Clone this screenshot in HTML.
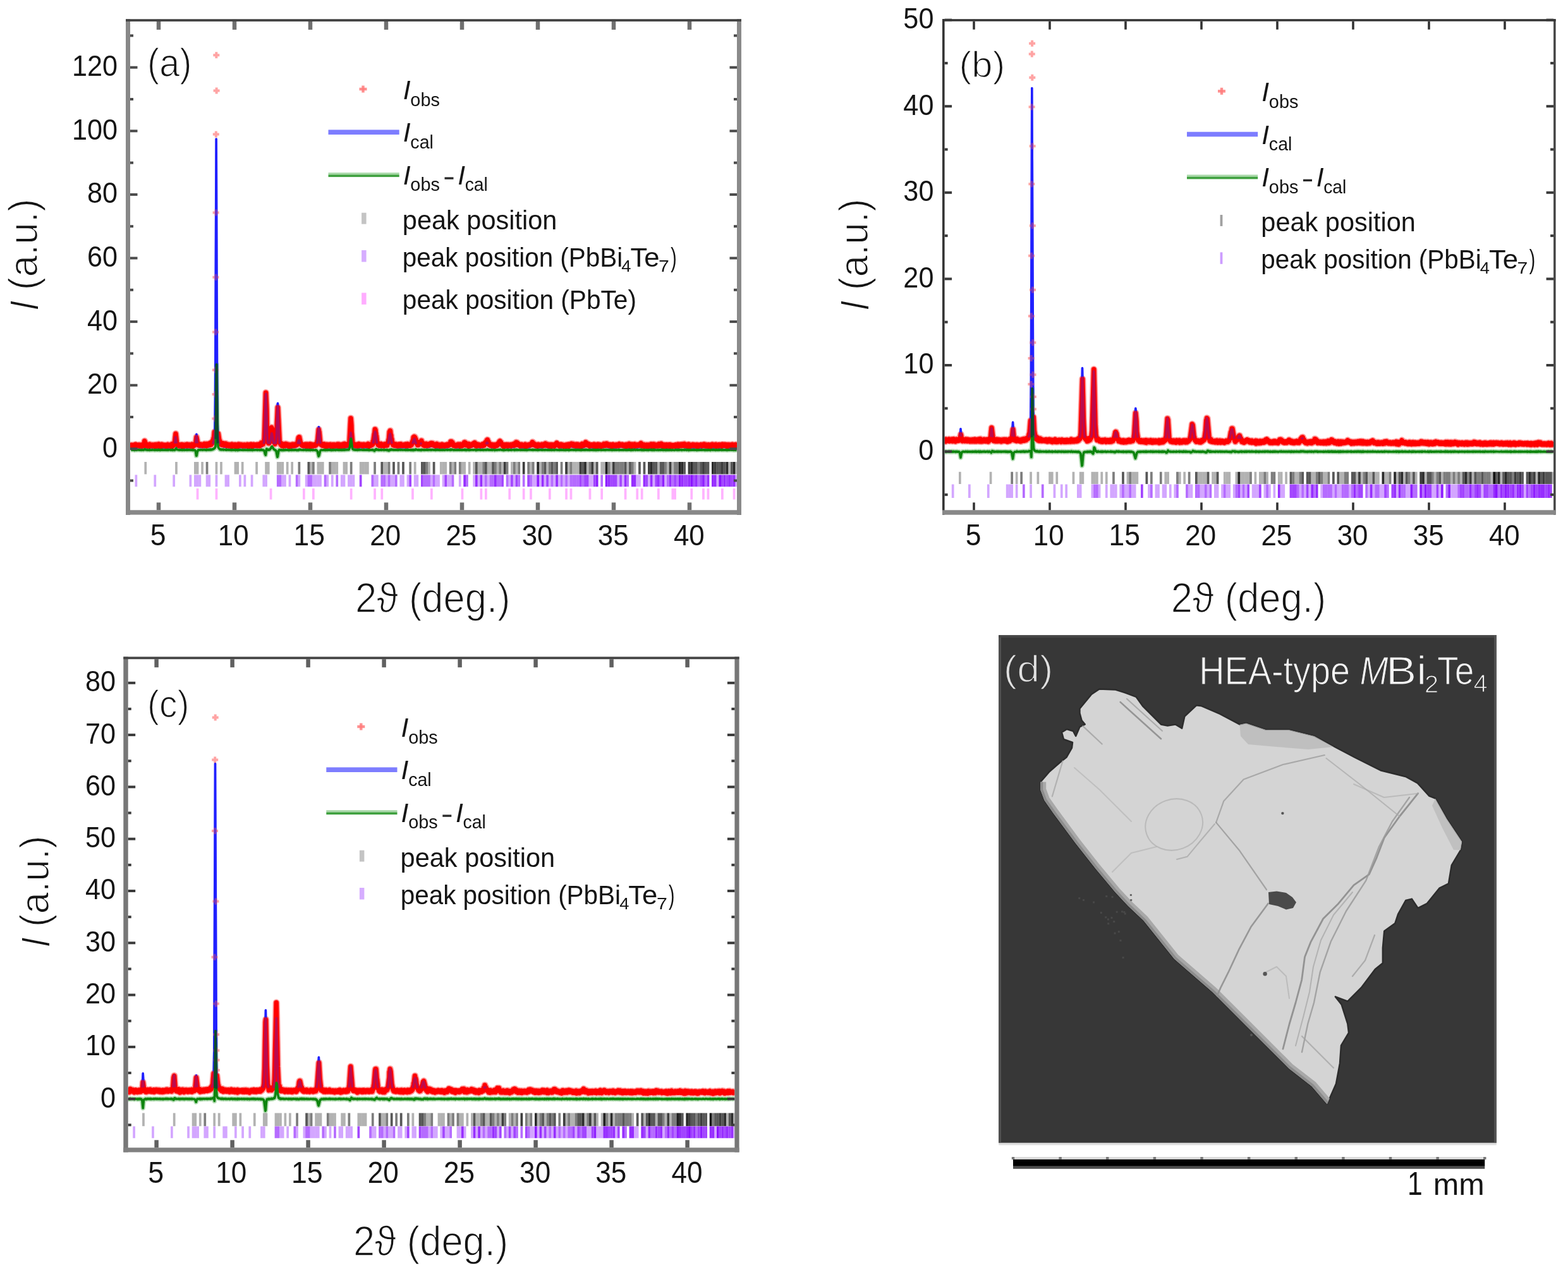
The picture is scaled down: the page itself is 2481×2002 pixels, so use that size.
<!DOCTYPE html><html><head><meta charset="utf-8"><title>Figure</title>
<style>html,body{margin:0;padding:0;background:#fff;overflow:hidden}svg{display:block}</style>
</head><body>
<svg width="2481" height="2002" viewBox="0 0 2481 2002" font-family="'Liberation Sans', Arial, sans-serif">
<rect width="2481" height="2002" fill="#fff"/>
<clipPath id="clipa"><rect x="206.0" y="34.0" width="960.0" height="773.3"/></clipPath>
<g clip-path="url(#clipa)">
<defs><path id="diffa" d="M207.2,711.9 211.5,712.1 212.5,711.8 213.0,712.5 214.4,711.6 214.6,712.2 215.1,711.6 216.1,712.3 219.0,711.8 220.4,712.2 220.6,711.8 221.1,712.2 223.3,711.9 223.5,712.3 224.0,711.8 225.7,712.2 226.4,711.8 226.9,712.3 227.4,711.8 227.8,712.0 229.3,710.6 230.7,712.0 232.2,711.7 232.9,712.2 233.1,711.7 233.6,712.1 235.5,712.2 236.0,711.7 236.5,712.4 237.0,711.5 237.4,712.2 237.7,711.9 240.8,712.2 241.0,711.7 243.7,712.2 244.4,711.7 245.1,712.4 245.6,711.8 246.1,712.1 247.0,711.6 247.5,712.1 249.0,712.3 249.2,711.8 249.7,712.2 250.2,711.8 250.9,712.2 251.1,711.5 251.6,712.2 253.3,711.8 253.5,712.5 253.8,712.0 255.0,712.2 255.4,711.6 255.7,712.2 256.6,712.2 256.9,711.7 257.1,712.2 262.6,711.9 263.1,712.3 264.1,711.9 265.5,712.3 265.8,711.7 266.2,712.3 266.5,711.9 269.8,711.9 270.1,712.3 271.5,711.8 272.5,712.4 272.7,711.4 273.0,712.1 273.4,711.8 273.9,712.3 274.4,711.8 276.3,712.4 276.8,712.3 278.7,709.3 279.9,711.5 283.5,712.3 283.8,711.7 285.2,712.2 286.4,711.8 287.1,712.2 288.1,711.7 288.3,712.4 289.0,711.9 289.3,712.2 291.0,711.8 291.4,712.3 291.7,711.8 292.9,712.2 294.8,711.8 295.3,712.2 296.0,711.6 296.2,712.3 296.7,711.8 297.0,712.2 298.6,711.7 299.4,712.2 300.1,711.8 302.0,712.3 303.0,711.9 303.7,712.1 303.9,711.7 304.2,712.3 305.1,711.9 305.6,712.5 305.8,712.0 306.1,712.4 307.5,712.1 308.7,712.7 309.4,714.1 310.6,721.3 311.1,721.2 312.1,715.4 313.5,712.2 314.2,712.4 315.0,711.8 316.2,712.2 317.6,711.7 320.7,712.2 321.2,711.8 323.1,711.9 323.4,711.5 323.6,711.9 324.1,711.7 324.8,712.1 325.3,711.7 326.2,711.8 326.5,712.3 326.7,711.8 327.2,712.1 327.4,711.5 327.7,712.1 328.4,711.6 329.6,712.0 330.1,711.5 330.3,712.0 331.0,711.6 331.8,711.9 332.0,711.5 332.5,712.0 333.0,711.2 333.2,711.8 333.7,711.3 334.2,711.9 335.1,711.3 335.6,711.6 336.1,710.8 337.0,710.7 337.3,711.1 338.0,710.1 338.5,710.4 339.0,709.3 339.2,709.8 339.9,709.1 340.9,706.8 341.4,694.7 342.6,576.9 344.2,696.4 345.2,707.6 346.6,709.9 347.4,710.6 347.6,710.3 348.1,711.4 348.6,710.9 348.8,711.7 349.0,711.2 349.8,711.6 350.5,711.1 351.0,711.8 351.7,711.2 353.1,711.9 353.6,711.3 353.8,712.0 356.0,711.5 357.0,712.0 357.7,711.3 358.2,711.9 358.6,711.5 358.9,712.2 359.4,711.7 359.6,712.0 361.5,711.7 362.2,712.2 363.0,711.7 364.6,712.2 365.1,711.7 365.4,712.3 366.1,711.9 366.6,712.3 367.0,711.6 368.0,712.3 368.2,711.9 370.9,712.2 371.6,711.7 371.8,712.1 372.3,711.8 372.6,712.5 373.5,711.8 375.4,712.1 375.7,712.6 376.4,711.9 377.1,712.4 377.4,711.6 377.6,712.2 377.8,711.7 379.0,712.2 380.2,711.7 381.2,712.1 384.3,711.9 384.6,712.3 386.2,711.8 386.7,712.2 387.7,711.8 388.9,712.2 390.6,712.1 391.3,711.7 391.8,712.3 392.2,711.8 393.7,712.4 394.6,711.7 395.8,712.3 396.1,711.8 396.6,711.7 396.8,712.2 397.8,711.7 398.5,712.3 398.7,711.8 399.4,712.0 399.7,712.5 400.2,711.8 400.9,712.2 401.4,711.7 401.6,712.2 405.0,711.8 406.6,712.2 407.1,711.8 407.6,712.3 410.0,711.8 411.0,712.4 411.9,711.8 412.2,712.1 413.1,711.8 413.4,712.2 413.6,711.4 413.8,712.1 416.0,712.0 416.2,712.6 417.0,712.4 418.2,713.4 419.4,718.2 420.3,720.2 421.8,710.4 422.5,711.8 422.7,710.8 423.0,711.6 423.4,711.4 423.7,711.9 424.2,711.6 424.4,712.3 425.4,711.6 425.6,712.1 425.8,711.3 426.3,711.9 426.8,711.2 427.0,711.6 428.5,709.2 428.7,709.6 429.7,706.7 430.6,706.4 433.3,711.2 434.7,711.7 435.2,712.6 436.2,712.6 436.9,713.5 438.8,723.2 439.3,722.8 441.0,713.0 441.9,711.8 442.2,712.6 443.4,712.0 444.3,712.4 444.6,711.7 446.2,712.6 446.5,712.1 447.9,711.9 448.2,712.5 448.6,711.7 448.9,712.3 449.8,711.9 450.3,712.4 451.8,712.2 452.0,711.6 452.2,712.0 453.2,712.1 455.8,711.8 456.1,712.3 456.8,712.1 457.0,712.4 457.3,712.0 457.5,712.5 458.0,711.9 459.2,712.2 460.2,711.9 460.4,712.4 460.9,711.8 461.6,712.3 461.8,711.8 462.1,712.3 462.8,711.7 464.7,712.3 465.9,711.7 466.6,712.2 467.4,711.8 467.6,712.1 467.8,711.7 468.1,712.2 469.5,712.0 469.8,712.5 470.7,712.1 471.9,712.4 472.2,711.9 472.4,712.5 473.6,711.2 474.1,711.8 474.3,711.3 474.8,711.8 475.5,711.5 475.8,711.9 478.4,712.2 479.8,711.8 480.3,712.3 480.6,711.9 481.0,712.2 482.7,711.7 483.9,712.3 484.2,711.6 484.4,712.3 484.6,711.9 485.4,712.4 485.8,711.9 486.1,712.3 486.8,711.7 488.0,712.3 488.2,711.8 488.5,712.3 489.2,711.8 489.9,712.1 490.4,711.6 491.1,712.6 491.8,711.7 492.3,712.2 493.8,711.8 494.5,712.4 495.0,711.9 495.9,712.4 496.4,712.0 498.6,712.5 499.3,712.0 499.5,712.6 500.7,712.4 502.2,714.1 504.1,722.1 504.8,721.0 506.5,714.1 507.2,712.9 508.6,712.0 510.3,712.4 511.8,711.9 512.7,712.1 513.0,711.7 513.2,712.4 514.4,711.8 514.6,712.3 515.1,712.0 515.6,712.5 515.8,711.9 517.0,712.2 517.3,711.7 518.0,712.4 518.5,711.8 520.4,712.1 520.6,711.7 520.9,712.2 521.8,711.8 522.6,712.3 522.8,711.6 524.7,712.5 525.2,711.9 526.4,712.1 526.6,711.7 526.9,712.3 527.6,712.4 528.1,711.8 528.8,711.7 530.2,712.3 531.0,711.8 531.2,712.3 533.8,711.6 534.3,712.1 535.5,712.1 536.0,711.6 536.2,712.4 536.5,711.8 538.2,712.3 538.4,711.7 539.4,712.2 539.8,711.7 540.3,712.2 540.6,711.7 541.0,712.3 542.2,712.2 542.7,711.6 543.0,712.1 543.4,711.9 543.7,711.4 543.9,712.3 544.2,711.7 544.4,712.1 544.9,711.9 545.1,711.3 545.6,712.2 545.8,711.6 546.1,712.0 547.8,711.6 548.5,712.0 549.7,711.3 550.4,711.8 551.4,711.2 552.1,711.5 553.3,708.5 555.2,694.0 555.7,695.1 557.4,708.6 557.8,710.3 559.0,711.6 559.3,711.2 560.2,711.2 560.5,711.8 562.4,712.1 562.6,711.6 565.0,712.1 565.3,711.6 565.8,712.3 567.9,711.4 568.4,712.1 569.1,711.6 569.8,712.0 571.8,711.7 573.9,712.2 575.1,711.7 575.6,712.1 576.3,711.7 576.6,712.1 577.0,711.7 577.3,712.1 577.5,711.7 577.8,712.1 579.2,712.2 580.2,711.7 580.4,712.2 580.6,711.8 581.1,712.1 581.6,711.7 582.1,712.2 582.6,711.5 583.0,712.2 584.0,712.0 584.2,712.5 584.7,711.7 586.2,712.3 588.3,711.8 588.6,712.3 589.8,712.5 590.0,711.7 590.5,712.6 592.4,713.0 592.6,713.6 593.4,712.0 593.6,712.3 594.1,711.4 594.6,712.0 594.8,711.0 595.0,711.5 595.5,710.6 595.8,711.5 596.5,711.4 596.7,711.9 597.0,711.4 598.4,712.2 598.6,711.5 598.9,712.0 599.8,711.7 600.3,712.3 601.8,711.7 602.5,712.1 603.0,711.5 603.9,712.3 605.1,711.8 607.0,711.9 607.5,712.4 608.2,711.7 608.5,712.1 609.0,711.7 609.9,712.2 611.4,711.6 611.6,712.2 612.3,711.8 612.6,712.6 613.5,712.0 614.2,712.8 615.0,712.4 615.4,713.2 616.4,711.7 616.6,712.6 617.1,711.6 618.3,712.0 618.8,711.1 619.0,711.9 619.8,711.2 620.5,711.8 621.7,711.6 622.2,712.2 623.4,711.7 623.6,712.1 625.5,712.1 625.8,711.6 626.0,712.1 628.2,711.9 629.6,712.3 630.3,711.7 631.0,712.2 632.2,711.6 634.2,712.2 634.6,711.5 634.9,712.0 636.1,711.8 637.3,712.2 639.7,711.8 639.9,712.1 641.4,711.8 641.6,712.1 642.1,711.6 642.6,712.3 642.8,711.8 644.0,712.2 644.7,711.5 645.2,712.3 646.2,711.7 646.6,712.2 648.3,711.9 649.5,712.4 649.8,712.0 650.5,712.3 650.7,711.9 651.2,712.4 651.9,711.8 652.4,712.4 653.1,712.0 653.8,712.6 654.3,711.7 655.3,712.4 656.7,711.5 657.0,712.1 657.2,711.6 657.4,712.0 657.9,711.1 660.8,712.2 661.8,712.2 662.2,711.6 662.5,712.3 664.2,711.8 664.4,712.4 666.3,711.9 666.6,712.6 666.8,711.5 667.3,712.2 667.5,711.7 667.8,712.2 669.0,711.6 669.9,712.2 671.1,711.7 671.4,712.2 671.8,711.7 672.6,712.2 674.0,712.1 674.5,711.4 674.7,712.0 675.7,712.1 676.6,711.6 677.4,712.2 677.8,711.7 679.3,712.0 679.5,711.6 679.8,712.1 681.0,711.7 681.7,712.2 681.9,711.6 683.1,712.1 683.4,711.7 684.1,712.0 684.8,711.6 685.5,712.1 688.2,711.8 689.1,712.3 689.4,711.7 689.6,712.3 690.1,711.7 690.8,712.1 691.3,711.4 691.5,712.0 692.7,711.7 693.2,712.2 693.9,711.7 694.4,712.1 695.6,711.9 696.1,712.3 696.3,711.8 696.6,712.2 697.8,712.2 699.4,711.7 699.9,712.3 701.6,711.8 701.8,712.2 702.8,711.9 703.8,712.3 705.9,711.8 707.8,712.2 708.1,711.6 708.3,712.1 711.2,711.7 712.4,712.3 713.1,711.3 713.8,711.9 714.1,711.3 714.3,712.2 715.8,711.4 717.2,712.2 717.9,711.8 718.2,712.3 719.1,711.9 721.5,712.3 722.2,711.8 723.0,712.2 724.2,711.8 724.4,712.2 725.1,711.6 725.6,712.1 727.0,711.9 727.5,712.3 728.5,711.6 729.2,712.2 730.9,711.8 731.1,712.3 731.8,711.8 734.0,712.1 734.7,711.5 735.2,712.1 735.7,711.5 736.2,712.2 736.4,711.7 736.9,711.8 737.1,712.4 737.4,711.8 737.6,712.4 738.1,711.7 738.6,712.3 739.0,711.6 740.7,712.1 741.4,711.5 741.9,712.4 742.4,711.9 742.9,712.3 744.3,711.7 744.8,712.2 747.0,711.8 748.9,712.1 751.3,711.5 752.0,712.0 752.7,711.7 753.0,712.5 753.2,711.9 753.4,712.3 753.9,711.7 754.4,712.4 754.9,711.7 755.6,712.1 756.1,711.7 757.3,712.1 757.5,711.7 759.2,711.8 759.9,712.3 760.4,711.9 763.0,712.1 763.8,711.6 764.5,712.2 764.7,711.7 765.0,712.0 765.7,711.8 765.9,712.2 766.2,711.8 767.8,711.6 768.1,712.2 769.3,711.7 770.0,712.1 770.5,711.5 771.2,711.8 771.4,711.2 772.6,712.0 772.9,711.5 773.1,712.2 773.4,711.8 774.3,712.2 774.6,711.7 776.7,712.2 777.0,711.7 777.7,712.2 778.6,712.2 778.9,711.8 779.1,712.3 779.4,711.9 782.2,711.9 782.7,712.5 783.4,711.8 784.2,712.2 785.4,711.8 786.6,712.3 788.2,711.6 789.7,712.1 791.1,711.4 791.4,711.8 792.6,711.5 793.3,712.1 795.0,711.8 795.2,712.2 795.4,711.8 795.7,712.4 795.9,711.9 797.1,711.8 797.4,712.6 798.3,711.8 800.2,712.2 801.9,711.7 803.8,712.3 804.1,711.7 804.6,712.3 804.8,711.8 805.8,712.1 807.9,711.8 809.1,712.3 809.4,711.8 813.0,712.0 813.2,711.6 813.7,712.2 814.2,711.5 814.9,712.3 815.4,711.6 815.6,711.9 816.6,711.4 817.8,712.2 818.0,711.5 820.6,712.1 822.6,711.7 823.5,712.3 825.4,711.7 825.7,712.2 829.3,711.9 830.5,712.3 831.2,711.6 832.6,712.4 832.9,711.8 833.4,712.3 833.8,711.8 834.6,712.3 836.5,711.7 836.7,712.0 838.2,711.7 841.3,712.1 841.8,711.6 842.2,711.9 842.5,711.4 843.2,712.3 843.4,711.8 844.4,712.2 844.6,711.6 845.6,712.1 847.0,711.7 848.2,712.2 849.7,711.9 850.6,712.3 850.9,711.8 851.4,712.3 851.6,711.7 851.8,712.1 852.8,711.9 853.0,712.2 854.7,711.8 856.4,712.1 856.9,711.7 857.1,712.2 857.6,712.1 857.8,711.6 858.1,712.2 858.6,711.8 859.5,712.2 861.0,711.7 861.9,712.3 862.4,711.8 862.9,712.1 863.1,711.6 865.5,712.2 865.8,711.9 867.0,711.8 867.2,712.2 867.4,711.7 867.7,712.1 868.9,711.8 869.6,712.3 870.3,711.7 872.0,712.3 872.2,711.7 873.0,712.3 874.2,711.8 874.9,712.2 876.6,711.8 877.3,712.4 877.5,712.0 879.7,711.7 880.9,712.1 881.1,711.6 882.6,712.2 885.0,711.8 885.2,712.4 885.4,711.9 886.2,712.1 886.9,711.7 887.4,712.2 888.3,711.7 888.8,712.2 891.7,711.8 892.2,712.4 892.6,711.9 893.8,712.3 894.1,711.9 895.0,711.8 895.3,712.4 896.2,711.7 896.7,712.1 897.0,711.8 898.9,712.1 899.4,711.7 900.1,712.5 900.8,711.7 902.0,712.1 902.2,711.8 903.9,712.1 904.2,711.6 906.8,712.1 907.0,711.6 907.8,712.1 908.2,711.8 910.2,712.1 910.4,711.6 910.6,712.3 910.9,711.9 911.8,712.3 912.3,711.6 913.5,712.2 914.2,711.6 915.2,712.2 915.7,711.7 917.1,712.2 917.6,711.8 917.8,712.3 919.3,711.9 919.5,712.5 919.8,711.7 920.7,712.1 921.2,711.4 921.7,712.0 922.2,711.8 923.1,712.2 923.8,711.6 924.1,712.1 924.8,711.7 925.5,712.2 925.8,711.8 926.5,712.0 926.7,711.3 927.0,712.0 927.7,711.6 928.4,712.1 928.6,711.7 929.4,712.1 930.1,711.8 930.3,712.2 930.8,711.6 931.8,712.2 932.7,711.6 933.2,712.3 933.9,711.7 934.6,712.2 935.4,711.8 938.0,712.1 938.2,711.7 938.7,712.3 939.0,711.9 939.7,712.1 939.9,711.6 940.2,712.1 941.1,711.9 941.4,712.3 941.8,711.7 942.1,712.3 942.6,711.9 943.3,712.4 943.5,711.8 944.2,711.8 944.5,712.4 945.7,711.6 946.6,712.3 947.1,711.6 947.8,712.2 949.5,711.8 951.0,712.4 951.2,711.9 954.8,712.1 955.5,711.5 956.0,712.1 957.0,711.7 957.7,712.3 957.9,711.7 958.6,712.0 958.9,711.6 959.1,712.0 959.4,711.7 959.6,712.0 960.3,711.6 962.7,712.2 963.0,711.8 964.6,711.9 964.9,712.2 965.8,711.7 966.8,712.1 967.5,711.7 968.2,712.4 968.5,712.0 969.2,712.3 970.2,711.6 970.4,712.2 971.8,712.2 972.1,711.8 972.3,712.2 973.0,711.8 974.2,712.2 975.4,711.7 976.2,712.2 978.6,711.7 979.0,712.2 979.8,711.5 980.2,712.2 980.7,711.7 981.0,712.2 984.8,711.8 985.0,712.2 985.5,711.8 986.7,712.3 987.9,711.8 989.4,712.3 990.6,711.8 991.0,712.1 991.3,711.7 992.0,712.4 993.4,711.8 993.7,712.2 995.1,712.0 995.4,711.3 995.8,712.1 998.0,711.8 998.2,712.5 999.2,711.7 999.7,712.2 999.9,711.6 1000.2,712.1 1001.6,711.8 1001.8,712.3 1002.6,711.8 1004.0,712.0 1004.2,711.5 1005.4,712.3 1006.9,711.8 1008.3,712.1 1008.6,711.7 1009.8,712.2 1012.2,711.7 1012.4,712.1 1012.6,711.6 1013.4,712.0 1014.3,711.3 1015.3,712.4 1016.0,711.8 1016.5,712.3 1017.2,711.7 1017.4,712.2 1018.4,712.3 1018.9,711.7 1019.4,712.3 1020.1,711.9 1022.2,712.1 1023.0,711.8 1023.2,712.3 1024.4,711.9 1025.4,712.5 1026.1,711.8 1027.0,712.2 1028.0,711.8 1029.0,712.1 1029.9,711.5 1030.2,712.2 1030.9,711.9 1031.4,712.3 1031.6,711.6 1032.3,712.4 1032.6,711.8 1034.0,712.4 1034.2,711.5 1035.0,712.2 1035.4,711.6 1035.9,712.2 1036.2,711.8 1038.6,712.3 1040.5,711.8 1041.4,712.4 1042.4,711.7 1043.1,712.1 1043.8,711.8 1044.3,712.3 1044.6,711.9 1046.0,712.1 1046.2,711.4 1046.5,712.1 1047.0,711.8 1048.2,712.1 1048.4,711.7 1048.6,712.2 1048.9,711.9 1049.4,712.4 1049.6,711.7 1050.6,712.2 1051.8,711.8 1052.2,712.3 1053.0,711.9 1053.4,712.4 1054.2,711.7 1054.4,712.2 1054.9,711.8 1055.1,712.3 1055.6,711.7 1056.8,712.3 1057.8,711.8 1058.5,712.3 1059.2,711.7 1059.4,712.3 1060.4,711.7 1060.9,712.2 1061.6,711.9 1061.8,712.3 1063.0,712.3 1063.5,711.9 1067.6,712.3 1069.0,711.7 1070.7,712.2 1071.7,711.8 1071.9,712.3 1072.6,711.6 1074.1,712.3 1074.3,711.6 1075.0,712.2 1077.0,711.7 1077.9,711.8 1078.2,712.3 1078.4,711.7 1079.4,712.3 1080.1,711.7 1082.2,712.2 1083.0,711.4 1083.4,712.1 1084.4,711.7 1085.8,712.2 1086.6,712.3 1086.8,711.7 1087.0,712.1 1087.8,711.7 1089.0,712.1 1089.2,711.6 1089.7,712.6 1090.4,711.6 1090.6,712.4 1091.1,711.8 1092.8,712.3 1093.0,711.8 1095.7,712.1 1096.4,711.7 1097.8,712.1 1098.3,711.7 1098.6,712.2 1099.5,711.8 1101.0,712.2 1102.6,711.7 1102.9,712.5 1104.1,711.8 1105.5,712.3 1105.8,711.8 1108.9,712.1 1109.4,711.7 1109.6,712.1 1110.3,712.2 1110.6,711.8 1111.3,712.2 1113.2,711.7 1113.9,712.2 1114.6,711.7 1114.9,712.3 1115.6,711.8 1116.3,712.4 1117.0,711.8 1118.2,712.3 1119.2,712.0 1119.4,712.3 1120.9,711.7 1121.6,712.3 1123.5,711.9 1124.2,712.5 1125.2,711.7 1126.6,712.0 1127.1,711.6 1127.4,712.1 1127.8,711.8 1128.3,712.1 1128.6,711.7 1129.8,712.1 1130.0,711.7 1130.2,712.1 1131.9,711.9 1132.2,712.3 1132.6,711.6 1132.9,712.3 1134.3,711.7 1134.6,712.2 1135.8,712.3 1137.2,711.7 1137.7,712.2 1138.2,711.7 1139.1,712.1 1140.8,711.7 1141.8,712.3 1143.0,711.6 1143.9,712.2 1144.2,711.7 1146.3,712.2 1146.8,711.8 1147.5,712.2 1148.0,711.8 1149.2,712.3 1149.7,711.9 1149.9,712.3 1150.2,711.8 1151.1,712.4 1152.3,711.7 1152.8,712.2 1154.2,711.8 1154.7,712.2 1156.2,711.8 1156.6,712.1 1157.1,711.8 1158.6,712.2 1158.8,711.6 1160.5,712.4 1160.7,711.8 1161.2,712.3 1161.4,711.8 1162.9,711.9 1163.1,712.3 1163.8,711.7 1164.1,712.4 1164.8,711.7"/></defs>
<use href="#diffa" fill="none" stroke="#b5dcb5" stroke-width="7.5" stroke-linejoin="round"/>
<defs><path id="obsa" d="M207.2,704.7 207.7,704.8 207.9,705.9 208.2,704.4 208.6,705.4 208.9,704.6 209.6,705.0 209.8,704.6 210.1,705.5 210.8,704.6 211.5,705.5 212.2,705.2 212.5,704.1 213.0,706.9 214.4,703.5 214.6,705.8 215.1,703.5 216.1,706.1 216.3,704.9 216.8,705.8 217.3,705.0 217.5,705.6 218.0,704.9 218.5,705.3 219.0,704.3 219.4,705.5 219.7,704.4 219.9,705.3 220.2,704.3 220.4,705.7 220.6,704.3 221.1,705.8 221.8,704.8 222.3,705.7 223.3,704.4 223.5,706.1 224.0,704.0 224.5,705.5 224.7,704.3 225.0,704.7 225.2,704.2 225.7,705.9 226.4,704.2 226.9,705.7 227.4,703.5 227.8,703.6 228.8,698.0 229.8,700.4 230.0,704.2 230.2,703.3 230.7,705.3 231.0,704.2 231.2,705.0 231.4,704.0 231.7,704.8 232.2,703.9 232.9,705.9 233.1,703.6 233.6,705.4 234.3,704.3 235.0,705.4 235.3,704.6 235.5,705.7 236.0,703.9 236.5,706.7 237.0,703.2 237.4,705.8 237.7,704.5 237.9,705.5 238.6,704.6 238.9,705.2 239.1,704.8 240.1,705.6 240.3,705.0 240.8,705.7 241.0,703.9 241.3,705.0 241.8,704.6 242.0,705.3 242.7,704.8 243.0,705.8 243.2,704.4 243.7,705.7 244.4,703.8 245.1,706.5 245.6,704.3 246.1,705.4 247.0,703.6 247.5,705.4 248.7,704.8 249.0,706.1 249.2,704.4 249.7,705.8 250.2,704.0 250.9,705.6 251.1,702.9 251.6,705.8 252.1,704.9 252.3,706.1 252.6,704.8 252.8,705.3 253.3,704.3 253.5,706.9 253.8,704.9 254.0,706.1 254.2,704.2 255.0,705.7 255.4,703.5 255.7,705.7 255.9,704.7 256.6,705.8 256.9,703.6 257.1,705.6 257.6,704.6 257.8,705.4 258.6,705.0 258.8,705.8 259.3,705.1 260.0,705.1 260.2,704.4 261.4,705.8 261.7,704.6 261.9,705.7 262.6,704.6 263.1,706.3 263.4,704.6 263.8,705.9 264.1,704.4 264.6,705.7 265.3,704.8 265.5,706.0 265.8,703.6 266.2,706.0 266.5,704.5 266.7,705.1 267.7,704.7 267.9,705.4 268.2,704.4 268.6,705.5 269.1,704.5 269.6,705.4 269.8,704.4 270.1,706.1 270.6,704.8 270.8,705.7 271.5,704.1 271.8,705.4 272.2,704.4 272.5,706.4 272.7,702.4 273.0,705.1 273.4,703.9 273.9,705.7 274.2,703.9 274.6,704.5 275.1,703.5 275.4,704.3 276.3,701.8 278.0,686.5 279.9,702.6 280.4,703.5 280.6,702.5 280.9,703.9 281.4,703.5 281.6,704.5 281.8,703.3 282.1,704.9 282.8,704.6 283.0,705.6 283.3,704.6 283.5,705.8 283.8,703.7 284.2,705.2 285.0,704.9 285.2,705.5 286.4,704.0 287.1,705.8 287.4,704.4 287.6,704.8 288.1,703.7 288.3,706.5 288.6,704.7 288.8,705.6 289.0,704.4 289.3,705.8 290.0,704.4 290.7,705.2 291.0,704.2 291.4,706.1 291.7,704.3 292.2,704.2 292.4,705.1 292.6,704.3 292.9,705.6 293.1,704.5 293.4,705.2 293.8,704.1 294.1,705.4 294.8,704.0 295.3,705.7 296.0,703.4 296.2,706.0 296.7,703.9 297.0,705.8 297.7,704.1 297.9,705.3 298.6,703.8 299.4,705.5 300.1,704.0 300.6,705.4 301.0,704.3 302.0,706.0 302.2,704.7 302.7,705.4 303.0,704.3 303.2,705.8 303.7,705.1 303.9,703.3 304.2,705.9 304.4,704.3 304.9,704.5 305.1,703.9 305.6,706.3 305.8,704.1 306.1,705.5 306.3,704.9 306.6,705.5 306.8,703.8 307.3,705.0 307.5,703.8 308.0,704.5 308.5,704.3 308.7,703.5 309.2,703.6 309.4,701.9 309.7,702.3 310.9,691.9 313.0,703.9 313.5,703.0 314.2,704.6 315.0,702.9 315.4,704.7 316.2,705.1 316.9,703.2 317.1,704.5 317.6,703.3 317.8,704.5 318.1,703.4 318.6,704.9 318.8,704.4 319.5,704.7 320.0,704.2 320.7,705.6 321.2,704.1 321.9,704.1 322.2,705.0 322.9,703.7 323.1,704.1 323.4,702.5 323.6,704.5 324.1,703.4 324.8,705.2 325.3,703.5 326.0,704.5 326.2,703.8 326.5,705.8 326.7,704.0 327.2,705.1 327.4,702.5 327.7,705.1 328.2,704.9 328.4,703.1 328.6,704.6 329.1,703.4 329.6,704.8 330.1,702.4 330.3,704.6 331.0,702.8 331.3,703.2 331.5,702.7 331.8,704.1 332.0,702.4 332.5,704.2 333.0,700.9 333.2,703.3 333.7,701.2 334.2,703.7 335.1,700.7 335.6,701.8 336.1,698.3 336.8,698.7 337.0,697.1 337.3,698.4 338.0,693.6 338.2,693.1 338.5,693.5 339.4,683.8M345.2,686.4 346.6,695.4 347.4,698.3 347.6,697.4 348.1,701.9 348.6,700.0 348.8,703.2 349.0,701.1 349.8,702.8 350.5,701.0 351.0,703.7 351.7,701.3 352.2,702.7 352.4,701.6 353.1,704.4 353.6,701.8 353.8,704.6 354.1,703.6 354.3,704.7 354.8,703.1 355.0,704.0 356.0,702.6 357.0,704.7 357.2,703.7 357.4,704.4 357.7,702.1 358.2,704.4 358.6,703.0 358.9,705.7 359.4,703.6 359.6,705.0 360.3,703.9 361.3,704.4 361.5,703.6 362.2,705.8 363.0,703.8 363.7,705.3 364.2,704.8 364.6,705.6 365.1,703.9 365.4,706.2 365.6,704.8 365.8,706.1 366.1,704.5 366.6,706.1 367.0,703.3 368.0,706.2 368.2,704.3 368.7,705.7 369.0,704.1 369.4,705.1 369.7,704.1 369.9,705.3 370.2,704.2 370.4,705.4 370.6,704.3 370.9,705.5 371.1,703.7 371.4,704.5 371.6,703.7 371.8,705.3 372.3,704.1 372.6,706.7 373.0,704.0 373.3,704.4 373.5,704.0 374.7,706.0 375.0,705.2 375.4,705.2 375.7,707.3 376.4,704.6 377.1,706.4 377.4,703.3 377.6,705.6 377.8,703.6 379.0,705.6 380.2,703.6 380.5,705.1 380.7,704.1 381.2,705.4 381.7,705.5 381.9,704.1 382.4,703.9 383.4,705.6 383.6,704.5 384.1,705.6 384.3,704.4 384.6,706.0 384.8,704.9 385.5,705.6 385.8,704.1 386.2,704.0 386.7,705.7 387.0,705.1 387.2,705.7 387.7,704.0 388.2,705.2 388.6,704.7 388.9,705.8 389.1,704.7 389.6,705.2 390.1,704.7 390.6,705.4 391.3,703.6 391.8,706.1 392.2,704.1 392.7,705.9 393.0,704.8 393.2,706.1 393.4,705.1 393.7,706.4 393.9,705.0 394.2,706.3 394.6,703.7 394.9,705.0 395.1,704.3 395.8,705.9 396.1,704.1 396.3,704.8 396.6,703.6 396.8,705.6 397.8,703.5 398.5,706.0 398.7,703.8 399.2,705.2 399.4,704.8 399.7,706.6 400.2,704.1 400.9,705.5 401.4,703.5 401.6,705.6 402.3,704.5 403.0,705.3 404.2,704.2 404.5,705.1 405.0,703.9 405.2,704.8 405.7,704.0 406.4,704.4 406.6,705.5 407.1,703.6 407.6,705.6 407.8,704.3 408.1,705.1 408.6,704.3 408.8,705.3 409.0,703.4 409.3,704.4 410.0,703.3 410.5,705.3 410.7,704.2 411.0,705.8 411.9,703.0 412.2,704.3 413.1,702.5 413.4,703.9 413.6,700.7 413.8,703.5 414.6,702.6 415.0,703.4 415.3,701.6 415.5,702.5 416.0,701.0 416.2,703.0 417.7,699.0 418.4,693.2 420.6,621.4 421.8,647.3 422.5,680.4 423.2,693.0 424.4,700.8 424.6,699.7 424.9,701.3 425.4,699.3 425.6,701.4 425.8,698.4 426.3,700.6 426.8,697.5 427.0,698.9 427.5,696.7 429.7,676.4 430.2,678.5 430.4,678.2 430.6,678.7 433.3,699.4 433.8,698.7 434.7,699.9 435.2,702.6 435.7,700.1 435.9,700.5 436.9,694.2 437.1,695.1 437.6,687.9 439.5,644.8 442.2,698.5 442.6,700.8 442.9,699.9 444.3,703.6 444.6,701.2 445.3,703.6 446.0,703.9 446.2,705.5 446.5,703.8 446.7,704.1 447.4,703.4 447.7,704.1 447.9,703.5 448.2,706.0 448.6,702.9 448.9,705.1 449.4,703.8 449.6,705.0 449.8,703.8 450.3,705.8 451.5,704.2 451.8,705.2 452.0,702.6 452.2,704.6 452.7,704.2 453.2,705.0 453.7,703.9 454.2,703.9 454.6,705.2 454.9,703.2 455.1,704.8 455.8,703.6 456.1,705.6 456.8,704.9 457.0,706.4 457.3,704.7 457.5,706.7 457.8,704.4 458.2,704.2 458.5,705.5 458.7,704.0 459.2,705.6 460.2,704.1 460.4,706.2 460.9,704.0 461.6,705.7 461.8,704.0 462.1,705.8 462.8,703.3 463.5,705.1 464.0,703.8 464.7,705.6 465.2,704.1 465.7,704.9 465.9,703.3 466.6,705.3 467.4,703.3 467.6,704.7 467.8,702.9 468.1,704.8 468.6,703.3 469.0,704.3 469.5,702.8 469.8,704.2 471.9,696.6 472.2,693.8 472.4,695.7 472.6,692.6 472.9,694.7 473.6,691.9 474.1,696.1 474.3,695.2 474.8,699.2 475.0,698.9 475.5,700.0 475.8,702.0 476.2,702.0 477.0,704.0 477.2,703.0 478.4,705.0 478.9,703.8 479.6,704.2 479.8,703.5 480.3,705.7 480.6,704.3 481.0,705.3 481.3,704.2 482.0,704.9 482.7,703.4 483.0,705.2 483.4,704.5 483.7,706.0 484.2,703.2 484.4,706.0 484.6,704.3 485.4,706.2 485.8,704.2 486.1,705.8 486.8,703.3 487.0,705.1 487.3,703.9 488.0,706.0 488.2,703.7 488.5,705.8 489.2,704.0 489.4,705.4 489.9,705.0 490.4,703.0 491.1,706.8 491.8,703.3 492.3,705.3 493.3,704.8 493.8,703.6 494.5,705.9 495.0,703.9 495.9,705.7 496.4,704.2 496.6,704.8 497.1,704.3 497.6,705.0 498.1,704.0 498.6,705.2 499.3,702.8 499.5,705.0 500.7,702.4 501.2,703.4 501.4,703.0 502.2,698.1 502.4,697.4 502.6,698.6 504.3,680.1 504.6,683.5 504.8,684.4 505.0,683.3 506.7,701.1 507.0,701.7 507.2,700.9 507.4,702.7 507.9,702.1 508.2,703.7 508.6,702.2 508.9,703.4 509.1,702.6 510.3,705.2 510.6,704.0 511.0,704.6 511.3,703.9 511.5,705.0 511.8,703.7 512.0,704.5 512.7,704.7 513.0,702.9 513.2,705.8 513.7,703.8 514.2,704.9 514.4,703.5 514.6,705.5 515.1,704.3 515.6,706.5 515.8,704.1 516.6,705.1 516.8,704.7 517.0,705.5 517.3,703.6 518.0,706.2 518.5,703.8 519.4,705.1 519.7,704.4 520.4,705.1 520.6,703.7 520.9,705.7 521.8,703.9 522.6,705.9 522.8,703.4 523.3,705.0 524.2,704.7 524.7,706.7 525.2,704.5 525.7,705.0 526.2,704.2 526.4,705.2 526.6,703.8 526.9,706.3 527.4,705.5 527.6,706.6 528.1,704.0 528.6,704.8 528.8,703.7 529.3,705.2 530.0,704.4 530.2,706.0 530.5,704.2 530.7,705.2 531.0,704.3 531.2,706.0 531.9,704.2 532.2,705.7 532.4,703.7 532.9,705.3 533.1,704.0 533.4,704.8 533.8,703.2 534.3,705.2 534.8,704.5 535.5,705.3 536.0,703.2 536.2,706.7 536.5,704.4 536.7,705.0 537.2,704.2 538.2,706.2 538.4,704.0 539.4,705.8 539.8,703.9 540.3,705.9 540.6,703.8 541.0,706.2 541.8,704.8 542.2,705.9 542.7,703.4 543.0,705.3 543.7,702.8 543.9,706.1 544.2,703.9 544.4,705.6 544.9,704.8 545.1,702.4 545.6,706.0 545.8,703.7 546.1,705.2 547.8,703.8 548.5,705.1 548.7,703.9 549.0,704.3 549.7,702.8 550.4,704.7 550.9,703.8 551.1,704.4 551.4,702.7 551.6,704.1 551.8,702.6 552.1,704.3 553.0,699.7 555.0,661.9 555.9,672.8 556.2,683.6 557.8,701.9 558.1,702.5 558.3,702.0 558.6,703.3 558.8,702.8 559.0,704.8 559.3,702.9 560.0,703.7 560.2,702.7 560.5,704.8 561.2,704.5 561.4,705.0 561.7,704.3 562.4,705.6 562.6,703.6 562.9,704.5 563.6,704.6 563.8,704.0 565.0,705.5 565.3,703.6 565.8,706.1 566.5,704.5 566.7,705.3 567.9,702.7 568.4,705.6 569.1,703.3 569.8,704.9 570.3,704.3 570.6,705.1 571.0,704.0 571.3,704.9 571.8,703.6 572.0,704.7 572.7,705.2 573.0,704.7 573.9,705.9 574.4,704.5 574.6,705.6 574.9,705.2 575.1,703.6 575.6,705.3 575.8,704.3 576.1,705.2 576.3,703.6 576.6,705.2 577.0,703.8 577.3,705.3 577.5,703.8 577.8,705.3 578.0,704.6 578.2,704.9 578.7,704.6 579.2,705.4 579.4,704.1 580.2,703.7 580.4,705.6 580.6,703.7 581.1,705.0 581.6,703.6 582.1,705.6 582.6,702.6 583.0,705.4 584.0,704.4 584.2,706.3 584.7,703.4 585.2,704.6 585.4,703.5 585.7,705.2 586.2,705.2 587.4,703.3 587.8,704.4 588.3,702.5 588.6,704.2 589.3,702.8 589.8,702.9 590.0,698.9 590.5,700.2 592.4,686.8 592.6,687.7 593.4,679.5 593.6,681.5 593.8,679.9 594.1,681.0 594.6,687.7 594.8,685.9 595.0,689.9 595.3,689.4 595.5,690.1 596.7,700.8 597.0,699.4 598.4,704.1 598.6,701.7 598.9,703.7 599.1,703.3 599.4,704.1 599.8,703.0 600.3,705.2 600.6,704.4 600.8,705.1 601.5,704.2 601.8,703.3 602.0,705.0 602.2,704.0 602.5,704.7 603.0,702.5 603.9,705.5 604.4,705.5 605.1,703.6 606.1,704.9 607.0,704.1 607.5,705.8 608.2,703.1 608.5,704.6 609.0,703.2 609.9,704.9 610.4,703.2 611.1,703.3 611.4,702.3 611.6,704.2 612.3,702.3 612.6,705.0 613.5,701.0 614.2,701.1 615.0,695.7 615.2,696.1 615.4,695.7 616.4,683.4 616.6,686.1 617.4,681.7 618.3,689.6 618.6,688.3 618.8,689.3 619.0,694.2 619.3,693.6 619.8,695.2 620.5,700.4 620.7,700.9 621.0,700.2 621.2,702.3 621.7,701.4 622.2,704.3 622.6,703.1 622.9,703.8 623.4,702.9 623.6,704.5 624.1,704.2 624.3,705.0 625.0,703.7 625.5,705.0 625.8,703.0 626.0,705.0 626.7,704.7 627.0,705.2 627.2,704.5 627.4,705.0 628.2,704.1 628.6,705.1 628.9,704.3 629.4,704.7 629.6,705.9 630.3,703.4 631.0,705.7 631.3,703.9 631.5,705.3 632.2,703.2 632.5,704.7 632.7,703.6 633.4,705.0 633.7,703.7 634.2,705.4 634.6,702.9 634.9,704.8 635.1,703.7 635.4,704.8 635.6,703.8 635.8,704.9 636.1,703.8 637.3,705.5 637.8,704.8 638.0,705.5 638.2,704.4 639.0,705.1 639.4,704.7 639.7,703.7 639.9,705.3 640.6,704.8 641.1,705.1 641.4,703.9 641.6,705.1 642.1,703.2 642.6,705.9 642.8,704.1 643.3,704.2 643.5,705.8 643.8,704.1 644.0,705.4 644.7,702.7 645.2,705.6 645.4,703.8 645.9,704.8 646.2,703.5 646.6,705.4 647.6,704.2 647.8,704.8 648.3,703.8 648.8,704.4 649.3,704.1 649.5,705.4 649.8,703.8 650.0,704.6 650.2,703.6 650.5,704.7 650.7,702.6 651.2,704.0 651.9,700.3 652.4,701.6 653.1,697.7 653.6,696.7 653.8,697.5 654.3,692.2 654.8,693.0 655.0,692.1 655.3,693.0 655.5,691.3 655.8,692.7 656.0,691.5 656.5,693.4 656.7,692.4 657.4,697.0 657.7,694.5 659.4,702.0 659.6,701.6 660.1,702.7 660.3,702.0 660.8,704.2 661.0,703.2 661.8,704.0 662.2,701.5 662.5,703.8 662.7,702.2 663.2,703.2 664.2,699.7 664.4,701.8 664.9,699.8 666.1,699.4 666.3,698.4 666.6,701.5 666.8,697.5 667.3,700.9 667.5,699.4 667.8,701.6 668.0,700.4 668.2,701.4 669.0,701.1 669.2,702.9 669.7,703.1 669.9,704.4 670.2,703.0 670.6,704.8 671.1,703.0 671.4,705.1 671.8,703.3 672.6,705.4 672.8,704.5 673.0,704.8 673.8,704.1 674.0,704.9 674.5,702.4 674.7,704.7 675.0,704.0 675.7,705.2 676.6,703.1 677.4,705.3 677.8,703.4 678.3,704.9 678.6,704.2 679.3,704.5 679.5,702.6 679.8,704.6 680.5,702.6 680.7,703.6 681.0,702.2 681.7,703.9 681.9,701.6 683.1,703.3 683.4,701.5 684.1,703.1 684.3,702.7 684.6,703.0 684.8,701.8 685.5,704.5 685.8,704.0 686.0,704.6 686.7,703.8 687.2,704.6 687.4,704.0 687.7,705.2 688.2,704.0 689.1,705.9 689.4,703.4 689.6,705.8 690.1,703.4 690.8,705.1 691.3,702.6 691.5,704.8 691.8,704.5 692.0,705.0 692.7,703.8 693.2,705.8 693.9,703.8 694.4,705.3 694.9,704.0 695.4,705.1 695.6,704.4 696.1,706.2 696.3,703.9 696.6,705.8 696.8,705.1 697.5,705.0 697.8,705.9 698.0,704.5 698.5,704.8 699.4,703.5 699.9,705.9 700.2,704.7 701.1,705.5 701.6,704.2 701.8,705.6 702.1,704.5 702.6,705.1 702.8,704.3 703.3,705.2 703.5,704.8 703.8,706.2 704.0,705.2 704.5,705.8 704.7,704.7 705.2,705.2 705.9,704.0 706.2,705.3 706.6,704.0 707.1,705.3 707.6,704.9 707.8,705.4 708.1,703.2 708.3,705.0 709.0,704.0 709.5,705.3 709.8,703.1 710.0,704.2 710.7,702.8 711.9,702.5 712.4,703.8 713.1,699.1 713.8,701.3 714.1,698.9 714.3,702.2 715.5,701.4 715.8,700.2 717.2,704.6 717.9,703.4 718.2,705.3 718.6,704.1 718.9,705.1 719.1,704.2 719.8,705.5 720.1,704.7 720.8,705.1 721.3,704.6 721.5,705.9 722.2,704.0 723.0,705.6 723.4,704.1 723.7,705.3 724.2,703.9 724.4,705.5 725.1,703.3 725.6,705.2 725.8,704.5 726.1,705.4 727.0,704.6 727.5,706.1 727.8,705.0 728.2,705.2 728.5,703.2 729.2,705.7 729.9,703.9 730.2,704.8 730.9,703.7 731.1,705.8 731.8,703.4 732.3,704.7 732.6,704.2 732.8,704.7 733.5,702.5 734.0,703.4 734.7,700.3 735.2,702.7 735.7,700.1 736.2,703.0 736.4,700.8 736.9,701.5 737.1,704.2 737.4,701.8 737.6,704.7 738.1,702.2 738.6,704.8 739.0,702.5 739.5,704.5 739.8,703.4 740.7,705.0 741.4,702.6 741.9,706.4 742.4,704.4 742.9,706.0 743.1,704.7 743.8,704.7 744.3,703.5 744.8,705.4 745.5,704.5 746.2,704.9 746.5,703.4 747.0,703.1 747.2,703.8 747.4,703.2 747.9,704.0 748.4,702.3 748.9,703.3 749.4,701.7 749.8,702.3 750.1,701.7 750.8,701.9 751.3,700.7 752.0,703.1 752.5,703.4 752.7,702.5 753.0,705.7 753.2,703.5 753.4,705.4 753.9,703.1 754.4,706.0 754.9,703.3 755.6,705.2 756.1,703.4 756.6,704.5 757.0,703.9 757.3,705.2 757.5,703.7 758.0,704.6 758.2,703.8 758.7,704.2 759.0,705.1 759.2,704.1 759.4,705.5 759.7,704.8 760.2,705.9 760.4,704.4 760.6,704.7 761.4,704.4 761.6,705.3 761.8,704.6 763.0,705.0 763.8,703.0 764.5,705.5 764.7,703.2 765.0,704.5 765.7,703.3 765.9,705.0 766.2,703.3 766.4,703.7 767.1,702.2 767.6,702.2 767.8,700.6 768.1,702.6 769.3,698.8 769.8,698.2 770.0,699.1 770.5,696.7 771.2,698.1 771.4,696.1 772.6,701.0 772.9,699.3 773.1,702.7 773.4,701.4 774.1,704.0 774.6,702.5 774.8,704.1 775.0,703.0 775.8,703.5 776.0,705.1 776.5,703.8 776.7,705.3 777.0,703.2 777.7,705.3 777.9,704.3 778.6,705.4 778.9,703.7 779.1,705.8 779.4,704.3 779.8,704.3 780.1,705.4 780.3,703.9 781.3,704.8 781.5,704.2 781.8,705.3 782.2,704.4 782.7,706.5 783.4,703.8 784.2,705.6 784.4,704.6 784.9,705.3 785.4,703.7 785.8,705.1 786.1,704.0 786.6,705.3 787.3,702.8 787.8,703.9 788.2,701.7 788.7,703.0 789.7,701.9 790.2,699.1 790.4,700.2 791.1,698.1 791.6,700.2 791.8,699.8 792.3,700.5 792.6,699.9 793.3,702.9 793.5,702.6 794.5,703.8 795.0,703.2 795.2,705.1 795.4,703.4 795.7,705.9 795.9,704.1 796.2,703.9 796.9,705.1 797.1,703.9 797.4,706.9 798.3,703.8 799.3,705.3 799.5,703.9 800.2,705.7 800.7,704.0 801.2,703.7 801.4,705.4 801.9,703.8 802.6,705.8 803.1,704.8 803.8,706.0 804.1,703.7 804.6,705.9 804.8,704.1 805.8,705.4 806.5,704.3 807.2,704.0 807.4,704.6 807.9,704.0 809.1,705.9 809.4,703.8 809.8,705.1 810.1,703.6 811.0,704.8 811.5,703.3 812.0,704.8 812.5,703.6 813.0,704.6 813.2,702.9 813.7,705.0 814.2,702.0 814.9,704.8 815.4,701.7 815.6,702.7 816.6,700.0 816.8,701.8 817.5,701.0 817.8,702.7 818.0,700.3 819.0,702.5 819.2,701.4 819.9,703.8 820.4,703.2 820.6,704.4 821.4,703.3 822.1,704.1 822.6,703.4 822.8,704.4 823.3,704.2 823.5,706.1 824.0,704.4 824.5,704.9 824.7,704.0 825.0,705.2 825.4,703.5 825.7,705.7 825.9,704.8 826.6,705.1 826.9,704.3 827.4,705.7 827.6,704.4 827.8,705.6 828.1,704.5 828.6,705.3 829.3,704.5 830.0,705.8 830.2,705.0 830.5,706.2 831.2,703.3 832.6,706.5 832.9,704.0 833.4,706.2 833.8,704.2 834.1,705.3 834.3,704.2 834.6,706.0 835.3,704.2 836.0,704.4 836.2,705.2 836.5,703.7 836.7,704.9 837.0,704.1 837.4,704.8 838.2,703.5 838.6,704.7 838.9,703.8 839.6,704.6 839.8,703.4 840.3,704.3 840.8,702.7 841.3,703.4 841.8,700.9 842.0,702.6 842.2,702.1 842.5,699.8 843.2,703.6 843.4,701.8 843.7,703.4 843.9,702.5 844.4,704.2 844.6,701.8 845.6,704.4 845.8,703.9 846.1,704.4 846.3,703.5 846.8,704.7 847.0,703.3 847.8,705.2 848.0,704.4 848.2,705.7 848.5,704.4 848.7,705.4 849.0,704.6 849.2,705.0 849.7,704.5 850.6,706.2 850.9,703.9 851.4,705.9 851.6,703.5 851.8,705.4 852.1,704.5 852.8,704.4 853.0,705.8 853.3,704.9 854.5,705.4 854.7,704.2 855.0,705.5 855.2,704.6 855.7,704.9 856.2,704.5 856.4,705.2 856.9,703.5 857.1,705.6 857.4,705.0 857.6,705.3 857.8,703.4 858.1,705.8 858.6,704.0 858.8,705.3 859.0,704.7 859.5,705.5 860.0,704.0 860.2,704.6 861.0,703.1 861.2,704.8 861.4,703.3 861.9,705.0 862.4,702.9 862.9,704.2 863.1,702.1 863.8,703.9 864.1,703.3 864.3,704.0 864.6,702.9 865.0,703.5 865.5,705.3 865.8,703.9 866.0,705.1 866.5,704.5 866.7,705.1 867.0,704.0 867.2,705.7 867.4,703.6 867.7,705.1 868.2,703.9 868.6,705.3 868.9,704.2 869.6,706.1 870.3,703.8 870.6,705.4 871.5,704.5 872.0,706.2 872.2,703.8 872.5,705.2 872.7,704.0 873.0,706.2 873.2,704.6 873.7,705.6 874.2,703.9 874.9,705.5 875.8,704.2 876.1,705.5 876.6,703.9 877.3,706.1 877.5,704.3 877.8,704.7 878.0,703.9 878.2,704.7 879.7,702.1 879.9,703.3 880.2,702.0 880.9,703.1 881.1,701.1 882.6,704.1 882.8,703.1 883.3,703.8 883.5,703.0 883.8,704.9 884.5,703.6 885.0,703.9 885.2,706.1 885.4,704.2 885.9,704.2 886.2,705.2 886.9,703.6 887.4,705.7 888.3,703.5 888.8,705.6 889.3,704.4 889.5,705.4 890.0,705.5 890.2,704.0 890.7,705.1 891.2,704.4 891.4,705.6 891.7,704.3 892.2,706.3 892.6,704.7 893.4,705.6 893.6,704.7 893.8,706.2 894.1,704.5 894.8,705.3 895.0,704.3 895.3,706.5 896.2,703.9 896.7,705.4 897.0,704.1 897.7,705.3 898.2,704.3 898.9,705.4 899.4,703.4 900.1,706.6 900.8,703.2 901.0,704.2 901.8,703.2 902.0,704.7 902.2,703.3 902.5,704.0 903.0,703.5 903.9,704.1 904.2,702.2 904.6,703.8 904.9,702.4 905.1,702.7 905.6,704.3 906.3,703.2 906.8,704.8 907.0,702.8 907.8,705.3 908.2,703.9 909.0,704.7 909.2,704.0 909.4,705.2 910.2,705.3 910.4,703.5 910.6,706.0 910.9,704.7 911.4,705.7 911.6,704.8 911.8,706.0 912.3,703.3 912.6,705.0 912.8,704.6 913.0,705.5 913.3,704.5 913.5,705.9 914.2,703.4 914.5,704.9 915.2,705.7 915.7,703.9 915.9,705.2 916.2,704.4 916.4,705.1 916.9,704.6 917.1,705.9 917.6,704.2 917.8,706.2 918.1,704.9 918.6,705.5 919.3,704.5 919.5,706.7 919.8,703.7 920.0,705.2 920.2,704.1 920.7,705.2 921.2,702.5 921.7,705.0 922.2,703.9 923.1,705.3 923.8,702.7 924.1,704.6 924.8,702.9 925.5,704.6 925.8,702.5 926.2,701.8 926.5,702.9 926.7,700.1 927.0,702.7 927.7,700.9 928.4,702.8 928.6,701.4 929.4,703.3 930.1,702.8 930.3,704.6 930.8,702.5 931.8,705.4 932.2,704.2 932.5,705.1 932.7,703.2 933.2,706.1 933.9,703.8 934.6,705.8 935.4,704.0 935.6,704.7 936.3,704.2 936.6,705.2 936.8,704.5 937.0,705.3 937.3,704.4 938.0,705.4 938.2,703.9 938.7,706.0 939.0,704.5 939.2,705.6 939.7,705.3 939.9,703.3 940.2,705.4 941.1,704.6 941.4,706.0 941.8,703.6 942.1,706.2 942.6,704.4 943.3,706.6 943.5,704.1 943.8,705.2 944.2,704.1 944.5,706.6 944.7,705.0 945.7,703.5 946.6,706.0 947.1,703.5 947.8,705.9 948.1,705.2 948.3,705.9 948.8,704.5 949.3,705.4 949.5,704.0 949.8,704.6 950.2,704.2 951.0,706.4 951.2,704.4 951.9,705.7 952.4,704.5 952.9,706.0 954.1,704.1 954.3,705.3 954.6,704.9 954.8,705.2 955.5,702.6 956.0,705.1 957.0,703.1 957.2,704.2 957.4,703.3 957.7,705.3 957.9,702.8 958.6,703.8 958.9,702.3 959.1,703.8 959.4,702.4 959.6,703.9 960.3,702.2 960.6,703.6 961.5,704.7 961.8,703.0 962.7,705.5 963.0,704.0 963.7,705.3 963.9,704.2 964.4,705.0 964.6,704.3 964.9,705.8 965.8,703.7 966.1,704.9 966.3,704.1 966.8,705.2 967.5,703.9 968.2,706.7 968.5,704.8 969.2,706.0 970.2,703.5 970.4,705.8 970.6,704.9 970.9,705.8 971.6,704.6 971.8,705.8 972.1,704.1 972.3,705.6 972.6,704.3 972.8,705.0 973.0,704.3 973.5,705.1 973.8,704.6 974.2,705.9 974.7,704.0 975.2,705.3 975.4,703.7 976.2,705.7 976.6,704.5 976.9,704.9 977.6,704.1 978.1,704.9 978.6,703.5 979.0,705.6 979.8,702.7 980.2,705.2 980.7,703.2 981.0,705.1 981.4,704.0 981.9,704.3 982.2,703.7 982.4,704.8 982.6,704.1 983.6,703.7 984.1,704.2 984.6,703.4 985.0,705.1 985.5,703.8 985.8,704.7 986.5,704.4 986.7,705.8 987.0,704.4 987.4,705.3 987.9,704.2 988.4,704.7 988.6,704.3 989.4,706.2 989.6,705.0 990.3,704.9 990.6,704.1 991.0,705.5 991.3,703.6 992.0,706.4 993.4,704.2 993.7,705.8 994.4,704.4 995.1,704.9 995.4,702.4 995.8,705.5 996.8,704.3 997.5,705.5 998.0,704.2 998.2,707.1 998.5,704.9 998.7,705.6 999.0,705.3 999.2,703.8 999.7,705.7 999.9,703.3 1000.2,705.3 1000.6,704.2 1000.9,705.3 1001.6,704.0 1001.8,706.1 1002.6,704.3 1002.8,705.4 1003.0,704.6 1003.5,705.2 1003.8,704.1 1004.0,705.1 1004.2,702.9 1005.2,706.1 1005.7,704.6 1005.9,705.7 1006.4,705.2 1006.6,705.6 1006.9,704.1 1007.4,704.8 1007.6,704.5 1007.8,705.6 1008.1,704.3 1008.3,705.5 1008.6,703.8 1008.8,705.4 1009.3,704.0 1009.8,705.5 1010.0,704.4 1010.5,704.7 1011.2,703.9 1011.9,704.5 1012.2,703.3 1012.4,704.9 1012.9,702.5 1013.4,704.1 1013.6,702.4 1014.1,703.1 1014.3,701.5 1015.3,705.7 1015.5,703.9 1016.0,703.8 1016.5,705.9 1017.2,703.5 1017.4,705.3 1018.2,705.2 1018.4,706.0 1018.9,703.7 1019.4,706.2 1020.1,704.4 1020.3,705.4 1020.6,705.1 1021.0,705.6 1021.3,704.7 1021.8,705.0 1022.0,704.6 1022.2,705.5 1023.0,704.1 1023.2,706.3 1023.7,704.7 1023.9,705.4 1024.4,704.5 1025.4,707.0 1025.6,704.5 1025.8,704.8 1026.1,704.0 1026.6,705.8 1026.8,704.2 1027.0,705.9 1028.0,704.3 1028.2,705.3 1029.0,705.4 1029.9,703.1 1030.2,705.6 1030.9,704.7 1031.4,706.2 1031.6,703.2 1032.3,706.7 1032.6,704.0 1033.3,705.7 1033.8,705.2 1034.0,706.7 1034.2,703.1 1035.0,705.6 1035.4,703.2 1035.9,705.9 1036.2,704.3 1036.9,705.0 1037.4,704.8 1037.8,705.9 1038.3,704.9 1038.6,706.0 1039.3,704.2 1040.0,704.8 1040.5,703.8 1040.7,705.2 1041.0,705.5 1041.2,704.9 1041.4,706.0 1042.4,702.8 1043.1,704.4 1043.8,703.4 1044.3,705.7 1044.6,703.9 1045.0,704.8 1045.5,703.9 1046.0,705.2 1046.2,702.2 1046.5,705.2 1047.0,703.9 1047.2,705.4 1047.4,704.5 1047.7,705.5 1047.9,705.1 1048.2,705.4 1048.4,703.7 1048.6,705.9 1048.9,704.6 1049.4,706.4 1049.6,703.7 1049.8,705.4 1050.3,704.8 1050.6,705.6 1051.0,705.0 1051.3,705.6 1051.8,704.1 1052.2,706.1 1053.0,704.5 1053.4,706.7 1053.7,704.4 1054.2,703.9 1054.4,705.7 1054.9,704.3 1055.1,706.3 1055.6,704.0 1055.8,704.6 1056.3,704.5 1056.8,706.0 1057.3,705.1 1057.5,705.6 1057.8,704.3 1058.5,706.3 1059.2,703.9 1059.4,706.2 1060.4,703.8 1060.9,705.6 1061.1,704.0 1061.4,705.5 1061.6,704.4 1061.8,706.2 1062.3,705.2 1063.0,706.3 1063.5,704.6 1064.2,706.1 1064.5,705.2 1065.0,705.5 1065.7,704.7 1066.2,705.6 1066.6,705.2 1066.9,706.2 1067.1,705.2 1067.6,706.4 1069.0,704.0 1069.8,705.5 1070.0,704.4 1070.7,705.8 1071.7,704.2 1071.9,706.0 1072.6,703.3 1072.9,705.1 1073.4,704.4 1073.6,705.7 1073.8,704.5 1074.1,706.1 1074.3,703.4 1075.0,705.7 1075.5,704.7 1075.8,705.2 1076.0,703.8 1076.2,704.8 1077.0,703.4 1077.2,704.6 1077.9,703.7 1078.2,705.4 1078.4,703.2 1079.4,705.4 1080.1,703.1 1080.3,704.2 1080.6,704.0 1080.8,704.5 1081.0,703.8 1081.3,704.7 1081.5,704.2 1082.2,705.4 1083.0,702.5 1083.4,705.4 1083.7,704.5 1084.2,705.3 1084.4,703.6 1085.1,704.9 1085.6,704.3 1085.8,705.9 1086.3,704.9 1086.6,706.0 1086.8,703.8 1087.0,705.4 1087.8,703.9 1088.2,705.5 1088.7,704.8 1089.0,705.4 1089.2,703.3 1089.7,707.2 1090.4,703.4 1090.6,706.4 1091.1,704.1 1091.4,705.5 1092.1,704.5 1092.8,706.0 1093.0,704.3 1093.5,705.0 1094.2,705.2 1094.7,704.7 1095.7,705.3 1096.4,703.6 1096.6,705.1 1097.1,705.4 1097.4,704.9 1097.8,705.6 1098.3,703.9 1098.6,705.6 1099.5,704.1 1099.8,705.4 1100.0,705.1 1101.0,705.8 1101.4,704.3 1101.9,705.5 1102.2,704.1 1102.4,705.2 1102.6,704.0 1102.9,707.0 1103.1,705.1 1103.4,705.7 1104.1,704.2 1104.3,705.1 1104.6,704.3 1104.8,705.8 1105.0,704.8 1105.3,705.1 1105.5,706.2 1105.8,704.4 1106.0,705.5 1106.2,704.7 1106.5,705.5 1107.0,704.6 1107.4,705.3 1107.7,704.6 1108.2,705.3 1108.9,705.2 1109.4,703.7 1109.6,705.3 1109.8,705.0 1110.3,705.8 1110.6,704.1 1111.3,705.8 1111.8,704.4 1112.7,704.4 1113.2,703.3 1113.9,705.1 1114.6,703.2 1114.9,705.4 1115.6,703.6 1116.3,705.9 1116.6,704.2 1116.8,705.7 1117.0,703.8 1117.5,705.5 1118.0,704.7 1118.2,705.8 1119.2,704.7 1119.4,706.2 1119.7,704.8 1120.4,705.3 1120.9,703.9 1121.6,706.1 1122.1,704.5 1122.8,705.1 1123.5,704.5 1124.2,707.0 1124.5,705.0 1125.0,705.4 1125.2,703.9 1125.4,704.7 1126.2,703.8 1126.6,705.2 1127.1,703.3 1127.4,705.3 1127.8,704.0 1128.3,705.3 1128.6,703.8 1128.8,704.7 1129.0,704.0 1129.5,704.4 1129.8,705.5 1130.0,704.0 1130.2,705.5 1130.7,704.2 1131.0,705.2 1131.9,704.6 1132.2,706.0 1132.6,703.5 1132.9,706.4 1133.4,704.4 1133.6,706.3 1134.1,705.6 1134.3,703.9 1134.6,705.6 1134.8,704.5 1135.8,706.0 1136.0,705.3 1136.2,705.9 1137.2,703.9 1137.7,705.8 1138.2,703.8 1138.4,705.0 1138.9,704.2 1139.1,705.4 1139.4,704.3 1139.6,705.2 1139.8,704.0 1140.1,705.1 1140.8,703.8 1141.0,705.5 1141.3,705.2 1141.8,706.1 1142.5,703.9 1142.7,705.1 1143.0,703.4 1143.9,705.5 1144.2,703.4 1144.4,704.7 1144.6,703.6 1144.9,704.6 1145.1,703.9 1145.6,704.5 1146.1,703.7 1146.3,705.1 1146.8,703.5 1147.5,705.4 1148.0,703.7 1148.2,704.5 1149.0,704.6 1149.2,706.0 1149.7,704.5 1149.9,706.1 1150.2,703.9 1151.1,706.6 1151.8,704.0 1152.1,704.6 1152.3,703.9 1152.8,705.6 1153.0,705.1 1153.3,705.6 1154.0,705.2 1154.2,704.0 1154.7,705.8 1155.9,705.3 1156.2,704.2 1156.6,705.5 1157.1,704.0 1157.6,705.6 1157.8,704.7 1158.3,704.8 1158.6,705.7 1158.8,703.5 1159.0,705.1 1159.3,704.6 1159.5,705.4 1159.8,704.9 1160.0,706.6 1160.2,705.9 1160.5,706.7 1160.7,704.3 1161.2,706.1 1161.4,704.2 1161.7,705.3 1162.2,704.2 1162.9,704.5 1163.1,706.4 1163.4,704.1 1163.8,703.7 1164.1,706.5 1164.8,703.8"/></defs>
<use href="#obsa" fill="none" stroke="#ff9a9a" stroke-width="11" stroke-linejoin="round" stroke-linecap="round"/>
<defs><path id="calca" d="M207.2,708.0 226.4,707.7 227.6,706.8 228.8,702.8 230.5,707.2 231.9,707.8 264.8,707.9 273.9,707.4 275.4,706.6 276.1,704.7 277.8,691.8 279.7,704.7 280.2,706.2 281.1,707.2 288.6,707.9 306.6,707.4 308.5,706.6 309.2,704.8 310.9,687.2 312.6,703.4 313.3,706.2 314.2,707.0 316.9,707.5 322.6,707.5 332.0,706.5 335.6,704.4 337.8,700.3 339.2,691.7 339.9,679.6 340.6,632.8 342.1,220.1 343.5,594.3 344.2,671.0 345.0,688.9 345.9,697.1 347.6,702.7 350.2,705.6 354.1,706.9 360.8,707.5 396.3,707.8 410.7,707.1 414.1,706.3 416.0,704.9 417.4,701.5 418.4,692.1 420.3,627.7 420.8,623.2 422.7,687.0 423.4,697.7 424.2,701.6 425.4,703.3 426.1,703.1 426.8,701.9 429.9,685.8 430.6,687.3 433.3,702.1 434.0,703.4 434.7,703.8 435.4,703.4 436.2,701.8 437.4,690.6 439.0,641.8 439.5,638.2 441.2,686.0 442.2,699.9 442.9,703.4 444.1,705.3 446.2,706.6 449.6,707.3 461.8,707.6 468.3,707.0 470.2,704.7 472.9,696.6 473.6,697.4 476.0,705.2 477.9,707.1 482.2,707.7 491.8,707.7 496.9,707.4 499.8,706.7 501.2,705.0 502.2,700.6 504.3,675.7 504.8,677.1 506.5,698.6 507.4,704.3 508.2,705.9 509.4,706.8 515.1,707.7 543.9,707.8 549.0,707.6 551.4,706.9 552.3,705.9 553.0,703.5 555.0,684.7 555.4,686.2 557.1,703.5 557.8,705.9 558.6,706.8 561.7,707.6 569.1,707.8 581.8,707.6 587.4,706.9 589.0,705.8 590.2,703.1 592.9,684.9 593.6,683.1 596.0,699.6 597.2,704.5 597.9,705.8 599.1,706.7 603.7,707.4 610.4,707.0 612.1,706.4 613.0,705.4 614.5,701.2 617.1,686.6 617.8,688.0 620.0,701.2 621.4,705.4 623.6,707.0 629.4,707.6 644.2,707.6 650.0,706.8 652.2,704.2 654.8,695.8 655.8,694.5 658.9,703.5 660.6,705.9 661.5,706.2 662.7,705.7 665.4,702.4 666.3,701.9 670.4,706.8 675.0,707.6 679.0,707.3 682.9,705.4 686.5,707.2 688.6,707.7 707.8,707.7 710.5,707.0 713.4,704.3 714.3,703.9 717.9,707.0 720.8,707.7 730.9,707.5 735.9,704.4 739.3,706.9 741.4,707.6 746.0,707.3 750.1,704.9 754.9,707.5 763.0,707.6 765.2,707.2 766.6,706.4 769.8,701.1 770.7,700.4 774.8,706.6 776.7,707.4 780.3,707.7 786.6,707.1 790.9,702.9 791.8,703.4 794.0,706.1 795.4,707.2 802.2,707.8 812.5,707.5 814.2,706.8 817.3,704.4 821.8,707.4 827.8,707.9 837.7,707.6 842.5,705.0 846.6,707.3 849.7,707.8 858.3,707.7 862.9,706.4 867.7,707.7 875.1,707.8 877.5,707.3 880.9,705.5 884.7,707.4 887.1,707.8 898.6,707.8 903.9,706.5 908.7,707.8 920.0,707.9 923.8,707.4 927.7,705.0 932.2,707.5 938.0,707.9 953.6,707.8 959.1,706.5 963.2,707.7 968.2,707.9 978.1,707.8 982.9,706.7 987.2,707.8 992.2,708.0 1008.8,707.9 1014.1,707.0 1021.0,707.9 1037.6,707.9 1043.1,707.0 1048.6,707.9 1071.4,708.0 1079.1,707.0 1086.3,708.0 1109.1,707.9 1115.1,707.2 1120.6,707.9 1139.4,708.0 1146.3,707.3 1151.4,707.9 1164.8,708.0"/></defs>
<use href="#calca" fill="none" stroke="#2020ff" stroke-width="3.6" stroke-linejoin="round"/>
<use href="#obsa" fill="none" stroke="#ff0000" stroke-width="7.5" stroke-linejoin="round" stroke-linecap="round"/>
<path d="M337.3,85.3h10v4h-10zM337.6,141.5h10v4h-10zM336.8,210.6h10v4h-10zM336.6,334.4h10v4h-10zM336.4,436.8h10v4h-10zM336.1,523.6h10v4h-10zM335.9,583.6h10v4h-10zM335.6,621.9h10v4h-10zM335.2,660.5h10v4h-10zM340.3,82.3h4v10h-4zM340.6,138.5h4v10h-4zM339.8,207.6h4v10h-4zM339.6,331.4h4v10h-4zM339.4,433.8h4v10h-4zM339.1,520.6h4v10h-4zM338.9,580.6h4v10h-4zM338.6,618.9h4v10h-4zM338.2,657.5h4v10h-4z" fill="#ff5a5a" opacity="0.55"/>
<path d="M228.8,702.8 229.0,702.8M276.6,701.8 277.8,691.8 279.2,701.8M309.7,701.5 310.9,687.2 312.3,701.5M336.8,702.7 338.5,697.1 339.4,688.9 340.4,656.7 342.3,220.1 344.0,656.7 345.0,688.9 345.9,697.1 347.6,702.7M417.2,702.5 417.9,698.3 418.6,687.4 420.3,627.7 420.8,623.2 422.7,687.0 423.4,697.7 424.6,702.7M426.3,702.8 427.5,699.3 429.9,685.8 430.6,687.3 432.3,698.2 433.5,702.7M435.7,703.0 436.6,699.3 437.4,690.6 439.3,638.2 439.8,641.9 441.4,691.0 442.6,702.6M471.0,702.6 472.4,697.4 473.1,696.6 475.0,702.6M501.9,702.2 504.1,677.1 504.6,675.7 507.0,702.2M553.3,702.0 555.0,684.7 555.4,686.2 556.9,702.0M590.5,702.1 593.4,683.1 594.1,684.9 596.5,702.1M614.2,702.2 616.6,688.0 617.4,686.6 620.2,702.2M652.9,702.3 654.8,695.8 655.8,694.5 658.6,702.9M664.9,703.0 666.1,701.9 667.3,702.8M768.8,702.9 770.5,700.4 771.2,700.8 772.4,702.9M790.6,703.0 791.4,703.0" fill="none" stroke="#2020ff" stroke-width="3.6" stroke-linejoin="round" opacity="0.35"/>
<use href="#diffa" fill="none" stroke="#0e840e" stroke-width="3.7" stroke-linejoin="round"/>
<path d="M341.4,694.7 342.6,576.9 343.8,679.4 344.5,701.4" fill="none" stroke="#0d4a2a" stroke-width="3.7" stroke-linejoin="round"/>
<path d="M228.4,731.0h3.74v19.5h-3.74zM277.1,731.0h3.74v19.5h-3.74zM307.0,731.0h3.74v19.5h-3.74zM310.7,731.0h3.74v19.5h-3.74zM318.2,731.0h3.74v19.5h-3.74zM340.6,731.0h3.74v19.5h-3.74zM348.1,731.0h3.74v19.5h-3.74zM370.6,731.0h3.74v19.5h-3.74zM374.3,731.0h3.74v19.5h-3.74zM381.8,731.0h3.74v19.5h-3.74zM404.2,731.0h3.74v19.5h-3.74zM419.2,731.0h3.74v19.5h-3.74zM422.9,731.0h3.74v19.5h-3.74zM437.9,731.0h3.74v19.5h-3.74zM441.6,731.0h3.74v19.5h-3.74zM445.4,731.0h3.74v19.5h-3.74zM452.8,731.0h3.74v19.5h-3.74zM460.3,731.0h3.74v19.5h-3.74zM490.2,731.0h3.74v19.5h-3.74zM501.5,731.0h3.74v19.5h-3.74zM505.2,731.0h3.74v19.5h-3.74zM508.9,731.0h3.74v19.5h-3.74zM523.9,731.0h3.74v19.5h-3.74zM527.6,731.0h3.74v19.5h-3.74zM531.4,731.0h3.74v19.5h-3.74zM542.6,731.0h3.74v19.5h-3.74zM546.3,731.0h3.74v19.5h-3.74zM568.8,731.0h3.74v19.5h-3.74zM572.5,731.0h3.74v19.5h-3.74zM576.3,731.0h3.74v19.5h-3.74zM580.0,731.0h3.74v19.5h-3.74zM606.2,731.0h3.74v19.5h-3.74zM609.9,731.0h3.74v19.5h-3.74zM654.8,731.0h3.74v19.5h-3.74zM677.2,731.0h3.74v19.5h-3.74zM695.9,731.0h3.74v19.5h-3.74zM699.7,731.0h3.74v19.5h-3.74zM703.4,731.0h3.74v19.5h-3.74zM714.6,731.0h3.74v19.5h-3.74zM729.6,731.0h3.74v19.5h-3.74zM733.3,731.0h3.74v19.5h-3.74zM740.8,731.0h3.74v19.5h-3.74zM748.3,731.0h3.74v19.5h-3.74zM755.8,731.0h3.74v19.5h-3.74zM759.5,731.0h3.74v19.5h-3.74zM770.7,731.0h3.74v19.5h-3.74zM774.5,731.0h3.74v19.5h-3.74zM785.7,731.0h3.74v19.5h-3.74zM793.2,731.0h3.74v19.5h-3.74zM808.1,731.0h3.74v19.5h-3.74zM815.6,731.0h3.74v19.5h-3.74zM838.1,731.0h3.74v19.5h-3.74zM853.0,731.0h3.74v19.5h-3.74zM864.2,731.0h3.74v19.5h-3.74zM897.9,731.0h3.74v19.5h-3.74zM905.4,731.0h3.74v19.5h-3.74zM909.1,731.0h3.74v19.5h-3.74zM912.9,731.0h3.74v19.5h-3.74zM927.8,731.0h3.74v19.5h-3.74zM939.0,731.0h3.74v19.5h-3.74zM950.3,731.0h3.74v19.5h-3.74zM954.0,731.0h3.74v19.5h-3.74zM965.2,731.0h3.74v19.5h-3.74zM991.4,731.0h3.74v19.5h-3.74zM1002.6,731.0h3.74v19.5h-3.74zM1040.0,731.0h3.74v19.5h-3.74zM1055.0,731.0h3.74v19.5h-3.74zM1062.5,731.0h3.74v19.5h-3.74zM1152.2,731.0h3.74v19.5h-3.74zM1163.4,731.0h3.74v19.5h-3.74z" fill="#000" fill-opacity="0.3"/>
<path d="M325.7,731.0h3.74v19.5h-3.74zM471.5,731.0h3.74v19.5h-3.74zM494.0,731.0h3.74v19.5h-3.74zM520.2,731.0h3.74v19.5h-3.74zM553.8,731.0h3.74v19.5h-3.74zM591.2,731.0h3.74v19.5h-3.74zM613.7,731.0h3.74v19.5h-3.74zM628.6,731.0h3.74v19.5h-3.74zM647.3,731.0h3.74v19.5h-3.74zM673.5,731.0h3.74v19.5h-3.74zM710.9,731.0h3.74v19.5h-3.74zM718.4,731.0h3.74v19.5h-3.74zM725.9,731.0h3.74v19.5h-3.74zM763.3,731.0h3.74v19.5h-3.74zM782.0,731.0h3.74v19.5h-3.74zM789.4,731.0h3.74v19.5h-3.74zM800.7,731.0h3.74v19.5h-3.74zM811.9,731.0h3.74v19.5h-3.74zM819.4,731.0h3.74v19.5h-3.74zM834.3,731.0h3.74v19.5h-3.74zM841.8,731.0h3.74v19.5h-3.74zM856.8,731.0h3.74v19.5h-3.74zM868.0,731.0h3.74v19.5h-3.74zM875.5,731.0h3.74v19.5h-3.74zM886.7,731.0h3.74v19.5h-3.74zM901.6,731.0h3.74v19.5h-3.74zM931.6,731.0h3.74v19.5h-3.74zM961.5,731.0h3.74v19.5h-3.74zM972.7,731.0h3.74v19.5h-3.74zM976.4,731.0h3.74v19.5h-3.74zM980.2,731.0h3.74v19.5h-3.74zM983.9,731.0h3.74v19.5h-3.74zM998.9,731.0h3.74v19.5h-3.74zM1051.2,731.0h3.74v19.5h-3.74zM1066.2,731.0h3.74v19.5h-3.74zM1069.9,731.0h3.74v19.5h-3.74zM1103.6,731.0h3.74v19.5h-3.74z" fill="#000" fill-opacity="0.51"/>
<path d="M486.5,731.0h3.74v19.5h-3.74zM602.4,731.0h3.74v19.5h-3.74zM621.1,731.0h3.74v19.5h-3.74zM636.1,731.0h3.74v19.5h-3.74zM666.0,731.0h3.74v19.5h-3.74zM669.8,731.0h3.74v19.5h-3.74zM684.7,731.0h3.74v19.5h-3.74zM752.0,731.0h3.74v19.5h-3.74zM767.0,731.0h3.74v19.5h-3.74zM778.2,731.0h3.74v19.5h-3.74zM860.5,731.0h3.74v19.5h-3.74zM871.7,731.0h3.74v19.5h-3.74zM879.2,731.0h3.74v19.5h-3.74zM920.3,731.0h3.74v19.5h-3.74zM942.8,731.0h3.74v19.5h-3.74zM987.7,731.0h3.74v19.5h-3.74zM995.1,731.0h3.74v19.5h-3.74zM1010.1,731.0h3.74v19.5h-3.74zM1017.6,731.0h3.74v19.5h-3.74zM1032.5,731.0h3.74v19.5h-3.74zM1036.3,731.0h3.74v19.5h-3.74zM1043.8,731.0h3.74v19.5h-3.74zM1047.5,731.0h3.74v19.5h-3.74zM1081.2,731.0h3.74v19.5h-3.74zM1096.1,731.0h3.74v19.5h-3.74zM1099.9,731.0h3.74v19.5h-3.74zM1107.3,731.0h3.74v19.5h-3.74zM1114.8,731.0h3.74v19.5h-3.74zM1118.6,731.0h3.74v19.5h-3.74zM1133.5,731.0h3.74v19.5h-3.74zM1137.3,731.0h3.74v19.5h-3.74zM1144.7,731.0h3.74v19.5h-3.74zM1156.0,731.0h3.74v19.5h-3.74z" fill="#000" fill-opacity="0.66"/>
<path d="M796.9,731.0h3.74v19.5h-3.74zM826.8,731.0h3.74v19.5h-3.74zM894.2,731.0h3.74v19.5h-3.74zM916.6,731.0h3.74v19.5h-3.74zM935.3,731.0h3.74v19.5h-3.74zM969.0,731.0h3.74v19.5h-3.74zM1025.1,731.0h3.74v19.5h-3.74zM1058.7,731.0h3.74v19.5h-3.74zM1088.6,731.0h3.74v19.5h-3.74zM1111.1,731.0h3.74v19.5h-3.74zM1129.8,731.0h3.74v19.5h-3.74zM1141.0,731.0h3.74v19.5h-3.74z" fill="#000" fill-opacity="0.76"/>
<path d="M849.3,731.0h3.74v19.5h-3.74zM924.1,731.0h3.74v19.5h-3.74zM1028.8,731.0h3.74v19.5h-3.74zM1077.4,731.0h3.74v19.5h-3.74zM1092.4,731.0h3.74v19.5h-3.74zM1126.0,731.0h3.74v19.5h-3.74zM1148.5,731.0h3.74v19.5h-3.74zM1159.7,731.0h3.74v19.5h-3.74z" fill="#000" fill-opacity="0.83"/>
<path d="M957.7,731.0h3.74v19.5h-3.74zM1073.7,731.0h3.74v19.5h-3.74z" fill="#000" fill-opacity="0.88"/>
<path d="M213.5,751.5h3.74v18.7h-3.74zM243.4,751.5h3.74v18.7h-3.74zM273.3,751.5h3.74v18.7h-3.74zM299.5,751.5h3.74v18.7h-3.74zM307.0,751.5h3.74v18.7h-3.74zM310.7,751.5h3.74v18.7h-3.74zM314.5,751.5h3.74v18.7h-3.74zM325.7,751.5h3.74v18.7h-3.74zM329.4,751.5h3.74v18.7h-3.74zM340.6,751.5h3.74v18.7h-3.74zM355.6,751.5h3.74v18.7h-3.74zM359.3,751.5h3.74v18.7h-3.74zM378.0,751.5h3.74v18.7h-3.74zM385.5,751.5h3.74v18.7h-3.74zM396.7,751.5h3.74v18.7h-3.74zM415.4,751.5h3.74v18.7h-3.74zM419.2,751.5h3.74v18.7h-3.74zM445.4,751.5h3.74v18.7h-3.74zM449.1,751.5h3.74v18.7h-3.74zM456.6,751.5h3.74v18.7h-3.74zM471.5,751.5h3.74v18.7h-3.74zM482.8,751.5h3.74v18.7h-3.74zM494.0,751.5h3.74v18.7h-3.74zM497.7,751.5h3.74v18.7h-3.74zM501.5,751.5h3.74v18.7h-3.74zM505.2,751.5h3.74v18.7h-3.74zM516.4,751.5h3.74v18.7h-3.74zM523.9,751.5h3.74v18.7h-3.74zM538.9,751.5h3.74v18.7h-3.74zM542.6,751.5h3.74v18.7h-3.74zM550.1,751.5h3.74v18.7h-3.74zM553.8,751.5h3.74v18.7h-3.74zM557.6,751.5h3.74v18.7h-3.74zM591.2,751.5h3.74v18.7h-3.74zM595.0,751.5h3.74v18.7h-3.74zM609.9,751.5h3.74v18.7h-3.74zM617.4,751.5h3.74v18.7h-3.74zM621.1,751.5h3.74v18.7h-3.74zM632.4,751.5h3.74v18.7h-3.74zM636.1,751.5h3.74v18.7h-3.74zM643.6,751.5h3.74v18.7h-3.74zM654.8,751.5h3.74v18.7h-3.74zM658.5,751.5h3.74v18.7h-3.74zM681.0,751.5h3.74v18.7h-3.74zM688.5,751.5h3.74v18.7h-3.74zM692.2,751.5h3.74v18.7h-3.74zM699.7,751.5h3.74v18.7h-3.74zM707.2,751.5h3.74v18.7h-3.74zM710.9,751.5h3.74v18.7h-3.74zM725.9,751.5h3.74v18.7h-3.74zM748.3,751.5h3.74v18.7h-3.74zM755.8,751.5h3.74v18.7h-3.74zM763.3,751.5h3.74v18.7h-3.74zM770.7,751.5h3.74v18.7h-3.74zM804.4,751.5h3.74v18.7h-3.74zM811.9,751.5h3.74v18.7h-3.74zM841.8,751.5h3.74v18.7h-3.74zM845.5,751.5h3.74v18.7h-3.74zM853.0,751.5h3.74v18.7h-3.74zM860.5,751.5h3.74v18.7h-3.74zM868.0,751.5h3.74v18.7h-3.74zM875.5,751.5h3.74v18.7h-3.74zM882.9,751.5h3.74v18.7h-3.74zM890.4,751.5h3.74v18.7h-3.74zM897.9,751.5h3.74v18.7h-3.74zM931.6,751.5h3.74v18.7h-3.74zM935.3,751.5h3.74v18.7h-3.74zM976.4,751.5h3.74v18.7h-3.74zM983.9,751.5h3.74v18.7h-3.74zM1006.4,751.5h3.74v18.7h-3.74zM1010.1,751.5h3.74v18.7h-3.74zM1025.1,751.5h3.74v18.7h-3.74zM1032.5,751.5h3.74v18.7h-3.74zM1051.2,751.5h3.74v18.7h-3.74zM1133.5,751.5h3.74v18.7h-3.74zM1163.4,751.5h3.74v18.7h-3.74z" fill="#8000ff" fill-opacity="0.35"/>
<path d="M437.9,751.5h3.74v18.7h-3.74zM441.6,751.5h3.74v18.7h-3.74zM467.8,751.5h3.74v18.7h-3.74zM486.5,751.5h3.74v18.7h-3.74zM490.2,751.5h3.74v18.7h-3.74zM512.7,751.5h3.74v18.7h-3.74zM531.4,751.5h3.74v18.7h-3.74zM587.5,751.5h3.74v18.7h-3.74zM602.4,751.5h3.74v18.7h-3.74zM606.2,751.5h3.74v18.7h-3.74zM613.7,751.5h3.74v18.7h-3.74zM624.9,751.5h3.74v18.7h-3.74zM669.8,751.5h3.74v18.7h-3.74zM673.5,751.5h3.74v18.7h-3.74zM677.2,751.5h3.74v18.7h-3.74zM684.7,751.5h3.74v18.7h-3.74zM714.6,751.5h3.74v18.7h-3.74zM737.1,751.5h3.74v18.7h-3.74zM767.0,751.5h3.74v18.7h-3.74zM774.5,751.5h3.74v18.7h-3.74zM778.2,751.5h3.74v18.7h-3.74zM785.7,751.5h3.74v18.7h-3.74zM789.4,751.5h3.74v18.7h-3.74zM800.7,751.5h3.74v18.7h-3.74zM819.4,751.5h3.74v18.7h-3.74zM826.8,751.5h3.74v18.7h-3.74zM838.1,751.5h3.74v18.7h-3.74zM871.7,751.5h3.74v18.7h-3.74zM886.7,751.5h3.74v18.7h-3.74zM894.2,751.5h3.74v18.7h-3.74zM901.6,751.5h3.74v18.7h-3.74zM905.4,751.5h3.74v18.7h-3.74zM909.1,751.5h3.74v18.7h-3.74zM912.9,751.5h3.74v18.7h-3.74zM920.3,751.5h3.74v18.7h-3.74zM950.3,751.5h3.74v18.7h-3.74zM991.4,751.5h3.74v18.7h-3.74zM1043.8,751.5h3.74v18.7h-3.74zM1055.0,751.5h3.74v18.7h-3.74zM1062.5,751.5h3.74v18.7h-3.74zM1069.9,751.5h3.74v18.7h-3.74zM1103.6,751.5h3.74v18.7h-3.74zM1114.8,751.5h3.74v18.7h-3.74z" fill="#8000ff" fill-opacity="0.58"/>
<path d="M568.8,751.5h3.74v18.7h-3.74zM647.3,751.5h3.74v18.7h-3.74zM666.0,751.5h3.74v18.7h-3.74zM703.4,751.5h3.74v18.7h-3.74zM793.2,751.5h3.74v18.7h-3.74zM808.1,751.5h3.74v18.7h-3.74zM815.6,751.5h3.74v18.7h-3.74zM834.3,751.5h3.74v18.7h-3.74zM864.2,751.5h3.74v18.7h-3.74zM916.6,751.5h3.74v18.7h-3.74zM924.1,751.5h3.74v18.7h-3.74zM927.8,751.5h3.74v18.7h-3.74zM939.0,751.5h3.74v18.7h-3.74zM965.2,751.5h3.74v18.7h-3.74zM969.0,751.5h3.74v18.7h-3.74zM972.7,751.5h3.74v18.7h-3.74zM980.2,751.5h3.74v18.7h-3.74zM1021.3,751.5h3.74v18.7h-3.74zM1036.3,751.5h3.74v18.7h-3.74zM1066.2,751.5h3.74v18.7h-3.74zM1081.2,751.5h3.74v18.7h-3.74zM1084.9,751.5h3.74v18.7h-3.74zM1096.1,751.5h3.74v18.7h-3.74zM1107.3,751.5h3.74v18.7h-3.74zM1141.0,751.5h3.74v18.7h-3.74zM1148.5,751.5h3.74v18.7h-3.74zM1156.0,751.5h3.74v18.7h-3.74z" fill="#8000ff" fill-opacity="0.73"/>
<path d="M733.3,751.5h3.74v18.7h-3.74zM752.0,751.5h3.74v18.7h-3.74zM759.5,751.5h3.74v18.7h-3.74zM782.0,751.5h3.74v18.7h-3.74zM856.8,751.5h3.74v18.7h-3.74zM879.2,751.5h3.74v18.7h-3.74zM961.5,751.5h3.74v18.7h-3.74zM987.7,751.5h3.74v18.7h-3.74zM998.9,751.5h3.74v18.7h-3.74zM1002.6,751.5h3.74v18.7h-3.74zM1017.6,751.5h3.74v18.7h-3.74zM1028.8,751.5h3.74v18.7h-3.74zM1040.0,751.5h3.74v18.7h-3.74zM1058.7,751.5h3.74v18.7h-3.74zM1077.4,751.5h3.74v18.7h-3.74zM1088.6,751.5h3.74v18.7h-3.74zM1099.9,751.5h3.74v18.7h-3.74zM1118.6,751.5h3.74v18.7h-3.74zM1126.0,751.5h3.74v18.7h-3.74zM1129.8,751.5h3.74v18.7h-3.74zM1144.7,751.5h3.74v18.7h-3.74zM1152.2,751.5h3.74v18.7h-3.74zM1159.7,751.5h3.74v18.7h-3.74z" fill="#8000ff" fill-opacity="0.82"/>
<path d="M849.3,751.5h3.74v18.7h-3.74zM942.8,751.5h3.74v18.7h-3.74zM957.7,751.5h3.74v18.7h-3.74zM1047.5,751.5h3.74v18.7h-3.74zM1073.7,751.5h3.74v18.7h-3.74zM1111.1,751.5h3.74v18.7h-3.74z" fill="#8000ff" fill-opacity="0.88"/>
<path d="M1092.4,751.5h3.74v18.7h-3.74zM1137.3,751.5h3.74v18.7h-3.74z" fill="#8000ff" fill-opacity="0.92"/>
<path d="M310.7,773.0h3.74v17.5h-3.74zM340.6,773.0h3.74v17.5h-3.74zM426.7,773.0h3.74v17.5h-3.74zM479.0,773.0h3.74v17.5h-3.74zM494.0,773.0h3.74v17.5h-3.74zM553.8,773.0h3.74v17.5h-3.74zM591.2,773.0h3.74v17.5h-3.74zM602.4,773.0h3.74v17.5h-3.74zM651.1,773.0h3.74v17.5h-3.74zM681.0,773.0h3.74v17.5h-3.74zM729.6,773.0h3.74v17.5h-3.74zM759.5,773.0h3.74v17.5h-3.74zM767.0,773.0h3.74v17.5h-3.74zM804.4,773.0h3.74v17.5h-3.74zM826.8,773.0h3.74v17.5h-3.74zM838.1,773.0h3.74v17.5h-3.74zM868.0,773.0h3.74v17.5h-3.74zM894.2,773.0h3.74v17.5h-3.74zM901.6,773.0h3.74v17.5h-3.74zM931.6,773.0h3.74v17.5h-3.74zM950.3,773.0h3.74v17.5h-3.74zM987.7,773.0h3.74v17.5h-3.74zM1006.4,773.0h3.74v17.5h-3.74zM1013.8,773.0h3.74v17.5h-3.74zM1040.0,773.0h3.74v17.5h-3.74zM1062.5,773.0h3.74v17.5h-3.74zM1066.2,773.0h3.74v17.5h-3.74zM1092.4,773.0h3.74v17.5h-3.74zM1111.1,773.0h3.74v17.5h-3.74zM1118.6,773.0h3.74v17.5h-3.74zM1141.0,773.0h3.74v17.5h-3.74zM1159.7,773.0h3.74v17.5h-3.74z" fill="#ff40ff" fill-opacity="0.4"/>
</g>
<clipPath id="clipb"><rect x="1494.6" y="33.7" width="963.5" height="773.5999999999999"/></clipPath>
<g clip-path="url(#clipb)">
<defs><path id="diffb" d="M1495.8,714.8 1496.5,715.3 1496.8,714.5 1497.2,714.9 1500.4,715.0 1500.6,714.6 1501.6,715.0 1502.0,714.4 1502.5,715.1 1503.5,714.6 1504.7,714.6 1504.9,715.0 1505.6,714.5 1506.1,715.0 1507.1,714.6 1507.3,715.2 1507.6,714.6 1508.0,715.1 1509.2,714.4 1510.0,715.0 1511.2,714.7 1511.9,715.3 1512.1,714.6 1512.6,714.6 1513.8,715.1 1514.3,714.5 1515.2,715.1 1516.9,714.9 1517.2,715.3 1517.4,714.9 1518.6,716.5 1520.0,724.2 1521.7,715.5 1522.0,715.8 1522.7,715.1 1522.9,715.5 1523.9,714.7 1526.5,715.1 1527.5,714.6 1528.2,714.9 1528.4,714.4 1528.7,714.8 1530.1,714.8 1530.4,715.1 1531.1,714.5 1531.8,715.1 1533.5,714.7 1534.9,715.2 1535.2,714.7 1536.6,715.0 1537.6,714.6 1538.0,715.2 1538.8,714.6 1539.2,715.0 1540.2,714.5 1541.2,715.2 1542.6,714.4 1543.1,715.0 1543.3,714.5 1543.6,715.2 1543.8,714.7 1544.5,715.0 1544.8,714.5 1545.5,715.2 1546.0,714.6 1547.6,715.0 1548.1,714.5 1548.4,715.1 1548.6,714.4 1549.3,715.2 1549.6,714.7 1550.3,715.2 1550.5,714.6 1551.0,714.9 1551.2,714.3 1552.4,715.2 1552.7,714.8 1553.4,715.1 1554.4,714.6 1555.1,715.1 1555.6,714.7 1557.0,715.0 1557.2,714.4 1558.4,715.1 1558.7,714.7 1560.1,715.1 1561.3,714.5 1562.3,714.9 1562.5,714.5 1563.0,715.1 1563.5,714.7 1563.7,715.3 1565.6,714.3 1567.1,715.6 1567.8,715.5 1568.5,716.5 1570.0,713.7 1571.9,715.1 1572.4,714.3 1572.6,715.1 1573.1,714.7 1573.8,715.0 1574.0,714.6 1575.2,715.1 1575.7,714.7 1576.4,715.0 1577.4,714.4 1578.1,715.1 1578.4,714.6 1579.3,714.5 1579.8,714.9 1580.3,714.6 1580.5,715.0 1580.8,714.5 1582.0,715.0 1583.4,714.6 1583.6,715.1 1583.9,714.6 1584.4,715.2 1586.0,714.6 1588.0,715.0 1588.4,714.5 1589.2,714.9 1589.9,714.5 1591.1,715.1 1591.3,714.6 1591.8,715.1 1592.0,714.5 1593.5,715.2 1594.0,714.8 1594.2,715.4 1594.4,714.7 1595.6,715.0 1596.1,714.6 1596.4,715.2 1596.6,714.9 1598.5,715.2 1598.8,714.5 1599.0,715.2 1600.0,715.1 1600.7,716.0 1602.6,726.1 1604.0,716.7 1605.7,715.0 1608.4,715.1 1609.1,714.3 1609.3,715.0 1615.1,714.7 1615.3,715.2 1616.8,714.5 1617.0,714.8 1618.7,714.9 1618.9,714.5 1619.6,714.9 1619.9,714.3 1620.8,715.0 1621.1,714.6 1621.6,715.0 1621.8,714.4 1623.5,714.9 1623.7,714.3 1626.8,714.8 1628.3,713.7 1628.8,714.4 1629.5,713.8 1630.4,713.9 1630.9,715.1 1631.9,723.5 1632.4,712.3 1633.3,615.0 1634.8,698.9 1635.5,709.4 1636.7,713.0 1636.9,712.6 1638.1,714.1 1638.6,713.6 1639.1,714.3 1639.3,713.8 1639.6,714.6 1640.8,713.8 1641.0,714.6 1642.0,714.8 1642.2,714.2 1642.7,714.9 1643.2,714.5 1643.6,714.9 1644.6,714.5 1644.8,715.0 1645.1,714.3 1645.3,714.6 1645.8,714.1 1646.3,714.9 1646.5,714.5 1647.2,714.9 1647.5,714.4 1648.0,715.0 1650.1,714.5 1650.6,714.9 1651.1,714.6 1654.4,714.9 1654.7,714.4 1655.2,715.0 1655.6,714.4 1656.6,715.1 1657.1,714.6 1657.3,715.1 1658.8,714.5 1659.2,715.0 1660.0,714.5 1660.4,714.9 1660.7,714.3 1660.9,714.9 1662.1,714.7 1662.6,715.1 1664.3,714.5 1664.5,715.2 1664.8,714.8 1665.2,715.3 1665.5,714.7 1668.4,714.9 1669.6,714.3 1669.8,715.2 1670.0,714.8 1671.0,714.8 1672.2,715.2 1672.4,714.6 1673.6,715.2 1673.9,714.6 1674.1,715.1 1674.8,714.5 1675.6,714.9 1676.3,714.5 1676.8,714.9 1678.7,714.6 1679.2,715.2 1680.1,714.4 1680.4,714.8 1681.1,714.6 1681.8,715.0 1682.3,714.6 1682.5,715.1 1682.8,714.6 1683.5,714.6 1684.0,715.2 1684.7,714.6 1684.9,715.0 1685.6,714.6 1685.9,715.1 1686.4,714.7 1686.6,715.2 1686.8,714.8 1687.3,715.1 1688.5,714.5 1689.2,714.9 1689.7,714.6 1690.0,715.2 1690.2,714.7 1691.2,714.7 1692.8,714.7 1694.0,715.2 1695.0,714.3 1695.2,714.9 1695.5,714.6 1696.2,715.0 1696.7,714.6 1697.2,715.2 1697.9,714.6 1699.6,715.2 1699.8,714.8 1700.5,715.1 1701.5,714.7 1701.7,715.1 1703.2,714.8 1703.6,715.4 1703.9,714.8 1705.6,715.5 1706.3,714.7 1706.5,715.5 1706.8,714.8 1708.4,715.8 1709.9,717.8 1712.0,737.2 1712.5,735.8 1713.7,721.7 1714.7,716.1 1715.2,716.5 1715.4,715.6 1715.6,716.0 1716.4,715.7 1716.6,715.2 1719.2,715.3 1720.0,714.6 1720.4,715.6 1721.4,714.7 1721.9,715.4 1722.8,714.7 1723.6,715.3 1724.3,714.5 1724.8,715.3 1725.5,714.6 1726.0,715.2 1726.2,714.7 1726.7,714.9 1726.9,715.5 1727.2,714.9 1728.1,716.8 1729.6,718.0 1729.8,716.4 1730.0,717.4 1731.2,708.1 1731.5,708.9 1732.0,708.9 1733.4,713.2 1734.6,714.6 1735.1,714.3 1735.3,714.9 1735.8,714.7 1736.0,715.2 1736.5,714.5 1737.0,714.9 1737.7,714.3 1738.0,714.9 1740.1,715.0 1741.1,714.6 1741.3,715.0 1741.8,714.6 1742.5,715.2 1742.8,714.6 1743.5,715.0 1743.7,714.5 1744.7,715.2 1744.9,714.7 1745.2,715.1 1746.1,714.5 1747.3,714.9 1748.5,714.8 1748.8,714.4 1750.0,715.2 1750.2,714.8 1751.6,715.1 1753.1,714.6 1753.3,715.0 1757.2,714.9 1757.4,714.4 1757.6,715.2 1758.6,714.6 1759.1,715.1 1760.0,714.6 1761.5,715.3 1762.4,714.8 1763.4,715.1 1763.6,715.9 1764.1,715.1 1764.4,715.5 1764.8,714.9 1765.1,715.5 1765.6,714.7 1766.0,714.9 1766.8,714.2 1768.2,714.9 1768.7,714.4 1769.9,714.6 1770.1,715.1 1770.4,714.4 1770.6,714.8 1770.8,714.4 1771.3,714.9 1772.3,714.7 1773.2,715.1 1774.7,714.7 1774.9,715.2 1776.6,714.7 1777.3,715.3 1777.6,714.5 1778.5,715.3 1780.4,714.7 1781.4,715.3 1782.1,714.7 1782.4,715.2 1783.3,714.7 1783.6,715.2 1784.0,714.7 1784.3,715.1 1786.2,714.5 1786.4,715.0 1786.7,714.7 1787.6,715.1 1788.6,714.7 1788.8,715.3 1789.8,714.8 1790.0,715.3 1790.3,714.9 1791.5,715.1 1792.4,715.8 1792.9,715.6 1793.9,716.6 1796.5,725.5 1798.9,716.5 1800.4,715.0 1800.8,715.5 1802.3,714.9 1802.8,715.2 1803.0,714.8 1803.2,715.4 1804.0,714.8 1805.2,714.7 1805.6,715.3 1806.1,714.8 1807.6,715.0 1807.8,714.7 1809.0,715.2 1809.2,714.6 1809.5,715.1 1810.9,714.6 1811.6,715.2 1812.1,714.7 1812.8,715.0 1813.1,714.4 1814.0,715.3 1814.5,714.5 1815.5,715.1 1817.2,714.5 1817.9,715.0 1819.1,714.7 1820.3,715.1 1820.5,714.5 1821.0,714.9 1821.2,714.5 1821.5,714.9 1822.9,714.6 1823.4,715.2 1823.6,714.6 1824.4,714.9 1824.8,714.5 1825.1,715.0 1825.3,714.7 1825.8,715.1 1826.3,714.7 1826.5,715.1 1827.0,714.6 1827.7,715.0 1828.9,714.5 1829.4,715.1 1830.1,714.6 1830.4,715.0 1831.8,714.6 1832.8,715.1 1833.0,714.6 1833.7,715.1 1834.0,714.5 1834.2,715.4 1834.9,714.7 1835.2,715.1 1836.4,714.6 1837.1,715.3 1837.3,714.6 1837.8,715.2 1838.3,714.6 1838.8,715.1 1839.0,714.4 1840.0,715.3 1840.7,714.4 1841.4,715.1 1842.6,714.5 1844.0,715.4 1844.8,715.2 1845.2,716.4 1845.7,716.0 1846.0,716.4 1846.9,715.7 1848.1,712.9 1849.8,714.5 1851.5,714.9 1852.2,714.5 1852.4,715.1 1852.9,714.7 1854.8,715.1 1855.8,714.6 1856.8,715.1 1857.2,714.5 1860.8,715.2 1861.3,714.4 1862.5,715.0 1865.2,714.5 1865.6,714.9 1865.9,714.4 1866.1,715.0 1866.6,714.7 1866.8,715.2 1867.1,714.6 1869.7,714.6 1870.2,715.2 1871.9,714.5 1872.1,715.0 1872.6,714.4 1873.1,715.0 1873.8,714.4 1875.7,715.2 1876.0,714.5 1876.7,715.1 1877.2,714.5 1878.4,715.2 1879.3,714.8 1882.4,715.0 1882.7,715.4 1882.9,714.9 1883.2,715.6 1883.4,715.2 1883.6,715.5 1884.1,715.3 1884.4,716.0 1884.6,715.5 1886.0,715.5 1887.5,713.5 1888.0,714.1 1888.7,713.8 1889.2,714.7 1889.4,714.2 1890.4,714.8 1891.3,714.5 1891.8,714.9 1892.0,714.5 1892.8,715.1 1895.6,714.6 1897.3,715.2 1897.6,714.7 1899.0,715.2 1899.2,714.7 1900.0,715.2 1900.2,714.6 1901.4,715.1 1902.6,714.5 1902.8,715.0 1904.0,714.7 1905.7,715.5 1906.7,715.1 1907.6,716.1 1908.6,715.9 1908.8,715.3 1909.3,715.9 1910.3,713.7 1910.5,714.1 1911.0,713.5 1911.2,713.9 1912.2,713.6 1913.2,714.9 1913.6,714.2 1914.1,715.0 1914.6,714.6 1914.8,715.1 1915.1,714.6 1915.8,714.7 1916.0,714.2 1916.3,715.0 1916.5,714.7 1916.8,715.0 1917.0,714.6 1918.0,715.0 1919.2,714.6 1922.3,715.1 1923.0,714.5 1923.5,715.1 1925.6,714.4 1927.1,715.1 1927.6,714.6 1928.8,715.0 1930.0,714.4 1931.4,715.1 1931.6,714.6 1932.8,714.9 1933.6,714.6 1934.0,715.0 1934.3,714.6 1934.5,715.0 1936.7,714.7 1937.4,715.2 1938.1,714.7 1940.3,715.0 1940.5,714.5 1941.5,714.9 1942.2,714.6 1942.7,715.1 1945.6,714.9 1945.8,715.3 1946.0,715.0 1947.0,715.5 1947.7,715.0 1948.2,715.6 1949.2,714.6 1949.6,714.8 1949.9,714.1 1950.1,714.4 1951.6,714.0 1952.8,714.8 1953.2,714.3 1953.7,715.0 1954.2,714.3 1954.7,715.2 1955.6,714.6 1958.0,714.8 1959.0,715.4 1959.5,714.9 1960.0,715.3 1960.9,714.8 1961.2,715.1 1961.4,714.6 1963.6,714.8 1963.8,714.3 1965.0,715.2 1965.2,714.6 1966.9,714.6 1968.6,715.2 1968.8,714.6 1969.1,714.9 1969.6,714.5 1969.8,715.0 1971.2,714.5 1971.5,715.1 1972.0,714.6 1972.2,715.0 1972.4,714.5 1973.2,714.9 1973.6,714.4 1974.6,714.8 1976.0,714.4 1976.8,714.9 1977.5,714.4 1977.7,715.0 1978.2,714.6 1979.6,714.9 1980.6,714.3 1980.8,715.0 1982.8,714.6 1986.6,714.9 1987.1,714.3 1987.3,715.4 1987.6,714.6 1988.5,714.9 1988.8,714.4 1989.0,714.9 1990.4,715.0 1990.7,714.6 1991.2,715.2 1991.4,714.6 1992.4,714.6 1992.8,715.2 1993.8,714.4 1995.5,715.1 1996.9,714.5 1997.6,715.0 1998.4,714.4 1998.6,715.0 2000.5,715.0 2000.8,714.4 2001.2,715.1 2001.7,714.5 2002.4,714.9 2002.9,714.4 2003.4,714.7 2004.6,714.4 2005.1,714.8 2005.3,714.5 2005.6,714.9 2006.3,714.5 2006.5,714.9 2006.8,714.5 2008.2,715.0 2008.9,714.6 2009.4,715.1 2010.1,714.6 2010.4,715.1 2010.6,714.6 2013.0,715.1 2013.7,714.6 2014.0,715.1 2014.2,714.5 2014.7,715.0 2015.9,714.4 2016.4,715.0 2017.6,714.4 2017.8,714.9 2018.8,714.7 2019.0,715.0 2019.7,714.6 2020.2,715.0 2021.2,714.7 2022.1,715.3 2024.8,714.4 2026.0,714.9 2026.9,714.3 2027.2,714.7 2028.1,714.8 2028.4,714.4 2028.6,714.8 2030.3,714.9 2030.8,714.5 2031.0,714.9 2033.2,714.6 2033.9,715.0 2034.4,714.6 2035.6,714.6 2036.3,715.1 2037.0,714.6 2039.4,714.8 2039.6,714.4 2039.9,714.9 2041.8,714.6 2042.3,715.2 2042.5,714.7 2042.8,715.0 2043.7,714.4 2044.0,715.1 2044.7,714.6 2046.1,715.1 2046.4,714.7 2047.3,714.6 2047.6,715.0 2048.0,714.5 2049.0,715.0 2050.9,714.4 2051.4,714.9 2052.1,714.4 2053.1,715.0 2054.8,714.5 2055.5,715.1 2055.7,714.7 2057.4,714.4 2057.6,714.9 2057.9,714.1 2058.4,714.8 2059.1,714.2 2059.3,714.6 2060.0,714.2 2060.3,714.6 2061.2,714.1 2062.9,714.8 2063.2,714.3 2063.4,715.0 2065.3,714.6 2066.0,715.1 2066.8,714.7 2067.7,715.0 2068.2,714.6 2068.7,715.2 2068.9,714.7 2070.8,714.9 2071.3,714.5 2071.6,714.9 2072.8,714.5 2073.7,715.0 2074.4,714.4 2074.9,714.9 2075.4,714.6 2075.6,715.1 2076.8,714.5 2077.8,714.9 2078.5,714.7 2078.8,715.2 2079.0,714.6 2080.4,714.3 2081.6,714.8 2082.1,714.4 2082.6,714.7 2083.6,714.4 2083.8,714.8 2085.0,714.7 2085.2,715.2 2085.7,714.6 2086.4,715.0 2087.4,714.6 2089.6,715.0 2089.8,714.6 2093.9,715.1 2094.1,714.5 2094.6,715.1 2094.8,714.7 2095.6,715.1 2096.8,714.5 2097.0,714.9 2098.0,714.5 2098.7,715.1 2100.1,714.5 2101.3,715.0 2101.6,714.2 2101.8,714.8 2102.0,714.5 2102.8,715.1 2103.7,715.0 2104.0,714.3 2104.4,715.1 2104.9,714.5 2106.1,714.9 2106.8,714.3 2107.3,715.1 2107.8,714.4 2108.5,714.8 2108.8,714.5 2109.0,715.0 2109.2,714.6 2110.0,715.0 2110.4,714.5 2110.7,715.0 2111.4,714.6 2111.6,715.0 2112.4,714.4 2112.6,715.0 2113.3,714.5 2113.6,715.0 2113.8,714.7 2114.5,715.1 2115.0,714.6 2115.5,715.2 2116.7,714.5 2117.2,715.0 2117.4,714.4 2118.4,715.3 2118.6,714.7 2119.1,715.2 2119.6,714.5 2120.8,715.1 2121.0,714.4 2121.7,715.2 2122.0,714.5 2122.4,714.5 2122.7,714.9 2123.6,714.6 2123.9,715.0 2124.4,714.5 2125.3,715.0 2125.6,714.5 2125.8,714.9 2126.0,714.6 2128.7,714.9 2130.1,714.6 2130.8,715.1 2131.1,714.6 2131.6,714.9 2132.3,714.4 2133.2,715.0 2134.0,714.5 2136.1,714.9 2136.8,714.4 2137.8,714.6 2138.0,715.1 2138.3,714.7 2138.5,715.2 2138.8,714.6 2142.6,715.1 2142.8,714.5 2144.5,714.9 2145.0,714.5 2145.5,714.9 2146.2,714.5 2146.4,715.0 2146.7,714.6 2148.1,714.9 2148.6,714.3 2148.8,714.8 2149.6,714.9 2149.8,714.5 2151.0,714.9 2151.5,714.4 2151.7,715.1 2152.2,714.5 2152.9,714.8 2153.9,714.4 2154.4,715.2 2154.6,714.7 2155.8,715.1 2156.5,714.3 2157.2,715.0 2157.5,714.6 2157.7,715.0 2158.2,714.6 2158.9,714.9 2160.4,714.5 2161.3,715.0 2162.3,714.7 2163.5,715.1 2164.0,714.5 2164.2,714.9 2164.9,714.7 2165.4,715.0 2166.6,714.6 2167.6,715.0 2168.0,714.6 2169.0,714.9 2169.2,714.5 2171.4,714.9 2172.1,714.3 2172.6,714.8 2176.2,714.6 2178.8,715.2 2179.3,714.7 2181.2,714.6 2181.5,715.1 2186.0,714.7 2186.8,715.0 2187.0,714.6 2188.0,715.1 2190.8,714.4 2191.1,715.1 2192.5,714.5 2194.4,714.6 2195.2,715.0 2195.6,714.7 2196.8,715.1 2197.3,714.6 2202.4,715.0 2204.5,714.6 2205.0,715.0 2205.5,714.6 2207.9,715.0 2208.1,714.5 2209.3,714.3 2209.6,715.2 2210.0,714.6 2210.5,715.1 2211.5,714.4 2212.9,714.8 2213.2,715.4 2213.4,714.7 2213.6,715.1 2214.4,714.7 2214.6,715.1 2214.8,714.7 2215.8,714.6 2216.0,715.0 2217.7,714.8 2218.2,714.3 2218.4,714.8 2219.2,714.6 2219.6,715.1 2219.9,714.7 2223.0,714.9 2223.2,714.5 2224.0,715.0 2224.4,714.5 2227.1,715.1 2228.8,714.6 2229.0,715.1 2230.2,714.4 2230.4,714.9 2230.7,714.5 2231.9,715.0 2233.3,714.7 2233.6,715.2 2233.8,714.7 2234.3,715.0 2234.8,714.5 2235.0,715.0 2236.4,715.1 2236.7,714.5 2236.9,714.9 2238.4,714.6 2239.1,715.1 2240.0,714.6 2240.5,715.1 2243.6,714.6 2244.8,715.0 2245.6,714.7 2245.8,715.1 2246.5,714.6 2248.2,715.0 2248.7,714.4 2249.4,715.1 2250.6,714.4 2250.8,715.0 2251.8,714.5 2254.7,714.8 2254.9,714.4 2255.6,714.9 2258.0,715.0 2259.0,714.4 2259.2,715.0 2259.5,714.6 2260.4,715.1 2260.9,714.6 2261.4,715.2 2261.6,714.6 2263.1,714.9 2263.3,714.5 2264.5,715.0 2264.8,714.5 2265.7,715.1 2266.9,714.7 2268.1,715.1 2269.1,714.5 2270.3,715.1 2272.2,714.4 2272.7,714.9 2272.9,714.5 2274.4,714.9 2275.8,714.5 2276.8,714.9 2277.5,714.6 2277.7,715.0 2278.7,714.6 2279.6,715.0 2279.9,714.5 2280.4,715.0 2281.1,714.5 2282.0,715.0 2285.6,714.6 2285.9,715.0 2286.4,714.4 2287.1,714.8 2287.6,714.3 2287.8,715.1 2288.0,714.7 2289.0,714.9 2289.2,714.6 2290.2,715.0 2290.4,714.3 2290.9,715.1 2291.2,714.6 2292.6,715.1 2293.1,714.5 2294.5,715.0 2295.5,714.4 2296.0,715.2 2296.4,714.6 2297.2,715.1 2298.1,714.4 2299.1,714.9 2299.6,714.6 2299.8,715.0 2300.3,714.5 2300.5,715.0 2301.0,714.6 2302.0,714.9 2302.4,714.4 2302.7,714.9 2304.1,714.7 2304.4,715.0 2306.5,714.6 2307.2,715.3 2308.7,714.6 2308.9,715.0 2309.6,714.6 2312.8,715.0 2313.2,714.5 2314.4,715.0 2316.4,714.7 2317.3,715.2 2317.6,714.7 2318.8,714.9 2319.2,714.5 2320.7,715.0 2321.6,714.5 2322.1,715.1 2322.6,714.5 2324.5,715.1 2324.8,714.6 2327.9,715.0 2328.1,714.6 2328.6,715.0 2330.0,714.6 2330.3,715.0 2330.5,714.6 2330.8,715.1 2332.2,714.4 2332.9,715.0 2334.4,714.5 2334.8,715.0 2335.8,714.5 2336.8,715.0 2338.4,714.5 2338.7,714.9 2339.4,714.6 2340.6,715.0 2341.6,714.4 2342.5,715.1 2343.0,714.6 2344.0,715.0 2346.4,714.7 2346.6,715.2 2346.8,714.7 2347.1,715.1 2348.3,714.6 2348.5,715.0 2349.0,714.5 2349.7,715.1 2350.2,714.5 2350.4,714.8 2351.4,714.6 2352.8,715.1 2354.5,714.6 2356.2,715.0 2357.6,714.5 2359.1,715.0 2359.6,714.4 2360.0,715.0 2362.4,714.5 2362.9,715.1 2363.4,714.4 2363.6,715.1 2363.9,714.6 2366.0,714.9 2366.3,714.5 2372.8,715.0 2374.9,714.5 2375.4,714.9 2376.1,714.4 2376.4,714.8 2378.5,715.0 2378.8,714.7 2379.5,714.9 2380.2,714.6 2382.4,715.0 2382.6,714.5 2383.1,714.9 2384.0,714.5 2384.8,715.0 2385.2,714.4 2387.2,715.1 2388.6,714.6 2389.3,715.0 2389.8,714.4 2390.8,715.2 2391.0,714.6 2391.5,715.1 2392.0,714.6 2392.4,715.0 2394.1,715.0 2395.3,714.4 2395.6,715.1 2396.8,714.4 2397.0,714.9 2397.7,714.6 2398.0,715.1 2399.2,714.6 2401.3,715.0 2402.5,714.7 2403.0,715.1 2403.7,714.5 2404.4,715.0 2405.9,714.6 2406.1,715.0 2406.6,714.5 2408.0,715.0 2408.8,714.6 2411.6,715.0 2412.1,714.6 2415.2,714.9 2415.7,714.5 2416.2,715.1 2416.4,714.6 2417.2,715.0 2417.4,714.5 2419.1,715.0 2420.0,714.6 2420.5,715.1 2420.8,714.6 2421.0,715.0 2421.2,714.7 2422.2,715.0 2422.4,714.5 2422.7,715.2 2423.2,714.6 2424.1,715.0 2425.1,714.7 2425.3,715.1 2427.5,714.6 2428.2,715.2 2428.9,714.7 2429.6,715.0 2430.1,714.4 2430.4,715.1 2431.3,714.6 2431.6,715.0 2431.8,714.5 2432.5,715.2 2433.5,715.0 2433.7,714.3 2434.4,714.9 2434.7,714.3 2434.9,714.9 2436.6,714.5 2437.3,715.0 2437.6,714.4 2440.0,715.0 2442.8,714.6 2447.6,715.1 2447.9,714.7 2449.6,715.0 2449.8,714.6 2450.0,715.0 2450.3,714.4 2450.8,714.9 2451.7,714.7 2452.2,715.1 2452.9,714.6 2453.2,715.1 2453.6,714.6 2453.9,715.0 2454.1,714.5 2454.4,714.9 2455.1,714.5 2456.0,715.1 2456.8,714.8"/></defs>
<use href="#diffb" fill="none" stroke="#b5dcb5" stroke-width="7.5" stroke-linejoin="round"/>
<defs><path id="obsb" d="M1495.8,696.5 1496.5,698.6 1496.8,695.3 1497.2,696.9 1497.5,696.1 1498.0,697.1 1498.2,695.9 1498.9,697.3 1499.2,696.3 1499.4,696.8 1499.6,696.3 1500.4,697.4 1500.6,696.1 1500.8,696.6 1501.3,696.4 1501.6,697.5 1502.0,695.1 1502.5,698.1 1503.0,696.1 1503.2,696.6 1503.5,695.9 1504.4,696.9 1504.7,696.1 1504.9,697.6 1505.6,695.3 1506.1,697.6 1507.1,695.7 1507.3,698.2 1507.6,695.9 1508.0,697.9 1509.2,694.9 1510.0,697.3 1510.2,696.2 1510.4,696.9 1511.2,696.2 1511.9,698.6 1512.1,695.8 1512.4,696.7 1512.6,695.6 1513.1,697.3 1513.3,696.4 1513.8,697.7 1514.3,695.3 1515.2,697.2 1515.5,696.0 1516.4,697.3 1516.9,695.7 1517.2,697.2 1517.4,695.4 1517.6,697.0 1517.9,696.2 1518.1,696.9 1519.1,694.6 1520.3,687.6 1521.5,695.0 1521.7,693.8 1522.0,696.7 1522.2,695.4 1522.9,698.0 1523.2,695.8 1523.6,697.4 1523.9,695.3 1524.6,697.3 1525.6,696.1 1525.8,697.3 1526.3,697.2 1526.5,697.9 1527.5,695.8 1527.7,697.5 1528.0,696.4 1528.2,697.2 1528.4,695.2 1529.2,697.6 1530.1,696.6 1530.4,698.1 1530.6,696.4 1530.8,697.6 1531.1,695.5 1531.8,698.0 1532.0,696.5 1532.3,697.6 1533.5,696.3 1534.2,698.0 1534.7,697.1 1534.9,698.6 1535.2,696.3 1535.4,697.1 1536.1,696.4 1536.6,697.7 1536.8,696.7 1537.3,697.6 1537.6,696.1 1538.0,698.5 1538.8,696.0 1539.2,697.8 1539.7,696.9 1540.0,697.1 1540.2,695.7 1540.7,697.2 1540.9,696.5 1541.2,698.5 1541.4,696.7 1541.6,696.3 1542.1,697.5 1542.6,695.4 1543.1,697.8 1543.3,695.8 1543.6,698.4 1543.8,696.6 1544.0,697.4 1544.3,696.2 1544.5,697.6 1544.8,695.9 1545.5,698.5 1546.0,696.0 1546.7,697.1 1546.9,696.4 1547.4,696.8 1547.6,697.7 1548.1,695.9 1548.4,698.0 1548.6,695.2 1549.3,698.5 1549.6,696.5 1550.3,698.4 1550.5,696.1 1551.0,697.3 1551.2,694.8 1552.0,697.3 1552.2,696.5 1552.4,698.8 1552.7,696.9 1553.4,698.2 1553.6,696.6 1554.1,696.9 1554.4,696.3 1555.1,698.4 1555.6,696.4 1555.8,697.1 1556.0,696.5 1556.3,697.9 1556.5,697.3 1557.0,697.9 1557.2,695.5 1557.7,697.6 1558.2,697.0 1558.4,698.1 1558.7,696.6 1558.9,698.0 1559.2,697.2 1559.4,697.7 1559.6,697.3 1560.1,698.2 1561.3,695.7 1562.3,697.4 1562.5,695.7 1563.0,697.9 1563.5,696.1 1563.7,698.9 1564.0,697.3 1564.4,698.2 1565.4,696.2 1565.6,694.3 1565.9,696.6 1566.1,695.2 1567.1,696.1 1569.0,677.1 1571.4,696.0 1571.9,697.2 1572.4,694.5 1572.6,697.7 1573.1,696.2 1573.8,697.5 1574.0,695.8 1574.3,697.2 1574.8,696.3 1575.2,698.3 1575.7,696.3 1576.4,697.8 1577.4,695.5 1578.1,698.3 1578.4,696.1 1578.6,697.1 1579.3,695.8 1579.8,697.3 1580.3,696.2 1580.5,698.0 1580.8,695.9 1581.5,697.2 1581.7,696.8 1582.0,697.9 1582.2,697.0 1582.9,697.5 1583.4,696.2 1583.6,698.1 1583.9,696.4 1584.4,698.8 1584.6,697.2 1585.1,696.8 1585.3,698.4 1586.0,696.1 1586.8,697.9 1587.5,696.6 1588.0,697.8 1588.4,695.7 1589.2,697.4 1589.9,695.8 1590.4,697.8 1590.6,697.5 1591.1,698.1 1591.3,696.1 1591.8,698.1 1592.0,695.7 1592.5,697.8 1592.8,696.8 1593.5,698.6 1594.0,696.8 1594.2,699.1 1594.4,696.6 1595.6,697.7 1596.1,695.9 1596.4,698.1 1596.6,696.8 1597.6,698.0 1598.3,696.5 1598.5,697.5 1598.8,694.3 1599.0,697.1 1599.2,696.5 1599.7,696.7 1600.0,695.2 1600.2,696.5 1600.4,694.7 1600.7,694.4 1600.9,695.5 1601.4,692.6 1602.8,679.5 1604.3,694.4 1605.0,696.8 1605.5,696.9 1605.7,695.7 1606.2,696.9 1606.4,696.1 1606.9,696.8 1607.2,696.4 1607.4,697.4 1607.6,696.3 1608.4,697.8 1609.1,694.5 1609.3,697.4 1609.6,696.2 1609.8,697.2 1610.3,696.2 1610.5,697.5 1611.7,696.1 1612.7,697.7 1613.4,696.3 1613.9,697.8 1614.1,696.3 1614.4,697.4 1615.1,696.4 1615.3,698.6 1615.8,696.6 1616.3,697.4 1616.8,695.6 1617.0,697.0 1617.5,696.0 1617.7,696.9 1618.0,696.2 1618.7,697.3 1618.9,695.7 1619.6,697.2 1619.9,694.8 1620.8,697.3 1621.1,695.8 1621.6,697.1 1621.8,694.9 1622.3,696.5 1623.0,695.3 1623.5,696.6 1623.7,694.0 1624.0,694.8 1624.4,693.7 1624.7,694.8 1625.4,693.4 1625.9,694.1 1626.6,693.2 1626.8,694.1 1628.3,687.1 1628.8,688.2 1629.2,684.7 1630.7,665.7M1635.2,660.0 1636.4,682.0 1637.9,690.7 1638.1,691.5 1638.6,690.0 1639.1,692.9 1639.3,691.2 1639.6,694.6 1639.8,692.7 1640.5,693.9 1640.8,692.1 1641.0,695.4 1641.5,695.0 1642.0,696.2 1642.2,693.9 1642.7,696.9 1643.2,695.3 1643.6,697.0 1643.9,696.0 1644.6,695.8 1644.8,697.6 1645.1,694.8 1645.3,696.1 1645.8,694.1 1646.3,697.4 1646.5,695.8 1647.2,697.4 1647.5,695.3 1648.0,697.8 1648.7,696.7 1649.2,697.7 1649.4,696.4 1649.6,697.4 1650.1,696.0 1650.6,697.5 1651.1,696.3 1651.3,697.0 1652.3,696.6 1652.5,697.7 1653.0,697.1 1653.2,697.7 1653.7,696.8 1654.4,697.8 1654.7,695.9 1655.2,698.1 1655.6,695.8 1656.1,697.2 1656.4,696.4 1656.6,698.4 1657.1,696.7 1657.3,698.8 1657.8,696.7 1658.3,697.8 1658.8,696.1 1659.2,698.4 1660.0,696.4 1660.4,698.0 1660.7,695.6 1660.9,697.8 1661.2,697.1 1662.1,697.0 1662.6,698.5 1662.8,697.6 1663.6,697.4 1663.8,698.0 1664.3,696.3 1664.5,699.2 1664.8,697.5 1665.2,699.5 1665.5,697.2 1666.2,698.0 1666.7,696.6 1666.9,697.3 1667.2,697.0 1667.9,698.1 1668.1,697.5 1668.4,698.1 1669.6,695.5 1669.8,699.2 1670.0,697.6 1670.8,698.6 1671.0,697.5 1672.0,698.0 1672.2,699.4 1672.4,696.8 1672.9,698.3 1673.2,697.4 1673.6,699.3 1673.9,696.9 1674.1,698.9 1674.8,696.6 1675.6,698.2 1676.3,696.3 1676.8,698.1 1677.0,696.8 1677.5,697.9 1678.7,696.7 1679.2,699.4 1680.1,696.0 1680.4,697.7 1681.1,696.8 1681.8,698.5 1682.3,696.7 1682.5,698.7 1682.8,697.0 1683.5,697.0 1684.0,699.3 1684.7,697.0 1684.9,698.5 1685.6,696.7 1685.9,698.8 1686.4,697.2 1686.6,699.3 1686.8,697.4 1687.3,698.9 1688.5,696.5 1689.2,698.1 1689.7,696.8 1690.0,699.1 1690.2,697.1 1690.4,698.0 1691.2,697.0 1691.6,697.9 1692.8,696.9 1693.6,698.6 1693.8,697.7 1694.0,699.0 1695.0,695.3 1695.2,697.9 1695.5,696.5 1696.2,698.2 1696.7,696.5 1697.2,698.7 1697.9,696.4 1698.1,697.2 1698.6,696.5 1699.6,698.7 1699.8,697.0 1700.3,696.6 1700.5,698.2 1701.5,696.2 1701.7,697.9 1702.0,697.0 1702.2,697.7 1702.4,696.9 1702.7,697.5 1703.2,696.2 1703.6,698.3 1703.9,696.1 1704.4,697.6 1705.1,696.1 1705.6,697.7 1706.3,694.1 1706.5,696.9 1706.8,693.7 1707.2,695.2 1707.5,693.8 1707.7,694.9 1708.0,693.9 1708.2,695.0 1708.4,693.9 1708.9,694.3 1710.1,685.2 1712.8,599.8 1714.4,665.1 1715.6,689.5 1716.4,693.1 1716.6,691.8 1717.1,694.4 1717.6,694.8 1717.8,694.2 1718.3,695.7 1719.0,695.3 1719.2,696.3 1720.0,693.9 1720.4,698.3 1721.4,694.7 1721.9,697.7 1722.1,695.6 1722.8,694.6 1723.1,696.5 1723.3,694.7 1723.6,696.8 1724.3,693.2 1724.8,696.1 1725.5,692.7 1725.7,694.3 1726.7,690.8 1726.9,692.0 1728.1,680.6 1730.8,584.6 1732.9,672.0 1733.9,687.2 1734.6,692.3 1734.8,693.1 1735.1,691.9 1735.3,694.9 1735.6,694.3 1735.8,694.6 1736.0,696.6 1736.5,694.3 1737.0,696.2 1737.7,694.4 1738.0,696.7 1738.9,696.5 1739.6,698.0 1739.9,697.3 1740.4,697.8 1741.1,696.4 1741.3,698.0 1741.8,696.6 1742.5,699.0 1742.8,696.8 1743.5,698.3 1744.0,696.6 1744.7,699.1 1744.9,697.0 1745.2,698.8 1745.4,697.1 1745.9,697.6 1746.1,696.5 1746.4,697.9 1746.8,697.1 1747.3,698.1 1747.6,696.8 1748.0,697.9 1748.5,697.7 1748.8,696.1 1749.0,697.7 1750.0,699.3 1750.2,697.7 1750.9,699.0 1751.2,698.1 1751.6,698.9 1751.9,697.6 1752.4,697.9 1752.6,697.3 1752.8,698.4 1753.1,696.8 1753.3,698.6 1753.8,697.4 1754.8,699.0 1755.5,697.4 1757.2,698.1 1757.4,696.2 1757.6,699.1 1758.6,696.6 1759.1,698.5 1759.3,697.8 1759.6,698.5 1760.0,696.2 1760.3,697.6 1760.5,696.7 1761.0,697.9 1762.4,693.5 1762.7,694.2 1763.4,690.8 1763.6,692.8 1764.1,687.3 1764.4,688.0 1764.8,684.2 1765.1,686.3 1765.6,683.6 1766.0,686.2 1766.3,685.1 1766.8,686.7 1768.2,694.9 1768.7,694.3 1769.4,696.8 1769.9,696.3 1770.1,698.2 1770.4,695.6 1770.6,697.4 1770.8,695.8 1771.3,697.9 1771.6,697.1 1771.8,697.5 1772.3,697.2 1773.2,699.0 1773.7,697.8 1774.4,698.3 1774.7,697.4 1774.9,699.6 1775.6,697.4 1776.4,698.1 1776.6,697.4 1777.3,699.8 1777.6,696.9 1778.5,699.8 1779.0,698.1 1779.5,699.3 1780.4,697.7 1780.7,698.4 1781.2,698.2 1781.4,699.8 1782.1,697.7 1782.4,699.6 1782.6,697.6 1782.8,698.7 1783.3,697.3 1783.6,699.3 1784.0,697.4 1784.3,699.0 1784.8,697.7 1785.0,698.3 1785.2,697.6 1785.7,698.1 1786.2,696.4 1786.4,698.2 1786.7,696.9 1787.6,698.7 1788.6,696.9 1788.8,698.8 1789.8,696.8 1790.0,698.5 1790.3,696.9 1790.5,697.9 1791.0,696.5 1791.2,697.4 1791.5,696.6 1792.2,696.9 1792.4,697.8 1794.1,692.8 1794.8,686.9 1796.8,653.7 1798.0,666.4 1798.7,683.2 1800.8,696.5 1801.1,696.1 1801.3,697.4 1802.0,697.5 1802.3,696.2 1802.8,698.0 1803.0,696.6 1803.2,698.8 1804.0,696.8 1804.4,697.5 1805.2,696.9 1805.6,699.3 1806.1,697.5 1806.4,697.9 1807.3,697.6 1807.6,698.8 1807.8,697.4 1808.5,699.3 1808.8,697.9 1809.0,699.5 1809.2,697.3 1809.5,699.3 1809.7,698.2 1810.2,699.0 1810.4,697.5 1810.7,698.7 1810.9,697.3 1811.6,699.9 1812.1,697.8 1812.8,699.2 1813.1,696.7 1814.0,700.4 1814.5,697.0 1815.5,699.6 1815.7,698.1 1816.0,699.1 1816.4,699.0 1817.2,697.3 1817.9,699.4 1818.4,699.4 1818.6,697.9 1818.8,698.4 1819.1,697.9 1820.3,699.6 1820.5,697.1 1821.0,698.9 1821.2,697.1 1821.5,698.9 1821.7,698.2 1822.4,698.9 1822.9,697.5 1823.4,700.3 1823.6,697.6 1824.4,698.8 1824.8,697.3 1825.1,699.5 1825.3,698.1 1825.8,699.8 1826.3,698.2 1826.5,699.6 1827.0,697.7 1827.7,699.5 1828.9,697.5 1829.4,699.8 1830.1,697.7 1830.4,699.2 1830.8,698.7 1831.3,699.3 1831.8,697.9 1832.3,698.9 1832.5,698.3 1832.8,699.6 1833.0,697.9 1833.7,699.9 1834.0,697.1 1834.2,700.8 1834.9,698.1 1835.2,699.7 1835.4,698.4 1835.9,698.8 1836.4,697.5 1837.1,700.2 1837.3,697.4 1837.8,699.9 1838.3,697.3 1838.8,699.3 1839.0,696.7 1839.2,697.9 1839.7,697.5 1840.0,699.9 1840.7,696.4 1841.4,699.0 1842.4,697.7 1842.6,695.9 1842.8,696.9 1843.3,695.8 1844.0,696.9 1844.8,691.5 1845.2,691.0 1847.2,662.4 1847.6,665.4 1847.9,664.1 1849.8,693.1 1851.5,697.8 1851.7,697.2 1852.0,697.8 1852.2,696.4 1852.4,698.8 1852.9,697.3 1853.6,698.5 1853.9,697.9 1854.1,699.1 1854.6,698.4 1854.8,699.4 1855.1,698.1 1855.3,698.7 1855.8,697.8 1856.3,699.4 1856.5,698.3 1856.8,699.7 1857.2,697.3 1857.5,698.6 1857.7,697.4 1858.4,699.5 1858.7,697.9 1858.9,698.8 1859.2,698.2 1860.4,698.7 1860.8,700.3 1861.3,697.2 1861.6,697.9 1861.8,697.0 1862.5,699.5 1862.8,698.2 1863.2,698.8 1863.5,698.2 1863.7,699.4 1864.7,697.8 1864.9,698.8 1865.2,697.7 1865.6,699.3 1865.9,697.0 1866.1,699.7 1866.6,698.2 1866.8,700.4 1867.3,697.9 1867.6,698.8 1868.3,698.9 1868.5,697.9 1868.8,699.0 1869.7,697.9 1870.2,700.2 1870.4,698.8 1870.9,699.5 1871.9,697.4 1872.1,699.4 1872.6,697.2 1873.1,699.5 1873.8,697.1 1874.5,699.4 1875.0,697.7 1875.7,699.9 1876.0,697.4 1876.7,699.6 1877.2,697.0 1877.4,698.6 1878.1,697.9 1878.4,699.7 1879.3,697.8 1879.6,698.3 1880.0,697.7 1880.5,698.3 1882.4,695.2 1882.7,695.9 1882.9,693.3 1883.2,694.6 1886.3,671.3 1886.8,671.7 1887.0,674.4 1887.2,672.9 1889.2,692.1 1889.4,691.1 1890.4,696.1 1890.6,695.7 1890.8,696.4 1891.3,695.9 1891.8,697.9 1892.0,696.5 1892.8,699.1 1893.5,697.5 1894.2,698.6 1895.6,697.4 1895.9,698.7 1896.6,699.3 1896.8,698.1 1897.3,699.7 1897.6,698.0 1897.8,699.0 1898.5,698.0 1899.0,699.8 1899.2,697.9 1900.0,699.9 1900.2,697.2 1900.4,698.1 1900.9,697.7 1901.4,699.2 1901.6,697.5 1902.1,697.5 1902.6,696.3 1902.8,698.3 1903.3,696.8 1903.6,697.2 1904.3,696.3 1904.5,697.0 1905.2,695.7 1905.7,695.9 1907.6,682.0 1908.8,664.9 1909.3,665.2 1909.6,661.8 1909.8,662.7 1910.3,662.4 1913.2,694.2 1913.6,692.8 1914.1,697.2 1914.6,696.0 1914.8,698.1 1915.1,696.4 1915.3,698.0 1916.0,695.2 1916.3,698.7 1916.5,697.6 1916.8,699.0 1917.0,697.1 1918.0,699.1 1918.2,698.8 1918.7,699.2 1919.2,697.7 1919.9,699.0 1920.1,698.2 1920.4,699.3 1920.8,698.1 1921.3,699.1 1921.8,698.3 1922.3,699.8 1922.5,699.1 1922.8,699.6 1923.0,697.7 1923.5,699.9 1924.0,698.4 1924.4,699.2 1925.2,698.2 1925.4,698.7 1925.6,697.3 1925.9,699.1 1926.1,697.9 1926.6,700.2 1926.8,699.8 1927.1,700.3 1927.6,698.1 1927.8,699.5 1928.0,698.6 1928.8,699.8 1929.0,698.4 1929.2,699.2 1929.7,699.2 1930.0,697.5 1930.7,700.0 1931.2,698.8 1931.4,700.4 1931.6,698.1 1932.8,699.4 1933.1,698.0 1933.3,698.5 1933.6,698.1 1934.0,699.7 1934.3,698.1 1934.5,699.9 1935.2,698.2 1935.5,700.0 1936.0,699.0 1936.4,699.6 1936.7,698.5 1937.4,700.6 1937.6,699.0 1937.9,700.3 1938.1,698.4 1938.6,699.2 1939.6,698.5 1940.3,699.3 1940.5,697.5 1940.8,698.5 1941.2,698.1 1941.5,698.8 1942.4,697.8 1942.7,699.3 1943.4,697.6 1943.9,698.3 1944.1,697.4 1944.6,697.6 1945.6,693.8 1945.8,694.8 1947.7,683.7 1948.2,683.9 1949.2,678.3 1949.6,680.3 1949.9,678.2 1952.8,694.7 1953.2,694.0 1953.7,697.2 1954.2,695.1 1954.7,699.1 1955.4,696.8 1955.9,697.3 1957.1,696.9 1957.3,696.0 1957.8,696.2 1958.0,694.6 1958.3,695.6 1958.8,693.9 1959.0,695.0 1959.7,690.9 1960.0,692.1 1960.9,689.6 1961.2,691.0 1961.4,689.4 1962.6,693.6 1962.8,692.6 1963.6,695.6 1963.8,694.2 1964.0,694.8 1964.3,697.6 1964.5,696.3 1965.0,699.2 1965.2,697.2 1966.2,698.8 1966.9,697.7 1967.2,699.0 1967.6,698.2 1967.9,700.3 1968.1,698.4 1968.6,700.3 1968.8,698.1 1969.1,699.3 1969.6,697.5 1969.8,699.3 1970.3,698.2 1970.5,699.4 1970.8,697.4 1971.0,697.7 1971.2,697.0 1971.5,698.9 1972.0,696.9 1972.2,698.5 1972.4,696.4 1972.7,698.1 1972.9,696.9 1973.2,698.0 1973.6,695.9 1973.9,697.2 1974.4,696.6 1974.6,698.1 1976.0,697.2 1976.8,699.5 1977.5,697.4 1977.7,700.0 1978.2,698.7 1978.4,699.9 1978.7,698.9 1979.6,700.0 1980.1,698.5 1980.4,699.2 1980.6,697.5 1980.8,700.5 1981.3,699.0 1981.6,700.2 1982.0,698.9 1982.5,699.6 1982.8,698.8 1983.5,699.1 1984.0,700.3 1984.9,698.9 1985.2,699.3 1985.4,698.8 1985.9,700.0 1986.1,698.9 1986.6,700.1 1987.1,697.6 1987.3,701.9 1987.6,698.8 1988.5,699.9 1988.8,697.9 1989.0,699.9 1989.5,699.0 1990.4,700.5 1990.7,698.8 1991.2,701.3 1991.4,698.9 1992.1,700.0 1992.4,698.8 1992.8,701.2 1993.8,698.1 1994.3,699.8 1994.8,699.0 1995.5,700.9 1996.9,698.3 1997.2,699.7 1997.4,698.5 1997.6,700.3 1998.4,698.1 1998.6,700.2 1999.1,699.3 1999.8,700.3 2000.3,699.0 2000.5,699.8 2000.8,697.4 2001.2,699.8 2002.0,696.6 2002.4,698.3 2002.9,695.7 2003.4,696.7 2003.9,695.3 2004.1,695.9 2004.6,695.2 2005.1,697.1 2005.3,696.0 2005.6,697.8 2005.8,696.7 2006.0,697.9 2006.3,697.0 2006.5,698.7 2006.8,697.2 2008.2,699.9 2008.4,698.4 2008.7,698.8 2008.9,698.4 2009.4,700.8 2010.1,699.0 2010.4,700.9 2010.6,698.9 2011.1,700.5 2011.6,699.3 2012.5,700.7 2012.8,700.0 2013.0,700.9 2013.7,698.8 2014.0,700.9 2014.2,698.7 2014.7,700.4 2015.2,699.1 2015.6,700.0 2015.9,698.3 2016.4,700.6 2016.8,698.5 2017.1,699.5 2017.6,698.3 2017.8,700.2 2018.0,699.5 2018.3,700.2 2018.8,699.3 2019.0,700.7 2019.7,698.9 2020.2,700.5 2020.4,699.3 2020.7,700.4 2021.2,699.0 2022.1,701.2 2022.8,698.7 2023.1,699.3 2023.8,697.1 2024.3,697.8 2024.8,695.8 2025.0,697.0 2025.2,696.5 2026.0,697.8 2026.2,696.8 2026.7,697.2 2026.9,695.6 2027.2,697.6 2027.4,697.3 2027.6,698.0 2027.9,697.1 2028.1,698.4 2028.4,697.0 2028.6,698.8 2029.1,698.2 2030.0,699.9 2030.8,698.3 2031.0,699.9 2031.2,699.2 2031.5,700.2 2031.7,699.5 2032.0,700.6 2032.4,699.7 2032.7,700.3 2033.2,699.0 2033.9,700.6 2034.4,698.9 2034.8,699.8 2035.6,698.8 2036.3,700.6 2037.0,698.5 2037.5,699.2 2037.7,698.0 2038.0,699.4 2038.9,697.9 2039.4,698.0 2039.6,696.2 2039.9,698.3 2040.6,696.9 2041.3,697.9 2041.8,697.4 2042.3,700.1 2042.5,698.4 2042.8,699.6 2043.2,698.0 2043.5,699.1 2043.7,697.9 2044.0,700.5 2044.7,699.0 2044.9,700.2 2045.2,699.6 2045.6,699.7 2046.1,701.0 2046.4,699.4 2046.8,699.8 2047.3,699.1 2047.6,700.7 2048.0,698.8 2048.8,699.4 2049.0,700.9 2049.7,698.8 2050.2,700.2 2050.9,698.4 2051.4,700.2 2052.1,698.1 2053.1,700.6 2053.8,700.3 2054.8,698.5 2055.5,700.7 2055.7,699.0 2056.0,698.7 2056.2,699.5 2056.7,699.1 2057.4,696.9 2057.6,698.4 2057.9,695.1 2058.1,697.4 2059.1,693.4 2059.3,694.8 2060.0,692.3 2060.3,693.9 2061.0,693.3 2061.2,692.0 2062.9,697.1 2063.2,695.6 2063.4,698.6 2063.6,697.6 2064.1,699.5 2064.8,698.6 2065.1,699.7 2065.3,698.7 2065.8,698.9 2066.0,700.9 2066.8,699.3 2067.0,700.3 2068.0,700.5 2068.2,699.2 2068.7,701.6 2068.9,699.7 2069.2,700.3 2069.6,699.6 2070.8,700.6 2071.3,699.0 2071.6,700.5 2072.0,700.5 2072.8,699.0 2073.7,700.9 2074.4,698.5 2074.9,700.5 2075.4,699.2 2075.6,701.3 2076.8,698.5 2077.1,699.5 2077.3,699.0 2077.8,699.5 2078.5,697.9 2078.8,699.7 2079.0,697.3 2080.0,696.6 2080.4,694.8 2080.9,694.8 2081.6,696.9 2082.1,695.4 2082.6,697.3 2083.1,696.7 2083.3,698.0 2083.6,696.9 2083.8,699.0 2084.0,698.1 2085.0,699.0 2085.2,701.1 2085.7,698.9 2086.0,699.5 2086.2,699.0 2086.4,700.7 2087.4,699.2 2087.9,700.5 2088.1,699.5 2088.6,700.5 2088.8,699.7 2089.3,699.9 2089.6,701.1 2089.8,699.3 2090.3,700.2 2090.8,700.0 2091.2,700.7 2091.5,700.2 2092.2,701.1 2092.7,699.6 2093.9,701.3 2094.1,699.1 2094.6,701.3 2094.8,700.0 2095.6,701.3 2096.0,699.2 2096.5,700.8 2096.8,699.0 2097.2,701.0 2098.0,699.2 2098.2,701.4 2098.4,700.1 2098.7,701.5 2098.9,700.0 2099.6,700.8 2100.1,699.1 2100.4,700.3 2100.8,700.6 2101.1,699.9 2101.3,700.9 2101.6,697.7 2101.8,700.3 2102.0,698.9 2102.8,701.1 2103.0,700.2 2103.5,699.9 2103.7,700.5 2104.0,697.8 2104.4,700.6 2104.9,698.0 2105.2,698.9 2105.6,697.4 2106.1,698.7 2106.8,695.9 2107.3,699.0 2107.8,696.3 2108.5,698.4 2108.8,697.2 2109.0,699.5 2109.2,697.8 2110.0,700.0 2110.4,698.3 2110.7,700.4 2110.9,699.5 2111.2,700.4 2111.4,699.1 2111.6,700.9 2112.4,698.6 2112.6,701.1 2113.3,699.3 2113.6,701.1 2113.8,699.8 2114.5,701.5 2115.0,699.7 2115.5,701.9 2116.0,699.8 2116.4,700.3 2116.7,699.5 2117.2,701.4 2117.4,698.8 2118.4,702.3 2118.6,699.9 2119.1,701.9 2119.6,699.5 2119.8,700.8 2120.5,700.3 2120.8,701.7 2121.0,699.1 2121.7,702.0 2122.0,699.3 2122.2,700.2 2122.4,699.1 2122.7,701.0 2122.9,699.8 2123.2,700.7 2123.6,699.6 2123.9,701.2 2124.4,699.2 2125.3,701.2 2125.6,699.5 2125.8,701.0 2126.0,699.6 2126.3,700.7 2127.0,700.0 2127.7,700.7 2128.4,699.8 2128.7,700.7 2129.4,699.3 2129.9,700.2 2130.1,698.8 2130.4,699.6 2130.6,698.7 2130.8,700.3 2131.1,698.2 2131.3,697.9 2131.6,698.9 2132.3,696.8 2133.2,699.4 2134.0,697.9 2134.9,699.7 2135.4,698.7 2135.6,699.6 2135.9,699.2 2136.1,700.5 2136.8,698.8 2137.1,699.6 2137.3,699.1 2138.0,701.6 2138.3,700.1 2138.5,702.0 2138.8,699.6 2140.0,701.1 2140.4,699.5 2140.9,701.0 2142.4,700.6 2142.6,701.7 2142.8,699.5 2143.1,700.5 2143.3,699.6 2143.8,700.8 2144.3,700.5 2144.5,701.1 2145.0,699.3 2145.5,701.0 2145.7,700.3 2146.0,701.2 2146.2,699.6 2146.4,701.3 2146.7,700.0 2147.4,701.2 2147.6,700.8 2148.1,701.1 2148.6,698.7 2148.8,700.7 2149.1,699.7 2149.6,700.8 2149.8,699.3 2151.0,700.5 2151.5,698.5 2151.7,701.2 2152.2,698.4 2152.9,699.5 2153.2,698.5 2153.6,699.4 2153.9,698.3 2154.4,701.4 2154.6,699.7 2155.6,700.5 2155.8,701.5 2156.5,698.5 2157.2,701.6 2157.5,699.8 2157.7,701.3 2158.2,700.0 2158.9,701.2 2159.6,699.7 2160.1,700.8 2160.4,699.5 2160.6,701.1 2160.8,700.2 2161.3,701.7 2161.8,700.4 2162.3,700.4 2162.8,701.1 2163.0,700.5 2163.5,701.8 2164.0,699.5 2164.2,701.2 2164.9,700.2 2165.4,701.5 2165.6,700.3 2165.9,701.1 2166.6,699.8 2167.6,701.3 2168.0,699.4 2168.5,699.3 2169.0,700.2 2169.2,698.5 2170.0,699.5 2170.7,698.0 2171.4,699.4 2172.1,697.2 2172.6,699.7 2172.8,699.2 2173.1,699.9 2173.6,699.3 2174.3,701.1 2174.5,699.9 2174.8,700.4 2175.2,699.8 2175.5,700.5 2175.7,700.1 2176.0,701.1 2176.2,700.0 2177.2,701.8 2177.9,700.8 2178.4,701.3 2178.6,701.0 2178.8,702.3 2179.3,700.5 2179.8,700.1 2180.0,701.0 2180.8,701.2 2181.2,700.0 2181.5,702.1 2182.0,700.7 2182.2,701.6 2182.4,700.6 2182.7,701.9 2182.9,701.2 2183.2,702.1 2183.4,700.7 2183.6,701.5 2183.9,700.5 2184.4,701.6 2184.8,700.9 2185.6,701.2 2186.0,700.4 2186.8,701.8 2187.0,700.3 2188.0,702.1 2188.2,700.8 2188.7,701.8 2189.2,700.4 2189.9,701.1 2190.1,700.1 2190.4,700.7 2190.8,699.0 2191.1,701.8 2192.0,699.4 2192.3,700.2 2192.5,698.7 2193.2,699.7 2194.0,698.6 2194.2,699.4 2194.4,699.0 2194.9,699.6 2195.2,701.0 2195.6,699.9 2196.1,701.3 2196.6,700.3 2196.8,701.7 2197.3,700.0 2198.3,701.3 2198.8,700.6 2199.0,701.8 2199.5,700.4 2199.7,701.7 2200.0,700.4 2200.4,701.9 2201.2,700.7 2201.9,701.9 2202.1,701.0 2202.4,701.9 2202.8,700.6 2203.3,701.4 2204.5,700.2 2205.0,701.9 2205.5,700.2 2206.2,700.3 2206.4,701.4 2206.9,700.3 2207.2,700.9 2207.4,700.5 2207.9,701.9 2208.1,699.7 2208.6,700.6 2209.3,699.1 2209.6,702.7 2210.0,700.3 2210.5,702.2 2211.0,699.7 2211.2,700.3 2211.5,699.5 2211.7,700.8 2212.2,699.9 2212.9,700.7 2213.2,703.3 2213.4,700.5 2213.6,701.9 2214.4,700.1 2214.6,701.7 2215.1,699.5 2215.8,699.1 2216.0,700.5 2216.3,699.3 2216.8,699.6 2217.5,698.5 2217.7,699.0 2218.2,696.8 2218.4,699.0 2219.2,698.7 2219.6,701.0 2219.9,699.3 2220.4,700.7 2221.1,700.2 2222.3,700.8 2222.5,700.1 2223.0,701.5 2223.2,699.8 2223.5,701.0 2223.7,700.0 2224.0,701.8 2224.4,699.9 2225.2,701.5 2225.6,701.3 2226.6,701.9 2226.8,701.0 2227.1,702.4 2227.6,700.7 2228.0,701.8 2228.8,700.6 2229.0,702.6 2229.5,700.3 2229.7,701.2 2230.2,699.8 2230.4,701.6 2230.7,700.2 2231.9,701.9 2232.6,700.4 2232.8,701.5 2233.3,701.0 2233.6,702.9 2233.8,700.8 2234.3,702.1 2234.8,700.2 2235.0,702.0 2236.0,701.6 2236.4,702.4 2236.7,700.1 2236.9,701.6 2237.4,700.7 2237.6,701.6 2237.9,700.6 2238.4,700.6 2238.6,701.6 2238.8,700.9 2239.1,702.4 2240.0,700.4 2240.5,702.5 2240.8,701.3 2241.2,701.2 2241.5,702.1 2242.2,700.8 2242.7,700.8 2242.9,702.3 2243.6,700.6 2244.1,701.4 2244.6,701.2 2244.8,702.1 2245.3,700.5 2245.8,702.2 2246.5,700.0 2247.0,700.0 2247.5,701.7 2248.0,700.4 2248.2,701.2 2248.7,698.8 2249.4,701.3 2249.6,699.9 2250.6,699.1 2250.8,701.4 2251.8,699.7 2252.0,700.7 2252.5,700.2 2253.2,701.7 2253.5,701.0 2254.2,701.6 2254.4,700.6 2254.7,701.4 2254.9,699.8 2255.6,701.7 2255.9,700.7 2256.6,702.1 2256.8,701.0 2258.0,702.3 2258.5,700.5 2258.8,701.8 2259.0,699.8 2259.2,702.3 2259.5,700.7 2260.2,701.0 2260.4,702.5 2260.9,700.7 2261.4,703.0 2261.6,700.7 2261.9,702.0 2262.6,700.5 2263.1,701.8 2263.3,700.3 2264.5,702.3 2264.8,700.2 2265.7,702.5 2266.0,701.5 2266.4,702.5 2266.9,701.2 2267.2,702.4 2267.4,701.5 2267.6,702.4 2267.9,701.2 2268.1,702.6 2268.4,700.9 2269.1,700.0 2270.3,702.3 2271.0,700.7 2271.2,701.2 2272.0,700.4 2272.2,699.1 2272.7,701.0 2272.9,699.5 2273.2,700.7 2273.6,699.7 2274.4,701.1 2274.8,700.3 2275.1,701.2 2275.8,700.0 2276.8,701.8 2277.0,700.4 2277.2,701.1 2277.5,700.7 2277.7,702.3 2278.0,700.9 2278.2,701.3 2278.7,700.8 2279.2,701.7 2279.4,701.0 2279.6,702.3 2279.9,700.5 2280.4,702.2 2280.6,700.6 2281.1,700.5 2282.0,702.2 2282.3,701.0 2282.8,701.8 2283.0,701.1 2283.2,702.1 2283.5,700.8 2284.2,702.0 2284.4,700.9 2284.9,701.9 2285.6,700.8 2285.9,702.6 2286.4,700.2 2286.6,701.9 2286.8,701.2 2287.1,701.8 2287.6,699.8 2287.8,702.9 2288.0,701.2 2289.0,702.2 2289.2,700.7 2289.7,702.4 2290.0,701.6 2290.2,702.5 2290.4,699.7 2290.9,702.8 2291.2,701.0 2292.4,701.7 2292.6,703.0 2293.1,700.3 2293.8,702.5 2294.0,701.9 2294.3,702.6 2295.0,700.7 2295.2,701.7 2295.5,700.0 2296.0,703.1 2296.4,700.8 2296.7,701.5 2296.9,700.9 2297.2,702.7 2297.4,700.8 2297.6,702.4 2298.1,700.2 2298.4,701.6 2298.8,701.1 2299.1,702.1 2299.6,700.9 2299.8,702.5 2300.3,700.3 2300.5,702.3 2301.0,700.6 2301.5,702.0 2301.7,700.7 2302.0,701.8 2302.4,699.6 2302.7,701.7 2302.9,700.6 2303.2,701.4 2303.4,700.6 2303.9,701.5 2304.1,700.4 2304.4,701.9 2304.6,700.6 2305.1,701.4 2305.3,700.3 2305.8,701.3 2306.3,701.3 2306.5,700.6 2307.2,703.5 2307.5,702.2 2308.0,701.7 2308.2,702.5 2308.4,702.1 2308.7,700.7 2308.9,702.5 2309.6,700.8 2310.1,701.7 2310.4,701.0 2310.8,702.5 2311.1,701.4 2312.0,702.0 2312.3,701.5 2312.8,702.8 2313.2,700.7 2313.5,701.2 2313.7,700.7 2314.4,702.5 2314.9,701.1 2316.1,702.3 2316.4,701.2 2316.8,702.2 2317.1,701.7 2317.3,703.3 2317.6,701.3 2317.8,702.3 2318.5,701.3 2318.8,702.2 2319.2,700.5 2320.0,701.8 2320.2,700.9 2320.7,702.5 2321.2,701.6 2321.4,702.4 2321.6,700.6 2322.1,703.2 2322.6,700.7 2323.1,701.6 2324.3,701.9 2324.5,702.9 2324.8,701.2 2325.0,702.1 2325.7,701.1 2326.0,702.3 2326.4,701.3 2327.9,702.5 2328.1,701.0 2328.6,702.4 2329.1,701.3 2329.6,702.3 2330.0,701.0 2330.3,702.6 2330.5,700.8 2330.8,702.6 2331.0,700.9 2331.5,701.4 2332.2,699.6 2332.9,701.9 2333.4,700.9 2333.6,701.4 2333.9,700.7 2334.1,701.3 2334.4,700.0 2334.8,702.2 2335.8,700.6 2336.8,702.5 2338.0,701.2 2338.2,701.8 2338.4,700.7 2338.7,702.4 2339.4,701.2 2340.6,702.6 2341.6,700.3 2341.8,702.2 2342.0,701.4 2342.5,703.2 2343.0,701.0 2343.2,702.8 2343.7,702.1 2344.0,702.9 2344.2,701.8 2344.4,702.1 2344.7,701.6 2345.2,702.9 2345.6,701.6 2345.9,702.2 2346.4,701.6 2346.6,703.4 2346.8,701.6 2347.1,703.3 2347.6,702.1 2348.0,702.6 2348.3,701.3 2348.5,702.7 2349.0,700.8 2349.7,703.1 2350.2,700.7 2350.4,702.2 2351.4,701.3 2352.8,703.2 2353.1,702.0 2354.0,702.7 2354.5,701.4 2355.0,702.5 2356.0,701.6 2356.2,703.0 2356.7,701.2 2357.2,702.2 2357.6,700.7 2358.1,702.6 2358.4,701.9 2359.1,702.9 2359.6,700.6 2360.0,702.9 2360.3,701.7 2360.5,703.0 2361.2,701.1 2361.5,702.0 2362.2,702.2 2362.4,701.1 2362.9,703.1 2363.4,700.6 2363.6,703.1 2363.9,701.4 2364.6,702.6 2365.3,701.4 2365.6,702.3 2365.8,701.1 2366.0,702.2 2366.3,700.7 2367.0,701.8 2367.7,700.6 2368.0,701.8 2368.7,701.0 2369.4,702.1 2369.6,701.7 2369.9,702.0 2370.1,700.7 2370.8,702.4 2371.3,701.4 2371.6,702.4 2372.5,701.8 2372.8,702.9 2373.0,701.8 2373.7,702.6 2374.2,701.3 2374.7,702.5 2374.9,701.1 2375.4,702.7 2376.1,700.7 2376.4,702.3 2376.8,701.7 2377.3,702.5 2378.3,702.2 2378.5,703.2 2378.8,701.6 2379.5,702.7 2380.2,701.4 2380.9,702.6 2381.4,702.1 2381.9,702.9 2382.1,702.2 2382.4,702.9 2382.6,700.9 2383.1,702.6 2383.3,701.9 2383.6,702.7 2384.3,701.4 2384.5,703.0 2385.2,700.8 2385.5,702.2 2386.0,702.6 2386.2,701.4 2386.7,703.4 2386.9,702.8 2387.2,703.5 2387.6,702.8 2387.9,703.1 2388.6,701.5 2389.3,703.2 2389.8,700.8 2390.8,703.7 2391.0,701.6 2391.5,703.3 2392.0,701.5 2392.4,703.2 2393.2,702.2 2393.4,702.8 2393.9,702.4 2394.1,703.3 2394.4,702.0 2394.8,702.8 2395.3,700.8 2395.6,703.3 2396.0,701.8 2396.5,702.7 2396.8,700.9 2397.0,702.6 2397.5,702.7 2397.7,701.5 2398.0,703.7 2399.2,701.7 2400.1,702.8 2401.1,701.7 2401.3,702.9 2402.5,701.7 2403.0,703.1 2403.2,701.0 2403.5,702.7 2403.7,700.7 2404.4,702.7 2404.7,701.5 2405.2,702.2 2405.9,701.0 2406.1,702.6 2406.6,701.0 2407.3,702.4 2407.8,701.6 2408.0,703.0 2408.8,701.4 2409.0,702.5 2409.2,701.9 2409.7,703.1 2410.0,701.9 2410.2,703.0 2410.9,702.0 2411.2,703.2 2411.6,703.3 2412.1,701.6 2412.8,702.5 2413.1,701.6 2413.3,702.5 2413.8,701.6 2415.0,702.3 2415.2,703.0 2415.7,701.4 2416.2,703.5 2416.4,701.6 2417.2,703.2 2417.4,701.2 2418.1,702.6 2418.4,702.2 2419.1,703.2 2420.0,701.9 2420.5,703.6 2420.8,701.8 2421.0,703.4 2421.2,702.2 2422.2,703.2 2422.4,701.5 2422.7,704.0 2423.2,701.7 2424.1,703.2 2424.4,702.1 2424.6,702.6 2425.1,702.0 2425.3,703.6 2426.3,702.1 2426.5,703.2 2427.2,702.6 2427.5,701.5 2428.2,704.0 2428.9,702.1 2429.6,703.3 2430.1,701.0 2430.4,703.6 2430.8,702.4 2431.1,703.1 2431.3,701.7 2431.6,703.4 2431.8,701.4 2432.5,703.8 2433.2,702.1 2433.5,703.1 2433.7,700.3 2434.4,702.5 2434.7,700.3 2434.9,702.5 2435.4,701.0 2435.6,702.5 2436.6,701.0 2437.3,702.8 2437.6,700.4 2438.8,703.0 2439.0,701.7 2439.2,703.0 2439.7,701.9 2440.0,703.5 2440.2,702.5 2440.9,703.3 2441.6,702.5 2441.9,703.5 2442.1,702.5 2442.4,703.4 2442.8,702.0 2443.1,703.0 2443.6,703.1 2444.0,702.1 2444.3,702.8 2444.5,702.2 2444.8,703.5 2445.0,702.3 2445.7,703.2 2446.2,702.4 2446.4,703.4 2446.7,702.1 2447.6,703.7 2447.9,702.2 2448.4,702.7 2449.1,702.2 2449.6,703.3 2449.8,702.0 2450.0,703.3 2450.3,701.2 2450.8,703.3 2451.7,702.3 2452.2,704.0 2452.9,702.0 2453.2,704.0 2453.6,702.0 2453.9,703.6 2454.1,701.6 2454.4,703.2 2454.8,703.0 2455.1,701.6 2456.0,703.8 2456.8,702.8"/></defs>
<use href="#obsb" fill="none" stroke="#ff9a9a" stroke-width="11" stroke-linejoin="round" stroke-linecap="round"/>
<defs><path id="calcb" d="M1495.8,696.7 1513.6,696.7 1517.6,696.0 1518.4,694.8 1518.8,692.4 1520.0,678.9 1521.5,693.0 1522.2,695.6 1523.2,696.3 1527.2,696.8 1540.7,696.9 1559.4,696.9 1564.9,696.5 1566.4,695.8 1567.1,694.1 1569.0,677.7 1570.7,692.0 1571.4,695.1 1572.1,696.1 1574.5,696.8 1579.6,697.0 1593.0,697.0 1598.3,696.6 1600.2,695.3 1600.9,692.6 1602.6,668.4 1604.3,691.4 1604.8,694.2 1605.7,695.9 1607.9,696.7 1612.7,696.9 1618.7,696.5 1622.8,695.7 1624.9,694.7 1626.4,693.4 1628.5,688.6 1630.0,678.6 1630.7,664.1 1631.4,606.4 1632.8,139.6 1634.8,642.8 1635.2,666.7 1636.2,682.0 1637.9,690.5 1639.1,692.9 1641.0,694.9 1645.1,696.4 1652.3,697.2 1691.4,697.6 1703.4,696.8 1706.3,695.6 1708.0,693.9 1709.4,689.1 1710.4,675.7 1712.5,582.5 1715.2,682.0 1715.6,687.7 1716.6,692.3 1718.0,694.5 1720.4,695.6 1723.6,695.3 1725.7,693.6 1726.9,690.4 1727.6,684.9 1728.6,664.8 1730.5,587.5 1731.0,594.0 1732.7,667.4 1733.6,686.0 1734.4,691.0 1735.6,694.1 1737.7,696.0 1741.6,697.2 1753.8,697.8 1758.4,697.6 1760.5,697.0 1762.4,694.2 1765.3,683.8 1766.0,684.9 1768.4,694.5 1769.4,696.3 1770.6,697.3 1775.2,698.0 1784.8,698.0 1789.3,697.5 1792.0,696.2 1793.4,693.5 1794.4,686.8 1796.8,646.3 1797.5,652.8 1799.2,685.0 1800.1,692.8 1800.8,695.1 1802.3,696.7 1804.4,697.6 1808.0,698.1 1835.4,698.5 1840.4,698.1 1843.1,696.9 1844.3,694.5 1845.0,690.1 1847.2,661.9 1849.6,690.8 1850.5,695.6 1852.0,697.4 1856.5,698.4 1867.8,698.7 1876.9,698.4 1881.0,697.3 1882.2,695.8 1883.2,692.8 1886.3,672.1 1887.0,674.1 1889.2,690.7 1890.8,696.3 1892.3,697.6 1894.9,698.2 1899.5,698.2 1902.8,697.6 1905.0,695.8 1906.2,691.8 1909.6,661.8 1910.3,664.6 1912.4,687.8 1913.6,694.3 1914.6,696.4 1915.8,697.5 1921.8,698.8 1937.4,698.9 1941.5,698.5 1943.6,697.7 1944.8,696.2 1945.8,693.7 1948.4,680.8 1949.2,679.1 1950.1,681.1 1952.8,693.8 1954.7,697.1 1956.1,697.3 1957.3,696.4 1960.9,689.6 1961.9,690.6 1964.3,696.3 1966.2,698.3 1969.1,698.7 1973.2,697.1 1976.8,699.0 1980.1,699.5 1998.6,699.5 2000.8,698.8 2004.1,696.2 2008.0,699.0 2010.8,699.6 2020.9,699.5 2025.7,696.8 2029.3,699.1 2031.5,699.7 2036.0,699.5 2040.1,697.3 2044.9,699.7 2053.3,699.8 2055.2,699.5 2056.7,698.7 2060.5,693.4 2061.2,693.8 2064.8,699.0 2066.8,699.7 2070.4,700.0 2076.6,699.5 2080.9,695.8 2085.5,699.7 2092.2,700.3 2102.5,700.1 2107.3,697.3 2111.9,700.0 2117.9,700.5 2127.7,700.3 2132.5,697.9 2136.4,700.0 2139.7,700.6 2148.1,700.6 2152.9,699.4 2157.7,700.6 2165.2,700.7 2167.6,700.2 2170.9,698.6 2174.8,700.4 2177.2,700.8 2188.7,700.9 2193.7,699.7 2198.8,700.9 2210.0,701.0 2213.9,700.6 2217.7,698.5 2222.3,700.8 2228.0,701.2 2243.6,701.2 2248.9,700.1 2253.2,701.2 2258.3,701.4 2268.1,701.4 2272.9,700.4 2277.2,701.4 2282.3,701.6 2298.8,701.6 2304.1,700.9 2310.8,701.7 2327.6,701.8 2332.9,701.0 2338.7,701.9 2361.5,702.1 2368.9,701.3 2376.4,702.2 2399.2,702.3 2404.9,701.7 2410.7,702.4 2429.4,702.5 2436.1,701.9 2441.4,702.6 2456.8,702.7"/></defs>
<use href="#calcb" fill="none" stroke="#2020ff" stroke-width="3.6" stroke-linejoin="round"/>
<use href="#obsb" fill="none" stroke="#ff0000" stroke-width="7.5" stroke-linejoin="round" stroke-linecap="round"/>
<path d="M1628.1,66.8h10v4h-10zM1627.8,83.4h10v4h-10zM1628.3,120.8h10v4h-10zM1627.6,167.2h10v4h-10zM1628.6,229.2h10v4h-10zM1627.4,289.2h10v4h-10zM1628.8,355.3h10v4h-10zM1627.1,402.7h10v4h-10zM1629.0,456.7h10v4h-10zM1626.9,498.2h10v4h-10zM1629.3,540.2h10v4h-10zM1626.6,564.9h10v4h-10zM1629.5,591.0h10v4h-10zM1626.4,606.1h10v4h-10zM1629.8,626.0h10v4h-10zM1630.0,645.4h10v4h-10zM1631.1,63.8h4v10h-4zM1630.8,80.4h4v10h-4zM1631.3,117.8h4v10h-4zM1630.6,164.2h4v10h-4zM1631.6,226.2h4v10h-4zM1630.4,286.2h4v10h-4zM1631.8,352.3h4v10h-4zM1630.1,399.7h4v10h-4zM1632.0,453.7h4v10h-4zM1629.9,495.2h4v10h-4zM1632.3,537.2h4v10h-4zM1629.6,561.9h4v10h-4zM1632.5,588.0h4v10h-4zM1629.4,603.1h4v10h-4zM1632.8,623.0h4v10h-4zM1633.0,642.4h4v10h-4z" fill="#ff5a5a" opacity="0.55"/>
<path d="M1519.1,690.2 1520.0,678.9 1521.2,691.0M1567.6,691.4 1569.0,677.7 1570.7,692.0M1601.2,690.6 1602.6,668.4 1604.3,691.4M1627.1,692.4 1628.8,687.6 1630.0,678.6 1630.7,664.1 1631.2,635.8 1632.8,139.6 1634.8,642.8 1636.0,679.6 1637.2,688.0 1638.8,692.6M1708.4,693.0 1709.6,687.2 1710.4,675.7 1712.5,582.5 1714.7,671.3 1715.6,687.7 1716.8,692.9M1726.2,692.7 1727.4,687.3 1728.4,671.8 1730.5,587.5 1731.0,594.0 1732.9,674.0 1733.6,686.0 1734.8,692.7M1762.9,692.7 1765.3,683.8 1766.0,684.9 1768.0,693.0M1793.4,693.5 1794.6,683.9 1796.8,646.3 1797.5,652.8 1799.2,685.0 1800.1,692.8M1844.5,693.4 1847.2,661.9 1850.0,693.9M1882.9,693.8 1886.3,672.1 1887.0,674.1 1889.9,694.0M1905.7,693.9 1906.9,687.0 1909.6,661.8 1910.3,664.6 1912.4,687.8 1913.6,694.3M1945.6,694.4 1948.4,680.8 1949.2,679.1 1950.1,681.1 1953.0,694.5M1958.5,694.3 1960.9,689.6 1961.9,690.6 1963.3,694.3M2059.1,695.2 2060.5,693.4 2062.0,694.9" fill="none" stroke="#2020ff" stroke-width="3.6" stroke-linejoin="round" opacity="0.3"/>
<use href="#diffb" fill="none" stroke="#0e840e" stroke-width="3.7" stroke-linejoin="round"/>
<path d="M1632.6,692.1 1633.3,615.0 1634.5,689.4" fill="none" stroke="#0d4a2a" stroke-width="3.7" stroke-linejoin="round"/>
<path d="M1517.0,746.8h3.74v19.2h-3.74zM1565.7,746.8h3.74v19.2h-3.74zM1606.8,746.8h3.74v19.2h-3.74zM1629.2,746.8h3.74v19.2h-3.74zM1640.5,746.8h3.74v19.2h-3.74zM1659.2,746.8h3.74v19.2h-3.74zM1662.9,746.8h3.74v19.2h-3.74zM1670.4,746.8h3.74v19.2h-3.74zM1696.6,746.8h3.74v19.2h-3.74zM1707.8,746.8h3.74v19.2h-3.74zM1711.5,746.8h3.74v19.2h-3.74zM1726.5,746.8h3.74v19.2h-3.74zM1730.2,746.8h3.74v19.2h-3.74zM1734.0,746.8h3.74v19.2h-3.74zM1741.4,746.8h3.74v19.2h-3.74zM1748.9,746.8h3.74v19.2h-3.74zM1782.6,746.8h3.74v19.2h-3.74zM1790.1,746.8h3.74v19.2h-3.74zM1793.8,746.8h3.74v19.2h-3.74zM1797.5,746.8h3.74v19.2h-3.74zM1842.4,746.8h3.74v19.2h-3.74zM1846.2,746.8h3.74v19.2h-3.74zM1864.9,746.8h3.74v19.2h-3.74zM1872.3,746.8h3.74v19.2h-3.74zM1894.8,746.8h3.74v19.2h-3.74zM1898.5,746.8h3.74v19.2h-3.74zM1902.3,746.8h3.74v19.2h-3.74zM1906.0,746.8h3.74v19.2h-3.74zM1917.2,746.8h3.74v19.2h-3.74zM1921.0,746.8h3.74v19.2h-3.74zM1935.9,746.8h3.74v19.2h-3.74zM1939.7,746.8h3.74v19.2h-3.74zM1943.4,746.8h3.74v19.2h-3.74zM1954.6,746.8h3.74v19.2h-3.74zM1962.1,746.8h3.74v19.2h-3.74zM1965.8,746.8h3.74v19.2h-3.74zM1969.6,746.8h3.74v19.2h-3.74zM1973.3,746.8h3.74v19.2h-3.74zM1984.5,746.8h3.74v19.2h-3.74zM1992.0,746.8h3.74v19.2h-3.74zM1995.8,746.8h3.74v19.2h-3.74zM2003.2,746.8h3.74v19.2h-3.74zM2021.9,746.8h3.74v19.2h-3.74zM2025.7,746.8h3.74v19.2h-3.74zM2033.2,746.8h3.74v19.2h-3.74zM2048.1,746.8h3.74v19.2h-3.74zM2051.9,746.8h3.74v19.2h-3.74zM2074.3,746.8h3.74v19.2h-3.74zM2078.0,746.8h3.74v19.2h-3.74zM2093.0,746.8h3.74v19.2h-3.74zM2096.7,746.8h3.74v19.2h-3.74zM2119.2,746.8h3.74v19.2h-3.74zM2122.9,746.8h3.74v19.2h-3.74zM2145.4,746.8h3.74v19.2h-3.74zM2152.8,746.8h3.74v19.2h-3.74zM2164.1,746.8h3.74v19.2h-3.74zM2167.8,746.8h3.74v19.2h-3.74zM2175.3,746.8h3.74v19.2h-3.74zM2179.0,746.8h3.74v19.2h-3.74zM2190.2,746.8h3.74v19.2h-3.74zM2194.0,746.8h3.74v19.2h-3.74zM2208.9,746.8h3.74v19.2h-3.74zM2220.2,746.8h3.74v19.2h-3.74zM2231.4,746.8h3.74v19.2h-3.74zM2238.9,746.8h3.74v19.2h-3.74zM2253.8,746.8h3.74v19.2h-3.74zM2268.8,746.8h3.74v19.2h-3.74zM2280.0,746.8h3.74v19.2h-3.74zM2295.0,746.8h3.74v19.2h-3.74zM2302.4,746.8h3.74v19.2h-3.74zM2309.9,746.8h3.74v19.2h-3.74zM2328.6,746.8h3.74v19.2h-3.74zM2358.5,746.8h3.74v19.2h-3.74zM2373.5,746.8h3.74v19.2h-3.74zM2429.6,746.8h3.74v19.2h-3.74zM2455.8,746.8h3.74v19.2h-3.74z" fill="#000" fill-opacity="0.3"/>
<path d="M1599.3,746.8h3.74v19.2h-3.74zM1614.3,746.8h3.74v19.2h-3.74zM1760.1,746.8h3.74v19.2h-3.74zM1786.3,746.8h3.74v19.2h-3.74zM1820.0,746.8h3.74v19.2h-3.74zM1834.9,746.8h3.74v19.2h-3.74zM1861.1,746.8h3.74v19.2h-3.74zM1879.8,746.8h3.74v19.2h-3.74zM1977.1,746.8h3.74v19.2h-3.74zM1999.5,746.8h3.74v19.2h-3.74zM2010.7,746.8h3.74v19.2h-3.74zM2014.5,746.8h3.74v19.2h-3.74zM2044.4,746.8h3.74v19.2h-3.74zM2055.6,746.8h3.74v19.2h-3.74zM2081.8,746.8h3.74v19.2h-3.74zM2089.3,746.8h3.74v19.2h-3.74zM2100.5,746.8h3.74v19.2h-3.74zM2126.7,746.8h3.74v19.2h-3.74zM2130.4,746.8h3.74v19.2h-3.74zM2156.6,746.8h3.74v19.2h-3.74zM2197.7,746.8h3.74v19.2h-3.74zM2227.6,746.8h3.74v19.2h-3.74zM2265.0,746.8h3.74v19.2h-3.74zM2272.5,746.8h3.74v19.2h-3.74zM2283.7,746.8h3.74v19.2h-3.74zM2287.5,746.8h3.74v19.2h-3.74zM2291.2,746.8h3.74v19.2h-3.74zM2298.7,746.8h3.74v19.2h-3.74zM2306.2,746.8h3.74v19.2h-3.74zM2321.1,746.8h3.74v19.2h-3.74zM2336.1,746.8h3.74v19.2h-3.74zM2339.8,746.8h3.74v19.2h-3.74zM2347.3,746.8h3.74v19.2h-3.74zM2351.1,746.8h3.74v19.2h-3.74zM2354.8,746.8h3.74v19.2h-3.74zM2392.2,746.8h3.74v19.2h-3.74z" fill="#000" fill-opacity="0.51"/>
<path d="M1775.1,746.8h3.74v19.2h-3.74zM1812.5,746.8h3.74v19.2h-3.74zM1891.0,746.8h3.74v19.2h-3.74zM1909.7,746.8h3.74v19.2h-3.74zM1924.7,746.8h3.74v19.2h-3.74zM2040.6,746.8h3.74v19.2h-3.74zM2059.3,746.8h3.74v19.2h-3.74zM2066.8,746.8h3.74v19.2h-3.74zM2070.6,746.8h3.74v19.2h-3.74zM2085.5,746.8h3.74v19.2h-3.74zM2108.0,746.8h3.74v19.2h-3.74zM2115.4,746.8h3.74v19.2h-3.74zM2137.9,746.8h3.74v19.2h-3.74zM2141.6,746.8h3.74v19.2h-3.74zM2160.3,746.8h3.74v19.2h-3.74zM2171.5,746.8h3.74v19.2h-3.74zM2212.7,746.8h3.74v19.2h-3.74zM2223.9,746.8h3.74v19.2h-3.74zM2235.1,746.8h3.74v19.2h-3.74zM2257.6,746.8h3.74v19.2h-3.74zM2261.3,746.8h3.74v19.2h-3.74zM2276.3,746.8h3.74v19.2h-3.74zM2313.7,746.8h3.74v19.2h-3.74zM2332.4,746.8h3.74v19.2h-3.74zM2343.6,746.8h3.74v19.2h-3.74zM2366.0,746.8h3.74v19.2h-3.74zM2377.2,746.8h3.74v19.2h-3.74zM2384.7,746.8h3.74v19.2h-3.74zM2388.5,746.8h3.74v19.2h-3.74zM2399.7,746.8h3.74v19.2h-3.74zM2407.2,746.8h3.74v19.2h-3.74zM2414.6,746.8h3.74v19.2h-3.74zM2422.1,746.8h3.74v19.2h-3.74zM2437.1,746.8h3.74v19.2h-3.74zM2444.6,746.8h3.74v19.2h-3.74zM2448.3,746.8h3.74v19.2h-3.74zM2452.0,746.8h3.74v19.2h-3.74z" fill="#000" fill-opacity="0.66"/>
<path d="M2149.1,746.8h3.74v19.2h-3.74zM2246.3,746.8h3.74v19.2h-3.74zM2324.9,746.8h3.74v19.2h-3.74zM2395.9,746.8h3.74v19.2h-3.74zM2403.4,746.8h3.74v19.2h-3.74zM2425.9,746.8h3.74v19.2h-3.74zM2440.8,746.8h3.74v19.2h-3.74z" fill="#000" fill-opacity="0.76"/>
<path d="M1958.4,746.8h3.74v19.2h-3.74zM2186.5,746.8h3.74v19.2h-3.74zM2205.2,746.8h3.74v19.2h-3.74zM2216.4,746.8h3.74v19.2h-3.74zM2250.1,746.8h3.74v19.2h-3.74zM2317.4,746.8h3.74v19.2h-3.74zM2369.8,746.8h3.74v19.2h-3.74zM2381.0,746.8h3.74v19.2h-3.74zM2418.4,746.8h3.74v19.2h-3.74zM2433.3,746.8h3.74v19.2h-3.74z" fill="#000" fill-opacity="0.83"/>
<path d="M2362.3,746.8h3.74v19.2h-3.74z" fill="#000" fill-opacity="0.92"/>
<path d="M1505.8,766.4h3.74v21.6h-3.74zM1532.0,766.4h3.74v21.6h-3.74zM1561.9,766.4h3.74v21.6h-3.74zM1591.8,766.4h3.74v21.6h-3.74zM1595.6,766.4h3.74v21.6h-3.74zM1599.3,766.4h3.74v21.6h-3.74zM1606.8,766.4h3.74v21.6h-3.74zM1629.2,766.4h3.74v21.6h-3.74zM1666.6,766.4h3.74v21.6h-3.74zM1677.9,766.4h3.74v21.6h-3.74zM1685.3,766.4h3.74v21.6h-3.74zM1704.0,766.4h3.74v21.6h-3.74zM1707.8,766.4h3.74v21.6h-3.74zM1726.5,766.4h3.74v21.6h-3.74zM1737.7,766.4h3.74v21.6h-3.74zM1748.9,766.4h3.74v21.6h-3.74zM1756.4,766.4h3.74v21.6h-3.74zM1760.1,766.4h3.74v21.6h-3.74zM1763.9,766.4h3.74v21.6h-3.74zM1771.4,766.4h3.74v21.6h-3.74zM1778.8,766.4h3.74v21.6h-3.74zM1782.6,766.4h3.74v21.6h-3.74zM1790.1,766.4h3.74v21.6h-3.74zM1793.8,766.4h3.74v21.6h-3.74zM1816.2,766.4h3.74v21.6h-3.74zM1827.5,766.4h3.74v21.6h-3.74zM1831.2,766.4h3.74v21.6h-3.74zM1838.7,766.4h3.74v21.6h-3.74zM1842.4,766.4h3.74v21.6h-3.74zM1849.9,766.4h3.74v21.6h-3.74zM1857.4,766.4h3.74v21.6h-3.74zM1879.8,766.4h3.74v21.6h-3.74zM1883.6,766.4h3.74v21.6h-3.74zM1898.5,766.4h3.74v21.6h-3.74zM1902.3,766.4h3.74v21.6h-3.74zM1909.7,766.4h3.74v21.6h-3.74zM1921.0,766.4h3.74v21.6h-3.74zM1924.7,766.4h3.74v21.6h-3.74zM1932.2,766.4h3.74v21.6h-3.74zM1939.7,766.4h3.74v21.6h-3.74zM1943.4,766.4h3.74v21.6h-3.74zM1950.9,766.4h3.74v21.6h-3.74zM1962.1,766.4h3.74v21.6h-3.74zM1969.6,766.4h3.74v21.6h-3.74zM1980.8,766.4h3.74v21.6h-3.74zM1984.5,766.4h3.74v21.6h-3.74zM1988.3,766.4h3.74v21.6h-3.74zM1999.5,766.4h3.74v21.6h-3.74zM2007.0,766.4h3.74v21.6h-3.74zM2014.5,766.4h3.74v21.6h-3.74zM2025.7,766.4h3.74v21.6h-3.74zM2029.4,766.4h3.74v21.6h-3.74zM2055.6,766.4h3.74v21.6h-3.74zM2063.1,766.4h3.74v21.6h-3.74zM2070.6,766.4h3.74v21.6h-3.74zM2089.3,766.4h3.74v21.6h-3.74zM2108.0,766.4h3.74v21.6h-3.74zM2115.4,766.4h3.74v21.6h-3.74zM2119.2,766.4h3.74v21.6h-3.74zM2134.1,766.4h3.74v21.6h-3.74zM2164.1,766.4h3.74v21.6h-3.74zM2171.5,766.4h3.74v21.6h-3.74zM2182.8,766.4h3.74v21.6h-3.74zM2186.5,766.4h3.74v21.6h-3.74zM2208.9,766.4h3.74v21.6h-3.74zM2223.9,766.4h3.74v21.6h-3.74zM2227.6,766.4h3.74v21.6h-3.74zM2265.0,766.4h3.74v21.6h-3.74zM2268.8,766.4h3.74v21.6h-3.74zM2276.3,766.4h3.74v21.6h-3.74zM2295.0,766.4h3.74v21.6h-3.74zM2298.7,766.4h3.74v21.6h-3.74zM2302.4,766.4h3.74v21.6h-3.74zM2343.6,766.4h3.74v21.6h-3.74zM2410.9,766.4h3.74v21.6h-3.74z" fill="#8000ff" fill-opacity="0.35"/>
<path d="M1618.0,766.4h3.74v21.6h-3.74zM1647.9,766.4h3.74v21.6h-3.74zM1730.2,766.4h3.74v21.6h-3.74zM1734.0,766.4h3.74v21.6h-3.74zM1775.1,766.4h3.74v21.6h-3.74zM1786.3,766.4h3.74v21.6h-3.74zM1820.0,766.4h3.74v21.6h-3.74zM1861.1,766.4h3.74v21.6h-3.74zM1876.1,766.4h3.74v21.6h-3.74zM1891.0,766.4h3.74v21.6h-3.74zM1894.8,766.4h3.74v21.6h-3.74zM1906.0,766.4h3.74v21.6h-3.74zM1913.5,766.4h3.74v21.6h-3.74zM1935.9,766.4h3.74v21.6h-3.74zM1954.6,766.4h3.74v21.6h-3.74zM1965.8,766.4h3.74v21.6h-3.74zM2003.2,766.4h3.74v21.6h-3.74zM2051.9,766.4h3.74v21.6h-3.74zM2059.3,766.4h3.74v21.6h-3.74zM2078.0,766.4h3.74v21.6h-3.74zM2093.0,766.4h3.74v21.6h-3.74zM2096.7,766.4h3.74v21.6h-3.74zM2100.5,766.4h3.74v21.6h-3.74zM2104.2,766.4h3.74v21.6h-3.74zM2111.7,766.4h3.74v21.6h-3.74zM2122.9,766.4h3.74v21.6h-3.74zM2126.7,766.4h3.74v21.6h-3.74zM2130.4,766.4h3.74v21.6h-3.74zM2137.9,766.4h3.74v21.6h-3.74zM2145.4,766.4h3.74v21.6h-3.74zM2160.3,766.4h3.74v21.6h-3.74zM2175.3,766.4h3.74v21.6h-3.74zM2179.0,766.4h3.74v21.6h-3.74zM2194.0,766.4h3.74v21.6h-3.74zM2216.4,766.4h3.74v21.6h-3.74zM2220.2,766.4h3.74v21.6h-3.74zM2235.1,766.4h3.74v21.6h-3.74zM2238.9,766.4h3.74v21.6h-3.74zM2250.1,766.4h3.74v21.6h-3.74zM2287.5,766.4h3.74v21.6h-3.74zM2306.2,766.4h3.74v21.6h-3.74zM2317.4,766.4h3.74v21.6h-3.74zM2321.1,766.4h3.74v21.6h-3.74zM2328.6,766.4h3.74v21.6h-3.74zM2354.8,766.4h3.74v21.6h-3.74zM2358.5,766.4h3.74v21.6h-3.74zM2369.8,766.4h3.74v21.6h-3.74zM2395.9,766.4h3.74v21.6h-3.74zM2418.4,766.4h3.74v21.6h-3.74z" fill="#8000ff" fill-opacity="0.58"/>
<path d="M1805.0,766.4h3.74v21.6h-3.74zM1958.4,766.4h3.74v21.6h-3.74zM1973.3,766.4h3.74v21.6h-3.74zM1992.0,766.4h3.74v21.6h-3.74zM2040.6,766.4h3.74v21.6h-3.74zM2044.4,766.4h3.74v21.6h-3.74zM2048.1,766.4h3.74v21.6h-3.74zM2066.8,766.4h3.74v21.6h-3.74zM2149.1,766.4h3.74v21.6h-3.74zM2152.8,766.4h3.74v21.6h-3.74zM2190.2,766.4h3.74v21.6h-3.74zM2201.5,766.4h3.74v21.6h-3.74zM2257.6,766.4h3.74v21.6h-3.74zM2261.3,766.4h3.74v21.6h-3.74zM2272.5,766.4h3.74v21.6h-3.74zM2309.9,766.4h3.74v21.6h-3.74zM2313.7,766.4h3.74v21.6h-3.74zM2332.4,766.4h3.74v21.6h-3.74zM2339.8,766.4h3.74v21.6h-3.74zM2347.3,766.4h3.74v21.6h-3.74zM2351.1,766.4h3.74v21.6h-3.74zM2377.2,766.4h3.74v21.6h-3.74zM2388.5,766.4h3.74v21.6h-3.74zM2407.2,766.4h3.74v21.6h-3.74zM2414.6,766.4h3.74v21.6h-3.74zM2422.1,766.4h3.74v21.6h-3.74zM2429.6,766.4h3.74v21.6h-3.74zM2444.6,766.4h3.74v21.6h-3.74zM2452.0,766.4h3.74v21.6h-3.74z" fill="#8000ff" fill-opacity="0.73"/>
<path d="M2021.9,766.4h3.74v21.6h-3.74zM2074.3,766.4h3.74v21.6h-3.74zM2081.8,766.4h3.74v21.6h-3.74zM2141.6,766.4h3.74v21.6h-3.74zM2167.8,766.4h3.74v21.6h-3.74zM2205.2,766.4h3.74v21.6h-3.74zM2212.7,766.4h3.74v21.6h-3.74zM2324.9,766.4h3.74v21.6h-3.74zM2336.1,766.4h3.74v21.6h-3.74zM2362.3,766.4h3.74v21.6h-3.74zM2373.5,766.4h3.74v21.6h-3.74zM2384.7,766.4h3.74v21.6h-3.74zM2392.2,766.4h3.74v21.6h-3.74zM2399.7,766.4h3.74v21.6h-3.74zM2433.3,766.4h3.74v21.6h-3.74zM2437.1,766.4h3.74v21.6h-3.74zM2440.8,766.4h3.74v21.6h-3.74zM2448.3,766.4h3.74v21.6h-3.74z" fill="#8000ff" fill-opacity="0.82"/>
<path d="M2231.4,766.4h3.74v21.6h-3.74zM2246.3,766.4h3.74v21.6h-3.74zM2253.8,766.4h3.74v21.6h-3.74zM2280.0,766.4h3.74v21.6h-3.74zM2291.2,766.4h3.74v21.6h-3.74zM2381.0,766.4h3.74v21.6h-3.74zM2403.4,766.4h3.74v21.6h-3.74zM2425.9,766.4h3.74v21.6h-3.74z" fill="#8000ff" fill-opacity="0.88"/>
<path d="M2366.0,766.4h3.74v21.6h-3.74z" fill="#8000ff" fill-opacity="0.92"/>
</g>
<clipPath id="clipc"><rect x="202.7" y="1043.2" width="959.7" height="773.0999999999999"/></clipPath>
<g clip-path="url(#clipc)">
<defs><path id="diffc" d="M203.9,1738.8 204.1,1739.7 204.4,1739.1 205.3,1739.6 205.8,1739.4 206.1,1738.5 206.3,1739.2 207.3,1739.4 208.9,1738.9 209.4,1739.3 210.1,1738.8 211.1,1739.4 212.3,1739.1 212.5,1739.8 212.8,1739.0 213.3,1739.6 214.9,1738.9 216.1,1739.4 217.3,1739.2 217.6,1739.8 217.8,1739.1 218.3,1739.6 219.0,1739.1 219.3,1739.7 220.0,1739.0 220.2,1739.7 221.2,1739.0 221.4,1739.6 222.1,1739.1 222.9,1739.8 223.1,1739.2 223.8,1739.5 225.0,1742.1 226.2,1753.7 227.4,1741.4 228.1,1739.9 229.8,1739.4 230.1,1738.9 230.8,1739.8 231.5,1739.2 231.7,1739.8 232.0,1739.1 232.5,1739.5 233.7,1738.8 233.9,1739.3 234.6,1738.9 235.8,1739.4 236.1,1738.9 237.5,1739.4 238.0,1738.7 238.9,1739.5 239.4,1739.0 240.6,1739.5 243.5,1738.9 243.7,1739.6 244.0,1739.0 245.7,1738.9 246.6,1739.3 246.9,1738.8 247.8,1739.3 249.3,1738.9 249.5,1739.3 249.7,1739.0 250.7,1739.4 251.9,1738.9 252.9,1739.5 253.1,1739.0 253.3,1739.6 254.1,1739.0 254.5,1739.4 256.5,1739.2 256.7,1739.6 257.7,1738.9 257.9,1739.6 258.9,1739.1 259.3,1739.6 260.5,1739.1 261.7,1739.3 262.0,1738.8 262.5,1739.4 263.2,1738.7 263.4,1739.2 264.1,1739.2 264.4,1738.7 264.6,1739.3 265.3,1739.1 265.6,1739.4 265.8,1738.8 266.5,1739.4 267.7,1739.0 269.9,1739.3 270.4,1738.8 270.6,1739.3 271.3,1739.0 271.6,1739.6 272.5,1739.0 273.5,1740.0 274.0,1739.7 274.2,1740.6 274.5,1740.0 274.7,1740.7 275.4,1740.2 275.9,1738.0 276.6,1737.8 277.1,1738.8 278.3,1738.7 278.8,1739.4 279.5,1739.0 282.1,1739.4 282.9,1738.6 283.3,1739.3 284.3,1739.0 284.8,1739.8 285.5,1738.9 286.0,1739.4 286.2,1738.9 286.5,1739.4 286.9,1738.9 288.1,1739.4 288.9,1738.7 289.3,1739.4 290.5,1739.0 291.3,1739.7 291.7,1738.9 292.5,1739.4 292.7,1739.1 294.1,1739.3 294.4,1738.8 295.1,1739.3 296.5,1738.9 297.3,1739.6 297.7,1739.0 298.9,1739.4 299.2,1738.9 299.9,1739.5 300.4,1738.9 300.9,1739.4 301.3,1738.9 302.8,1739.4 303.5,1738.8 303.7,1739.7 304.2,1739.0 307.8,1739.6 308.8,1740.5 310.2,1744.1 311.4,1740.1 312.1,1739.2 312.4,1739.5 313.6,1739.0 315.3,1739.4 316.2,1738.7 316.9,1739.7 317.9,1739.0 318.1,1739.5 319.3,1738.9 319.8,1739.5 320.1,1739.0 320.5,1739.4 322.0,1738.8 323.4,1739.4 324.1,1738.8 326.1,1739.2 327.0,1738.7 327.3,1739.2 328.0,1738.9 328.2,1739.3 328.9,1738.9 329.7,1739.2 330.1,1738.7 332.3,1739.2 332.8,1738.5 333.0,1738.9 333.7,1738.6 334.0,1739.1 334.2,1738.3 334.5,1738.8 334.7,1738.3 335.2,1738.6 335.7,1738.2 336.6,1738.6 336.9,1737.6 337.3,1737.7 337.6,1737.2 337.8,1737.8 338.3,1736.9 339.3,1742.5 340.0,1721.9 340.9,1631.6 342.4,1723.2 343.1,1734.5 344.3,1737.1 344.5,1737.4 344.8,1737.1 345.0,1737.9 345.3,1737.5 345.5,1738.0 346.5,1738.1 346.7,1738.6 347.7,1738.3 349.1,1739.0 349.3,1738.6 350.1,1739.2 350.5,1738.8 350.8,1739.3 351.0,1738.7 351.7,1738.9 352.0,1738.5 353.4,1739.5 353.7,1738.9 355.1,1739.2 356.1,1738.8 356.5,1739.2 356.8,1738.8 357.0,1739.3 357.3,1738.9 358.0,1739.4 358.5,1738.9 359.7,1739.4 361.6,1738.8 363.3,1739.6 364.0,1738.8 364.9,1739.3 365.9,1738.6 366.9,1739.2 367.3,1738.8 368.1,1739.5 368.5,1739.0 370.5,1739.4 370.7,1738.8 371.7,1739.6 372.6,1738.9 373.1,1739.6 373.6,1739.1 374.3,1739.5 374.5,1739.1 375.3,1739.5 375.5,1738.8 375.7,1739.8 376.2,1738.8 376.9,1739.4 377.2,1738.9 377.4,1739.4 378.4,1739.0 378.6,1739.5 379.8,1739.0 382.0,1739.4 382.2,1739.0 382.5,1739.4 382.9,1738.9 383.2,1739.4 384.1,1739.5 385.1,1738.9 386.5,1739.6 387.0,1738.9 388.5,1739.4 389.2,1738.8 390.4,1739.5 390.9,1739.1 391.8,1739.5 392.1,1738.9 392.5,1739.5 392.8,1739.2 394.5,1739.2 394.9,1739.8 395.9,1739.1 396.9,1739.0 397.1,1739.4 398.1,1738.9 398.3,1739.4 398.5,1739.0 398.8,1739.4 399.5,1739.1 400.2,1739.4 400.7,1738.8 400.9,1739.2 401.7,1738.8 402.1,1739.5 402.4,1738.9 403.3,1739.6 404.1,1738.9 404.5,1739.6 405.3,1739.6 406.9,1738.9 407.7,1739.4 408.4,1739.1 408.6,1739.5 409.3,1739.2 409.6,1739.6 411.3,1739.0 412.0,1739.8 412.5,1739.1 413.4,1739.8 413.7,1739.3 414.4,1739.9 415.1,1739.5 415.8,1740.0 416.1,1739.7 417.0,1741.0 417.3,1740.7 418.0,1743.2 419.9,1758.1 420.4,1757.0 421.3,1744.8 422.3,1739.7 422.8,1740.1 424.0,1739.1 424.7,1739.6 424.9,1739.3 425.4,1740.1 426.1,1738.9 426.9,1739.5 429.0,1738.7 429.3,1739.4 429.5,1738.4 430.2,1739.1 431.2,1738.6 431.7,1739.0 432.1,1738.4 433.6,1738.5 433.8,1737.6 434.1,1738.1 434.5,1737.7 435.7,1733.3 437.4,1713.7 438.1,1715.4 439.6,1731.7 440.8,1737.3 441.7,1737.8 442.0,1738.6 442.2,1737.5 442.5,1738.5 443.2,1738.3 443.7,1739.3 444.1,1738.5 444.9,1739.3 445.1,1738.6 446.3,1739.2 447.3,1738.7 448.5,1739.3 448.7,1738.8 449.7,1739.3 450.6,1739.0 451.1,1739.5 452.8,1738.8 455.4,1739.5 455.9,1738.9 456.6,1739.5 456.9,1739.0 457.3,1739.4 458.1,1738.9 459.0,1739.4 459.7,1739.0 460.2,1739.5 460.9,1738.9 461.4,1739.5 462.1,1739.2 462.4,1739.6 463.6,1738.9 465.0,1739.3 465.3,1738.9 465.7,1739.3 467.4,1739.0 467.9,1739.5 468.4,1738.9 468.9,1739.7 469.8,1739.2 470.5,1739.6 471.0,1739.0 471.3,1739.6 471.5,1739.2 472.5,1739.9 473.4,1739.3 474.4,1739.6 474.9,1738.8 475.3,1739.2 477.3,1738.6 477.7,1739.5 478.2,1738.7 479.4,1739.4 480.4,1738.8 480.6,1739.5 481.1,1739.0 481.8,1739.5 482.3,1738.9 483.7,1739.4 485.2,1738.8 485.7,1739.5 485.9,1739.0 487.6,1739.1 487.8,1739.5 488.8,1739.1 490.0,1739.6 491.7,1738.9 492.9,1739.4 495.3,1739.2 495.5,1739.7 496.0,1739.1 496.9,1739.6 497.9,1739.3 498.1,1739.7 498.4,1739.3 498.6,1739.9 499.3,1739.4 499.8,1740.2 500.1,1739.7 501.3,1740.8 501.7,1742.1 502.0,1741.8 503.7,1749.2 504.1,1749.9 506.5,1740.8 507.3,1740.0 508.2,1740.1 508.5,1739.4 508.7,1739.8 509.2,1739.2 510.4,1739.6 511.8,1739.0 512.3,1739.7 512.5,1739.1 513.0,1739.6 513.3,1739.2 514.5,1739.5 514.9,1739.0 515.4,1739.6 516.1,1738.9 518.5,1739.5 520.0,1738.9 520.5,1739.4 521.7,1738.7 522.4,1739.4 522.9,1738.9 523.3,1739.5 524.1,1739.1 526.2,1739.1 526.5,1739.5 527.2,1739.0 529.6,1739.6 529.8,1739.1 530.5,1739.4 531.3,1739.0 531.5,1739.5 531.7,1739.0 534.1,1739.4 535.3,1738.9 535.8,1739.4 536.1,1739.1 537.3,1739.2 537.5,1738.7 537.7,1739.2 538.9,1739.1 539.2,1739.7 539.4,1738.9 539.7,1739.4 540.1,1739.1 541.6,1739.5 542.8,1739.0 543.3,1739.3 543.7,1738.9 545.9,1739.4 547.6,1739.1 547.8,1739.5 548.5,1738.9 548.8,1739.5 549.3,1739.1 549.5,1739.6 551.9,1739.3 552.6,1740.5 552.9,1740.2 553.8,1741.3 556.0,1737.1 557.4,1739.1 558.1,1739.1 558.4,1738.6 558.9,1739.3 559.3,1738.8 559.6,1739.3 560.3,1738.9 560.8,1739.3 562.0,1738.8 562.2,1739.2 563.7,1739.0 564.1,1739.4 565.1,1739.0 565.6,1739.7 566.1,1739.0 566.5,1739.3 566.8,1738.9 567.0,1739.4 568.7,1738.9 568.9,1739.3 569.4,1738.9 570.1,1739.3 572.5,1739.0 573.0,1739.5 573.3,1738.9 574.9,1739.5 575.9,1738.8 576.9,1739.4 577.6,1738.9 578.5,1739.5 579.0,1738.9 581.9,1739.4 582.6,1738.9 584.1,1739.5 584.3,1739.2 586.2,1739.5 586.9,1739.0 587.9,1739.6 588.6,1738.9 588.9,1739.8 589.8,1739.3 590.8,1740.0 591.5,1739.6 591.7,1740.4 592.2,1739.9 592.9,1740.5 593.7,1739.2 593.9,1739.6 594.1,1739.0 594.4,1739.3 594.9,1738.1 596.1,1737.3 596.3,1738.5 596.5,1737.7 597.7,1739.0 598.7,1738.8 599.7,1739.5 600.6,1738.8 601.3,1739.7 601.6,1739.1 602.5,1739.4 603.0,1738.8 604.2,1739.1 604.5,1738.7 605.7,1739.7 606.1,1738.9 607.3,1739.4 607.6,1738.8 608.3,1739.8 608.5,1738.9 609.3,1739.4 610.5,1738.8 610.9,1739.3 611.4,1739.0 612.4,1739.5 612.9,1739.0 613.1,1739.7 613.6,1739.4 614.3,1740.3 615.7,1740.4 616.0,1741.1 616.2,1739.6 616.7,1740.3 618.1,1738.1 618.4,1738.4 619.3,1737.8 619.8,1738.7 620.1,1738.4 620.8,1738.7 621.0,1738.3 621.3,1738.9 622.0,1738.8 622.7,1739.4 623.2,1739.0 623.4,1739.5 624.1,1739.0 624.4,1739.4 624.9,1739.0 626.5,1739.5 627.0,1739.0 627.7,1739.3 628.0,1738.9 628.2,1739.4 628.5,1738.8 629.2,1739.4 631.1,1738.9 631.3,1739.4 632.1,1739.1 632.5,1739.5 633.0,1738.9 633.5,1739.5 634.0,1739.0 634.9,1739.5 635.4,1738.8 635.9,1739.5 636.9,1739.1 638.1,1739.6 639.5,1739.1 639.7,1739.4 640.2,1738.8 642.1,1739.4 642.6,1739.0 642.9,1739.4 643.3,1739.2 644.3,1739.6 645.0,1738.8 645.5,1739.3 646.2,1738.9 646.9,1739.5 647.9,1738.9 648.1,1739.6 649.1,1738.9 649.3,1739.5 650.8,1739.0 651.0,1739.5 651.7,1738.9 652.2,1739.6 652.9,1739.7 653.4,1739.2 654.4,1740.0 654.6,1739.4 654.9,1740.3 655.1,1739.7 655.8,1740.2 656.5,1738.5 656.8,1739.6 657.5,1738.7 658.0,1739.3 658.2,1738.2 658.9,1738.8 660.1,1738.5 660.4,1739.0 660.9,1738.7 662.1,1739.3 662.5,1738.7 663.0,1739.3 664.0,1739.6 664.7,1739.1 664.9,1739.6 665.2,1738.9 665.4,1739.5 666.4,1739.3 666.9,1740.0 667.8,1739.4 669.3,1740.0 669.5,1739.3 669.7,1739.7 670.5,1738.7 671.2,1738.9 671.7,1738.4 672.1,1738.8 672.6,1738.5 672.9,1739.3 673.6,1738.6 674.3,1739.3 675.0,1738.7 675.3,1739.4 675.7,1738.3 676.7,1739.7 676.9,1738.8 677.4,1739.4 677.7,1738.9 678.1,1739.3 678.4,1739.0 679.6,1739.4 680.1,1738.8 681.3,1739.3 681.5,1738.7 682.5,1739.4 682.7,1738.8 683.2,1739.3 684.4,1739.1 684.9,1739.5 685.1,1739.0 685.6,1739.4 686.3,1738.8 686.5,1739.4 688.0,1739.1 688.5,1739.6 689.9,1739.0 691.6,1739.3 693.3,1738.8 693.5,1739.2 696.9,1738.9 697.1,1739.4 698.1,1739.4 698.3,1739.0 698.8,1739.4 699.0,1738.8 699.3,1739.4 700.2,1739.1 701.2,1739.4 701.4,1739.0 702.9,1739.3 703.1,1738.9 703.3,1739.7 705.3,1738.9 706.9,1739.4 707.4,1739.0 707.7,1739.6 708.4,1738.9 709.3,1739.5 709.8,1738.9 710.1,1739.4 710.3,1738.8 711.0,1739.3 711.3,1738.9 712.0,1739.2 712.5,1738.8 713.2,1739.2 713.9,1739.1 714.1,1738.5 715.1,1739.4 715.6,1739.0 716.8,1739.3 717.0,1738.8 717.7,1739.4 718.0,1738.8 719.2,1739.3 719.4,1738.8 720.4,1739.7 721.3,1738.8 721.6,1739.3 723.3,1738.9 724.5,1739.3 725.4,1738.9 726.1,1739.4 726.6,1738.9 726.9,1739.4 728.3,1739.1 728.5,1739.4 729.5,1738.9 730.7,1738.9 731.2,1739.4 731.4,1738.9 733.8,1739.3 734.1,1738.7 735.0,1739.7 735.7,1738.9 736.0,1739.6 736.5,1738.8 738.4,1739.4 738.6,1738.9 738.9,1739.5 739.3,1738.6 740.1,1739.4 741.3,1738.8 742.0,1739.3 742.2,1738.9 742.9,1739.2 743.4,1738.9 745.8,1739.3 746.1,1738.8 746.8,1739.6 748.0,1739.0 748.7,1739.5 748.9,1738.8 749.7,1739.3 750.9,1739.2 751.1,1738.8 751.3,1739.6 751.8,1739.0 752.5,1739.5 752.8,1738.9 753.0,1739.6 754.0,1738.9 754.9,1739.5 755.2,1739.0 756.9,1739.4 757.1,1739.0 757.6,1739.7 758.5,1738.7 759.0,1739.5 760.0,1738.9 760.5,1739.3 761.7,1739.0 762.1,1739.4 763.3,1738.8 764.3,1739.6 765.5,1738.7 766.9,1738.9 767.2,1738.2 768.4,1739.2 768.9,1738.6 769.1,1739.3 769.8,1738.7 770.1,1739.3 770.8,1738.8 772.0,1739.3 772.2,1738.7 773.2,1739.5 774.1,1738.8 774.9,1739.4 775.3,1739.1 775.6,1739.6 776.3,1738.7 776.5,1739.4 778.5,1738.9 778.9,1739.5 779.9,1738.9 781.8,1739.5 782.8,1739.3 783.0,1738.7 783.5,1739.3 784.0,1738.9 784.2,1739.7 784.7,1739.0 785.4,1739.3 786.9,1738.7 788.3,1739.4 788.8,1739.0 789.3,1739.1 789.5,1738.4 790.2,1739.2 790.5,1738.8 790.7,1739.3 791.4,1738.9 792.1,1739.6 792.6,1739.0 793.1,1739.6 793.3,1739.1 794.1,1739.4 795.3,1739.0 795.7,1739.5 796.2,1738.8 796.5,1739.4 798.4,1739.0 798.6,1739.5 798.9,1739.1 799.8,1739.4 800.1,1739.0 800.5,1739.5 802.2,1738.8 802.5,1739.5 803.4,1738.8 803.7,1739.3 804.9,1739.5 805.3,1739.1 805.6,1739.4 805.8,1739.1 806.5,1739.7 806.8,1739.0 807.7,1739.5 808.5,1739.1 809.2,1739.5 809.4,1739.1 809.7,1739.5 810.1,1739.0 810.4,1739.4 812.1,1738.7 812.8,1739.4 814.0,1738.8 814.9,1738.8 815.2,1739.3 816.6,1738.7 817.1,1739.5 818.3,1738.8 819.3,1739.6 819.5,1738.9 820.2,1739.5 820.7,1739.1 821.4,1739.3 821.7,1738.8 822.1,1739.5 823.8,1739.2 824.1,1739.5 824.3,1738.8 824.8,1739.6 825.7,1738.9 826.0,1739.6 826.7,1739.1 826.9,1739.4 827.7,1739.1 827.9,1739.5 828.9,1739.0 829.6,1739.3 829.8,1738.9 831.0,1739.4 831.3,1739.1 832.7,1739.4 832.9,1738.9 833.2,1739.4 833.7,1739.0 834.1,1739.6 836.3,1738.9 836.5,1739.5 836.8,1738.7 837.5,1739.5 838.2,1738.8 839.4,1739.3 840.1,1738.9 840.6,1739.4 842.1,1738.7 842.3,1739.2 844.0,1739.0 844.5,1739.4 845.7,1738.8 846.4,1739.6 846.9,1739.1 847.8,1739.5 848.3,1738.8 848.5,1739.4 848.8,1738.9 849.3,1739.5 850.5,1738.9 851.7,1739.6 852.4,1739.1 852.6,1739.6 853.1,1738.9 853.3,1739.6 854.1,1739.1 854.8,1739.5 855.0,1738.9 856.2,1739.5 858.1,1738.8 858.4,1739.3 860.5,1739.1 860.8,1739.6 861.0,1738.9 862.2,1739.5 862.7,1738.9 863.4,1739.3 864.1,1738.9 864.9,1739.6 865.1,1738.9 865.3,1739.5 866.1,1738.6 866.3,1739.2 867.3,1738.9 868.0,1739.6 868.7,1738.9 868.9,1739.5 869.7,1739.4 869.9,1738.9 871.3,1739.3 871.6,1738.8 873.0,1739.5 874.0,1738.9 874.2,1739.5 874.5,1739.1 874.9,1739.4 875.4,1738.8 876.1,1739.4 876.4,1738.7 876.9,1739.0 877.1,1738.6 877.6,1739.5 878.3,1738.6 878.5,1739.4 878.8,1739.0 881.9,1739.2 882.1,1738.8 882.6,1739.4 882.9,1739.0 883.1,1739.3 884.3,1739.0 885.5,1739.5 886.5,1739.0 887.4,1739.5 888.4,1739.1 888.9,1739.7 889.1,1739.0 890.3,1738.7 890.5,1739.1 892.7,1739.4 893.4,1738.9 894.1,1739.4 895.6,1738.8 896.5,1739.2 896.8,1738.8 897.5,1739.6 898.0,1739.1 898.9,1739.3 899.9,1738.8 901.3,1739.5 901.6,1738.8 903.0,1739.4 903.7,1738.8 905.9,1739.5 906.6,1738.9 908.1,1739.5 908.3,1739.1 910.2,1739.4 910.5,1739.0 911.2,1739.6 911.7,1738.8 912.6,1739.7 913.1,1739.0 913.6,1739.6 913.8,1739.0 915.0,1739.4 916.7,1739.0 916.9,1739.7 917.4,1739.0 918.4,1739.4 918.9,1738.9 920.1,1739.1 920.5,1738.8 921.3,1739.3 922.0,1739.0 922.2,1739.5 922.5,1739.1 923.2,1739.2 923.4,1738.6 923.9,1739.4 924.4,1738.9 925.8,1739.3 926.1,1739.0 926.3,1739.7 926.8,1738.9 927.3,1739.4 927.5,1738.8 928.2,1739.3 929.4,1739.1 929.9,1739.6 930.4,1739.2 930.9,1739.7 931.1,1738.9 933.7,1739.6 935.9,1738.9 936.6,1739.0 936.9,1739.6 937.3,1738.8 937.6,1739.5 938.3,1738.9 939.0,1739.4 939.5,1739.0 941.2,1739.4 941.4,1739.1 941.7,1739.4 942.6,1738.7 942.9,1739.4 943.8,1739.5 944.3,1739.0 946.9,1739.3 947.2,1738.9 948.4,1739.5 949.6,1739.1 949.8,1738.6 950.8,1739.5 951.3,1738.8 951.5,1739.4 952.0,1739.0 952.5,1739.7 952.7,1739.0 953.4,1739.4 953.9,1738.9 955.1,1739.3 955.8,1738.9 956.3,1739.4 956.5,1738.8 958.0,1739.4 958.9,1739.0 959.2,1739.5 959.4,1739.1 961.6,1738.9 963.3,1739.5 964.9,1738.9 965.7,1739.3 966.6,1738.9 966.9,1739.3 967.3,1738.9 968.3,1739.3 968.8,1738.9 969.7,1739.4 970.0,1738.7 970.2,1739.3 971.7,1738.9 971.9,1739.3 972.6,1739.0 973.6,1739.5 974.8,1739.0 975.0,1739.4 976.5,1739.1 977.4,1739.4 978.1,1738.8 978.4,1739.4 980.3,1739.1 980.5,1739.5 980.8,1739.0 981.0,1739.6 981.3,1738.8 981.7,1739.3 983.4,1739.1 984.4,1739.5 984.6,1738.9 985.8,1739.6 986.5,1738.9 987.7,1739.4 989.2,1738.8 989.7,1739.3 990.4,1739.0 991.1,1739.5 992.5,1738.9 992.8,1739.4 994.5,1738.9 996.6,1739.5 998.1,1738.9 999.5,1739.6 1000.7,1738.9 1001.7,1739.5 1003.1,1739.0 1006.0,1739.5 1006.9,1739.0 1007.9,1739.4 1008.1,1738.8 1008.4,1739.3 1010.3,1738.9 1012.0,1739.5 1012.5,1739.1 1013.9,1739.3 1014.1,1738.7 1014.4,1739.4 1015.3,1739.0 1015.8,1739.3 1016.1,1738.8 1017.0,1739.5 1017.5,1738.9 1018.5,1739.6 1018.7,1738.9 1018.9,1739.5 1019.7,1739.0 1020.9,1739.6 1021.8,1739.0 1022.1,1739.7 1022.3,1739.1 1023.3,1739.4 1024.2,1738.9 1024.7,1739.4 1024.9,1739.0 1025.2,1739.7 1025.9,1738.8 1026.6,1739.4 1028.1,1739.1 1028.5,1739.4 1029.0,1739.0 1029.3,1739.4 1029.5,1738.9 1030.7,1739.4 1032.4,1738.9 1032.6,1739.3 1033.6,1738.9 1034.1,1739.6 1034.8,1738.9 1035.0,1739.3 1036.7,1739.2 1036.9,1738.8 1037.4,1739.6 1038.4,1738.7 1038.9,1739.4 1039.6,1738.9 1039.8,1739.3 1041.0,1738.8 1041.3,1739.5 1041.7,1739.0 1042.2,1739.4 1043.4,1738.9 1046.3,1739.3 1046.8,1738.9 1047.3,1739.5 1047.5,1739.1 1050.6,1739.4 1051.8,1739.0 1052.8,1739.5 1054.0,1738.8 1054.7,1739.6 1055.7,1739.0 1056.4,1739.7 1056.6,1739.1 1057.3,1739.3 1058.3,1738.8 1058.8,1739.5 1059.3,1739.0 1060.7,1739.6 1061.4,1739.0 1062.1,1739.5 1062.9,1738.7 1063.1,1739.4 1063.6,1739.0 1065.3,1739.4 1065.5,1739.0 1066.2,1739.4 1067.7,1739.0 1067.9,1739.5 1068.6,1738.8 1069.6,1739.4 1071.7,1738.9 1072.0,1739.4 1072.7,1739.0 1073.7,1739.5 1073.9,1739.0 1074.1,1739.5 1074.6,1738.9 1075.1,1739.5 1076.1,1738.8 1076.5,1739.4 1077.0,1739.0 1077.7,1739.5 1079.2,1739.0 1079.4,1739.5 1079.9,1738.9 1081.3,1739.5 1081.6,1739.1 1082.3,1739.7 1082.5,1739.0 1084.0,1739.5 1084.2,1738.7 1084.5,1739.7 1086.1,1738.8 1086.4,1739.3 1086.9,1738.9 1087.1,1739.4 1087.6,1739.0 1088.1,1739.5 1088.5,1738.9 1088.8,1739.3 1089.5,1739.3 1089.7,1738.9 1091.7,1739.3 1091.9,1739.0 1092.1,1739.4 1093.1,1739.4 1093.6,1739.1 1094.1,1739.4 1094.3,1738.9 1094.5,1739.5 1094.8,1739.0 1095.3,1739.5 1096.0,1739.0 1096.9,1739.5 1099.8,1738.9 1100.5,1739.5 1101.5,1738.9 1102.7,1739.5 1103.7,1739.2 1103.9,1739.7 1104.4,1739.1 1104.6,1739.7 1106.5,1739.0 1110.9,1739.4 1112.1,1738.9 1115.4,1739.5 1116.6,1738.8 1120.0,1739.4 1120.2,1739.0 1122.4,1739.3 1123.3,1738.7 1124.1,1739.5 1124.5,1739.1 1125.7,1739.5 1126.0,1739.0 1127.2,1739.3 1128.1,1738.9 1128.6,1739.7 1129.3,1739.1 1130.5,1739.3 1131.7,1738.8 1132.7,1739.4 1134.4,1739.0 1134.6,1739.4 1135.8,1738.8 1138.0,1739.5 1138.2,1738.7 1138.7,1739.6 1138.9,1739.1 1139.4,1739.6 1140.4,1739.0 1140.6,1739.3 1142.1,1738.9 1142.5,1739.4 1142.8,1738.8 1144.0,1739.3 1146.4,1739.0 1146.9,1739.6 1147.1,1739.1 1148.1,1739.3 1148.3,1739.0 1149.7,1739.4 1150.7,1739.0 1151.4,1739.4 1151.9,1738.8 1152.4,1739.3 1152.9,1738.9 1153.3,1739.4 1154.5,1738.7 1155.5,1739.3 1156.0,1738.9 1159.3,1739.0 1159.6,1739.3 1159.8,1738.9 1161.0,1739.4"/></defs>
<use href="#diffc" fill="none" stroke="#b5dcb5" stroke-width="7.5" stroke-linejoin="round"/>
<defs><path id="obsc" d="M203.9,1724.7 204.1,1728.5 204.4,1726.0 204.6,1726.8 205.1,1726.5 205.3,1728.0 205.6,1726.6 205.8,1727.1 206.1,1723.6 206.3,1726.2 207.3,1727.2 208.2,1725.6 208.7,1726.4 208.9,1725.1 209.4,1726.8 210.1,1724.8 210.4,1726.6 210.9,1725.6 211.1,1727.1 211.6,1725.7 212.1,1726.3 212.3,1725.8 212.5,1728.7 212.8,1725.5 213.3,1727.7 213.5,1726.1 213.7,1725.8 214.2,1727.3 214.9,1725.2 215.4,1726.2 215.7,1725.5 216.1,1727.1 216.4,1725.9 217.1,1727.0 217.3,1726.2 217.6,1728.4 217.8,1725.8 218.3,1727.7 219.0,1725.7 219.3,1728.0 220.0,1725.4 220.2,1728.1 221.2,1725.0 221.4,1727.3 221.7,1726.0 221.9,1727.1 222.1,1725.1 222.9,1727.6 223.1,1724.7 223.3,1725.5 223.8,1725.0 224.3,1726.3 224.8,1725.8 225.0,1723.1 225.3,1724.4 226.2,1712.9 227.9,1725.4 228.4,1725.9 228.6,1725.2 228.9,1726.6 229.1,1725.9 229.8,1726.0 230.1,1724.1 230.8,1728.0 231.5,1725.9 231.7,1728.2 232.0,1725.4 232.5,1727.4 232.9,1727.0 233.7,1724.7 233.9,1726.5 234.6,1724.9 234.9,1725.8 235.1,1725.3 235.3,1727.3 235.6,1726.6 235.8,1727.1 236.1,1725.2 236.5,1726.7 237.0,1726.0 237.5,1727.2 238.0,1724.4 238.2,1726.6 238.9,1727.5 239.4,1725.7 239.7,1726.4 240.4,1726.3 240.6,1727.7 241.1,1726.3 241.8,1727.1 242.3,1725.7 242.5,1726.8 243.5,1725.0 243.7,1728.2 244.0,1725.7 244.2,1726.8 244.9,1725.6 245.4,1726.3 245.7,1725.1 245.9,1726.7 246.4,1725.8 246.6,1726.9 246.9,1724.7 247.1,1725.6 247.3,1724.7 247.8,1726.8 248.3,1725.8 248.5,1726.9 248.8,1726.1 249.0,1726.5 249.3,1725.1 249.5,1727.0 249.7,1725.6 250.0,1727.0 250.7,1727.4 251.2,1725.6 251.4,1726.3 251.9,1725.1 252.9,1727.8 253.1,1725.8 253.3,1727.9 254.1,1725.5 254.5,1727.1 254.8,1726.2 255.0,1726.9 255.5,1726.4 256.2,1727.1 256.5,1726.6 256.7,1728.2 257.7,1725.4 257.9,1728.0 258.1,1726.3 258.6,1727.3 258.9,1726.0 259.3,1727.9 260.1,1726.3 260.3,1727.4 260.5,1725.9 261.0,1727.4 261.5,1726.5 261.7,1726.9 262.0,1725.0 262.5,1727.2 263.2,1724.5 263.4,1726.5 263.9,1726.0 264.1,1726.4 264.4,1724.5 264.6,1726.8 264.9,1725.8 265.1,1726.2 265.3,1725.9 265.6,1727.3 265.8,1724.9 266.5,1727.1 267.7,1725.3 268.2,1726.2 268.5,1725.5 268.9,1726.3 269.4,1725.1 269.9,1726.4 270.4,1724.4 270.6,1726.2 271.3,1724.8 271.6,1727.3 272.1,1724.5 272.3,1726.0 272.5,1723.9 273.0,1724.9 273.3,1723.6 273.5,1724.3 274.9,1705.5 275.7,1702.6 277.1,1721.4 277.8,1724.3 278.3,1723.5 279.0,1726.6 279.5,1725.0 281.4,1727.4 281.7,1726.6 282.1,1727.0 282.9,1723.9 283.3,1726.8 283.6,1725.7 284.1,1726.9 284.3,1725.4 284.8,1728.9 285.0,1725.7 285.3,1726.9 285.5,1725.1 286.0,1727.3 286.2,1725.1 286.5,1727.3 286.9,1725.2 287.4,1726.5 287.9,1725.7 288.1,1727.1 288.9,1724.5 289.3,1727.2 289.6,1725.8 289.8,1726.7 290.5,1725.5 291.3,1728.5 291.7,1725.2 292.5,1727.4 292.7,1726.0 293.2,1727.4 293.4,1725.9 293.7,1726.2 293.9,1725.8 294.1,1727.0 294.4,1725.0 295.1,1726.9 295.6,1725.7 295.8,1726.6 296.5,1725.3 297.3,1728.0 297.7,1725.8 298.9,1727.2 299.2,1725.3 299.9,1727.5 300.4,1725.2 300.9,1727.0 301.3,1725.2 302.5,1725.7 302.8,1726.9 303.5,1724.6 303.7,1727.9 304.2,1725.4 304.5,1726.5 304.9,1725.5 305.4,1726.5 306.1,1724.9 306.4,1725.8 307.1,1724.7 307.6,1726.5 309.0,1721.8 310.5,1705.4 312.9,1724.7 313.1,1723.7 314.1,1725.7 314.3,1724.9 314.5,1726.0 315.0,1725.2 315.3,1726.5 316.2,1723.8 316.9,1727.9 317.2,1725.9 317.7,1727.0 317.9,1725.4 318.1,1727.4 318.6,1726.0 318.9,1727.1 319.3,1725.2 319.6,1727.2 320.1,1725.6 320.5,1727.1 321.5,1725.3 321.7,1725.7 322.0,1724.5 322.5,1725.4 322.9,1724.9 323.4,1727.0 324.1,1724.5 324.4,1725.8 325.1,1724.4 325.3,1725.6 325.6,1726.0 325.8,1725.5 326.1,1726.1 326.8,1725.4 327.0,1724.0 327.3,1725.9 328.0,1724.9 328.2,1726.4 328.9,1724.8 329.7,1725.8 330.1,1723.6 331.1,1725.4 331.8,1723.9 332.3,1725.0 332.8,1722.0 333.0,1723.6 333.7,1721.9 334.0,1723.7 334.2,1720.5 334.5,1722.1 334.7,1720.0 335.2,1720.7 335.7,1718.1 335.9,1719.1 336.6,1716.9 338.1,1699.0M343.1,1702.3 345.0,1718.5 345.3,1717.1 346.7,1722.6 346.9,1721.8 347.4,1722.4 347.7,1721.8 348.1,1724.0 348.6,1724.1 348.9,1723.3 349.1,1724.8 349.3,1723.2 350.1,1725.8 350.5,1724.2 350.8,1726.4 351.0,1723.9 351.3,1723.6 351.7,1724.8 352.0,1723.2 352.5,1726.1 352.7,1725.4 353.2,1725.6 353.4,1727.6 353.7,1725.0 353.9,1726.2 354.6,1725.0 355.1,1726.5 355.6,1724.7 355.8,1726.2 356.1,1724.8 356.5,1726.4 356.8,1724.7 357.0,1726.7 357.3,1725.2 358.0,1727.1 358.5,1725.2 359.2,1726.5 359.4,1725.8 359.7,1727.3 360.1,1726.3 360.4,1726.9 361.3,1726.5 361.6,1724.9 362.8,1727.5 363.0,1726.6 363.3,1728.1 364.0,1725.0 364.5,1727.1 364.7,1726.0 364.9,1727.0 365.9,1724.3 366.1,1725.7 366.4,1724.5 366.9,1726.7 367.3,1725.0 368.1,1727.6 368.5,1725.7 369.3,1727.6 369.7,1725.8 370.5,1727.5 370.7,1725.1 370.9,1726.6 371.4,1725.9 371.7,1728.3 372.6,1725.4 373.1,1728.0 373.6,1726.4 374.3,1727.9 374.5,1726.1 375.3,1728.0 375.5,1725.1 375.7,1728.9 376.2,1724.9 376.9,1727.5 377.2,1725.5 377.4,1727.6 377.7,1726.4 378.1,1727.4 378.4,1725.9 378.6,1727.7 379.8,1725.8 380.3,1727.0 381.0,1725.9 382.0,1727.3 382.2,1725.9 382.5,1727.4 382.9,1725.4 383.2,1727.5 383.4,1726.6 383.7,1727.9 383.9,1727.0 384.1,1727.8 385.1,1725.3 386.5,1728.1 387.0,1725.3 387.5,1727.0 387.7,1725.3 388.5,1727.6 389.2,1725.0 389.7,1727.4 390.1,1726.8 390.4,1728.0 390.6,1726.5 391.3,1726.1 391.8,1728.0 392.1,1725.5 392.5,1727.8 392.8,1726.4 393.3,1726.1 393.7,1727.0 394.0,1726.4 394.5,1726.6 394.9,1729.0 395.9,1726.0 396.4,1726.9 396.9,1725.6 397.1,1727.1 397.3,1725.8 397.8,1726.3 398.1,1725.3 398.3,1727.1 398.5,1725.8 398.8,1727.3 399.3,1727.4 399.5,1726.1 400.2,1727.4 400.7,1725.0 400.9,1726.3 401.7,1724.7 402.1,1727.7 402.4,1725.2 403.3,1727.7 404.1,1725.2 404.5,1727.7 405.0,1726.8 405.3,1727.9 405.5,1726.4 406.2,1726.7 406.9,1725.0 407.7,1726.8 407.9,1725.8 408.1,1726.9 408.4,1725.5 408.6,1727.1 409.3,1725.5 409.6,1727.1 410.1,1725.8 410.5,1726.5 411.3,1724.5 412.0,1727.3 412.5,1724.3 412.7,1725.1 412.9,1724.4 413.4,1726.1 413.7,1724.2 413.9,1724.6 414.1,1723.9 414.4,1725.6 415.1,1723.0 415.3,1724.0 415.8,1723.4 416.1,1721.3 416.5,1722.2 416.8,1721.7 417.7,1715.2 418.7,1690.8 420.1,1617.8 420.6,1613.6 422.1,1684.2 423.5,1717.2 424.0,1717.2 425.4,1725.4 426.1,1721.6 426.9,1724.6 427.1,1723.2 427.3,1724.5 428.5,1723.8 429.0,1722.3 429.3,1725.2 429.5,1721.4 430.2,1724.1 431.2,1722.0 431.7,1723.2 432.1,1720.9 432.4,1720.6 432.6,1721.1 433.6,1718.7 434.5,1707.9 437.2,1586.8 439.3,1687.7 440.8,1717.8 441.7,1720.1 442.0,1723.2 442.2,1718.7 442.5,1722.9 442.7,1722.2 443.2,1722.3 443.7,1726.3 444.1,1723.4 444.9,1726.6 445.1,1723.6 445.6,1725.7 446.1,1725.2 446.3,1726.1 447.3,1724.4 448.5,1726.8 448.7,1724.8 448.9,1726.1 449.4,1725.4 449.7,1726.9 449.9,1725.4 450.4,1726.1 450.6,1725.7 451.1,1727.9 451.8,1725.5 452.3,1726.7 452.8,1725.1 453.7,1726.5 454.2,1725.9 454.5,1726.4 454.7,1726.1 455.4,1727.8 455.9,1725.3 456.6,1727.7 456.9,1725.8 457.3,1727.6 457.6,1725.6 457.8,1726.3 458.1,1725.4 459.0,1727.3 459.7,1725.8 460.2,1727.8 460.9,1725.3 461.4,1727.7 462.1,1726.5 462.4,1728.3 462.6,1726.5 463.1,1727.3 463.6,1725.5 463.8,1726.4 464.3,1725.6 465.0,1726.7 465.3,1725.4 465.7,1727.0 466.0,1725.8 466.2,1726.9 466.7,1725.4 466.9,1726.2 467.7,1725.6 467.9,1727.4 468.4,1724.9 468.9,1727.7 469.8,1725.0 470.3,1724.5 470.5,1725.7 471.0,1722.1 471.3,1724.0 471.5,1721.4 472.5,1720.1 473.4,1712.7 473.9,1711.0 474.4,1712.5 474.6,1710.8 476.3,1718.9 477.0,1720.9 477.3,1720.6 477.7,1725.3 478.2,1723.1 479.4,1726.7 479.9,1725.5 480.1,1726.4 480.4,1724.5 480.6,1727.4 481.1,1725.3 481.8,1727.4 482.3,1725.1 483.0,1726.9 483.3,1725.8 483.7,1727.2 484.5,1725.6 484.7,1726.6 485.2,1724.9 485.7,1727.6 485.9,1725.8 486.9,1726.9 487.1,1726.2 487.3,1726.9 487.6,1726.0 487.8,1727.6 488.8,1726.1 489.3,1727.1 489.5,1726.4 490.0,1727.9 491.7,1725.1 492.1,1726.7 492.4,1725.2 492.9,1726.9 493.3,1725.6 493.6,1726.3 493.8,1725.6 494.3,1725.9 494.5,1726.7 494.8,1726.1 495.0,1726.7 495.3,1725.8 495.5,1727.7 496.0,1725.2 496.5,1726.2 496.7,1725.7 496.9,1726.8 497.9,1725.1 498.1,1726.6 498.4,1724.9 498.6,1727.0 499.3,1724.3 499.8,1726.8 500.1,1724.3 500.5,1725.0 501.5,1720.2 501.7,1720.9 504.6,1682.1 506.1,1707.7 508.2,1725.3 508.5,1722.9 508.7,1725.3 509.2,1723.8 509.7,1725.8 510.1,1725.7 510.4,1726.5 510.6,1725.3 511.1,1725.8 511.8,1724.6 512.3,1727.7 512.5,1725.5 513.0,1727.5 513.3,1725.8 513.5,1727.0 514.0,1725.6 514.5,1727.3 514.9,1725.6 515.4,1727.9 516.1,1725.1 516.4,1726.0 516.9,1725.7 517.1,1727.0 517.6,1726.3 517.8,1727.5 518.3,1726.3 518.5,1727.7 518.8,1726.1 519.3,1726.0 519.5,1727.4 520.0,1725.7 520.5,1727.5 520.9,1725.7 521.2,1726.9 521.7,1724.8 522.4,1727.7 522.9,1725.7 523.3,1727.8 524.1,1726.3 524.3,1727.5 524.5,1726.3 524.8,1727.3 525.0,1726.6 525.5,1726.4 525.7,1727.3 526.2,1726.5 526.5,1728.0 527.2,1726.1 528.1,1727.6 528.6,1726.6 529.1,1727.8 529.3,1727.2 529.6,1728.7 529.8,1726.3 530.5,1727.9 531.3,1726.2 531.5,1728.1 531.7,1726.3 532.2,1727.6 532.5,1726.6 533.2,1727.6 533.7,1727.0 534.1,1727.8 534.9,1726.0 535.1,1727.0 535.3,1725.9 535.8,1727.9 536.1,1726.5 536.3,1727.8 536.8,1726.1 537.3,1727.1 537.5,1725.0 537.7,1726.8 538.2,1726.3 538.5,1727.1 538.9,1726.7 539.2,1728.9 539.4,1725.8 539.7,1727.8 540.1,1726.5 540.6,1727.9 540.9,1726.8 541.6,1728.1 542.1,1726.6 542.8,1726.1 543.3,1727.4 543.7,1725.5 544.0,1726.8 544.9,1726.4 545.9,1727.4 546.4,1726.0 547.1,1727.2 547.6,1726.0 547.8,1727.7 548.5,1724.9 548.8,1727.2 549.3,1725.4 549.5,1727.5 549.7,1726.5 550.5,1727.1 550.9,1724.2 551.7,1724.0 552.4,1719.3 552.6,1720.1 554.8,1688.1 557.7,1723.5 558.1,1724.5 558.4,1722.8 558.9,1725.9 559.3,1724.1 559.6,1726.4 560.3,1724.8 560.8,1726.5 561.5,1725.5 561.7,1726.4 562.0,1724.8 562.7,1727.1 563.7,1725.9 564.1,1727.4 564.4,1725.8 564.9,1727.3 565.1,1725.8 565.6,1728.9 566.1,1726.2 566.5,1727.3 566.8,1725.6 567.0,1727.5 568.2,1726.1 568.5,1726.9 568.7,1725.8 568.9,1727.5 569.4,1725.5 570.1,1727.3 570.9,1726.8 571.1,1727.2 571.8,1726.0 572.1,1726.8 572.5,1726.2 573.0,1728.2 573.3,1725.6 574.5,1728.0 574.7,1726.7 574.9,1728.1 575.2,1726.2 575.4,1727.5 575.9,1725.4 576.4,1727.1 576.6,1726.1 576.9,1727.7 577.6,1725.8 577.8,1727.4 578.1,1726.5 578.5,1727.9 579.0,1725.7 579.3,1726.9 579.7,1726.2 580.0,1727.4 580.7,1725.5 581.2,1727.2 581.9,1727.5 582.6,1725.5 582.9,1727.2 583.1,1726.0 583.3,1727.7 583.6,1726.9 584.1,1727.9 584.3,1726.5 585.3,1727.3 586.0,1726.1 586.2,1727.3 586.9,1725.1 587.9,1727.4 588.6,1724.1 588.9,1727.5 589.8,1724.1 590.5,1722.6 590.8,1723.3 591.5,1717.2 591.7,1718.3 593.7,1694.3 594.1,1692.0 594.4,1693.4 594.9,1691.8 596.3,1708.8 596.5,1707.9 598.2,1722.5 598.7,1722.3 599.7,1726.3 599.9,1724.7 600.4,1725.0 600.6,1724.3 601.3,1727.7 601.6,1725.4 602.1,1726.6 602.3,1725.7 602.5,1726.9 603.0,1724.5 603.3,1725.5 604.2,1726.1 604.5,1724.4 605.7,1728.3 606.1,1725.0 606.6,1726.7 607.1,1725.8 607.3,1727.1 607.6,1724.8 608.3,1728.5 608.5,1724.9 608.8,1726.1 609.0,1724.7 609.3,1726.9 610.5,1723.8 610.9,1725.9 611.4,1724.2 611.7,1724.7 612.1,1724.3 612.4,1725.2 612.9,1722.2 613.1,1724.0 613.6,1720.7 613.8,1721.9 616.0,1704.9 616.2,1696.6 616.5,1696.9 616.7,1696.1 617.2,1691.7 618.1,1695.8 619.8,1715.6 621.7,1724.0 622.0,1723.0 622.7,1726.2 623.2,1724.8 623.4,1727.0 624.1,1725.1 624.4,1727.1 624.9,1725.5 625.8,1727.5 626.3,1726.2 626.5,1727.7 627.0,1725.7 627.7,1727.1 628.0,1725.6 628.2,1727.3 628.5,1725.2 628.9,1727.4 629.9,1727.4 630.6,1726.2 630.9,1727.2 631.1,1725.9 631.3,1727.7 631.8,1727.8 632.1,1726.5 632.3,1728.2 633.0,1725.6 633.5,1728.2 634.0,1726.3 634.5,1728.3 634.7,1727.3 634.9,1728.4 635.4,1725.3 635.9,1728.2 636.4,1726.7 636.6,1727.5 636.9,1726.6 637.1,1727.6 637.6,1726.9 638.1,1728.6 639.5,1726.6 639.7,1727.8 640.2,1725.4 640.5,1726.7 640.9,1726.0 642.1,1727.9 642.6,1726.0 642.9,1727.8 643.3,1726.8 643.8,1727.6 644.1,1727.3 644.3,1728.5 645.0,1725.2 645.5,1727.1 646.2,1725.5 646.9,1727.9 647.2,1727.0 647.7,1727.3 647.9,1725.2 648.1,1728.1 649.1,1725.1 649.3,1727.5 649.8,1726.2 650.5,1726.6 650.8,1725.0 651.0,1726.6 651.7,1723.6 652.2,1725.2 652.9,1724.0 653.4,1720.2 653.9,1720.3 654.4,1718.5 654.6,1714.6 654.9,1716.9 656.5,1702.8 656.8,1707.4 657.3,1705.6 657.5,1706.3 658.0,1711.7 658.2,1708.6 658.9,1715.2 660.4,1721.7 660.6,1722.4 660.9,1721.7 661.6,1724.3 661.8,1723.6 662.1,1725.3 662.5,1723.3 663.3,1726.4 663.5,1725.3 664.0,1726.8 664.5,1726.3 664.7,1724.5 664.9,1726.3 665.2,1723.5 665.4,1725.4 666.4,1722.6 666.9,1724.2 667.8,1717.8 668.5,1717.1 669.0,1714.1 669.3,1715.0 669.5,1712.1 669.7,1713.3 670.5,1710.8 672.6,1718.3 672.9,1722.4 673.1,1721.1 673.3,1723.1 673.6,1721.7 674.3,1725.3 675.0,1723.7 675.3,1726.4 675.7,1722.2 676.7,1727.8 676.9,1724.0 677.4,1726.5 677.7,1724.1 678.1,1725.7 678.6,1724.2 679.6,1725.6 680.1,1723.3 681.3,1726.1 681.5,1724.0 681.7,1726.1 682.0,1725.5 682.5,1727.3 682.7,1724.7 683.2,1727.1 683.4,1726.5 683.7,1727.4 683.9,1726.8 684.1,1727.6 684.4,1726.4 684.9,1728.1 685.1,1726.2 685.6,1728.0 686.3,1725.7 686.5,1727.8 686.8,1726.5 687.5,1727.4 688.0,1726.8 688.5,1728.9 688.7,1727.3 688.9,1727.6 689.4,1726.8 689.7,1727.4 689.9,1726.3 690.1,1727.3 690.6,1726.6 691.6,1727.9 692.3,1726.7 692.5,1727.7 693.3,1725.6 693.5,1727.3 693.7,1726.5 694.9,1726.7 695.4,1727.5 696.1,1726.4 696.4,1727.0 696.9,1726.2 697.1,1728.1 697.6,1726.9 698.1,1728.1 698.3,1726.5 698.8,1728.1 699.0,1725.8 699.3,1728.3 700.2,1726.9 700.5,1728.0 700.9,1727.4 701.2,1728.1 701.4,1726.4 702.1,1727.8 702.6,1727.2 702.9,1727.6 703.1,1726.3 703.3,1729.3 703.8,1727.4 704.1,1728.7 704.3,1727.3 704.5,1727.7 705.3,1726.1 706.0,1726.5 706.2,1726.0 706.9,1727.6 707.4,1725.9 707.7,1728.1 708.4,1724.8 708.9,1725.5 709.1,1724.6 709.3,1726.3 709.8,1723.4 710.1,1725.3 710.3,1722.7 711.0,1724.6 711.3,1722.9 712.0,1724.9 712.5,1723.5 713.2,1725.9 713.4,1725.5 713.9,1725.9 714.1,1723.9 715.1,1727.6 715.6,1726.3 715.8,1727.4 716.3,1727.8 716.5,1727.0 716.8,1727.7 717.0,1725.8 717.7,1728.3 718.0,1725.6 719.2,1727.7 719.4,1725.8 720.4,1729.3 720.6,1726.8 721.3,1725.7 721.6,1727.9 722.1,1726.5 722.5,1727.7 723.3,1726.2 723.5,1727.3 724.5,1727.9 725.4,1726.2 726.1,1728.1 726.6,1726.3 726.9,1728.2 727.8,1727.2 728.1,1727.6 728.3,1726.5 728.5,1727.7 728.8,1726.7 729.3,1727.1 729.5,1725.2 729.7,1725.9 730.0,1725.2 730.2,1725.8 730.7,1724.5 731.2,1726.1 731.4,1723.6 732.6,1723.7 732.9,1724.9 733.3,1724.0 733.8,1725.6 734.1,1723.3 735.0,1728.1 735.7,1725.3 736.0,1728.2 736.5,1725.2 737.4,1727.2 738.1,1726.5 738.4,1728.0 738.6,1726.0 738.9,1728.6 739.3,1724.8 739.6,1727.6 739.8,1726.7 740.1,1728.0 740.8,1727.5 741.3,1725.8 741.5,1726.5 741.7,1725.9 742.0,1727.5 742.2,1725.9 742.5,1726.5 742.7,1725.8 742.9,1727.1 743.4,1725.5 744.1,1726.7 744.9,1725.0 745.1,1725.8 745.6,1724.6 745.8,1725.8 746.1,1723.8 746.8,1726.6 747.5,1725.2 747.7,1725.8 748.0,1724.7 748.7,1727.3 748.9,1724.6 749.7,1726.9 750.6,1726.1 750.9,1727.1 751.1,1725.5 751.3,1728.6 751.8,1726.4 752.5,1728.7 752.8,1726.4 753.0,1728.9 753.3,1727.0 753.5,1727.2 754.0,1726.3 754.2,1728.0 754.7,1727.7 754.9,1728.8 755.2,1726.8 755.9,1728.3 756.1,1727.4 756.9,1728.3 757.1,1726.6 757.6,1729.4 757.8,1726.9 758.3,1728.1 758.5,1725.4 759.0,1728.4 760.0,1726.3 760.5,1727.9 760.9,1726.7 761.4,1727.4 761.7,1726.3 762.1,1728.0 762.9,1726.5 763.1,1726.8 763.3,1724.9 763.6,1726.5 764.1,1724.9 764.3,1726.7 765.5,1721.3 766.2,1720.6 766.5,1721.2 766.7,1719.9 766.9,1720.2 767.2,1717.4 768.4,1722.6 768.9,1720.8 769.1,1724.1 769.8,1722.9 770.1,1725.5 770.3,1723.8 770.5,1725.7 770.8,1724.3 772.0,1727.3 772.2,1725.1 773.2,1728.6 774.1,1725.9 774.9,1728.3 775.3,1727.1 775.6,1729.1 776.3,1725.6 776.5,1728.1 776.8,1727.4 777.3,1728.5 777.7,1728.2 778.5,1726.4 778.9,1728.5 779.2,1727.1 779.9,1726.4 780.1,1727.9 780.4,1726.8 780.6,1728.2 781.1,1726.8 781.8,1728.4 782.3,1727.1 782.5,1728.1 782.8,1727.7 783.0,1725.0 783.5,1727.4 784.0,1725.3 784.2,1728.5 784.7,1725.2 784.9,1726.0 785.2,1724.8 785.4,1725.8 786.9,1722.0 787.1,1723.1 787.8,1723.0 788.3,1724.8 788.8,1723.3 789.3,1724.6 789.5,1722.0 790.2,1726.1 790.5,1724.6 790.7,1726.7 790.9,1725.3 791.2,1726.0 791.4,1725.6 792.1,1728.5 792.6,1726.4 793.1,1728.8 793.3,1726.9 794.1,1728.1 795.3,1726.8 795.7,1728.7 796.2,1726.0 796.5,1728.6 796.7,1727.5 797.2,1728.4 797.7,1727.0 798.1,1727.4 798.4,1727.0 798.6,1729.0 798.9,1727.1 799.8,1728.4 800.1,1726.9 800.5,1728.9 801.5,1726.6 802.0,1727.7 802.2,1726.0 802.5,1728.9 803.4,1726.0 803.7,1728.3 803.9,1727.3 804.9,1728.9 805.3,1727.2 805.6,1728.6 805.8,1727.1 806.5,1729.8 806.8,1726.8 807.7,1728.7 808.0,1727.2 808.2,1727.6 808.5,1727.1 809.2,1728.7 809.4,1727.0 809.7,1728.6 810.1,1726.4 810.4,1728.0 810.6,1726.3 810.9,1726.6 811.1,1726.0 811.3,1726.8 812.1,1724.0 812.8,1726.0 813.0,1724.4 813.3,1725.1 814.0,1723.4 814.7,1724.5 814.9,1723.4 815.2,1725.6 815.7,1724.1 815.9,1725.7 816.6,1724.6 817.1,1728.0 817.3,1726.8 817.8,1726.4 818.1,1726.8 818.3,1725.7 819.3,1729.1 819.5,1726.2 820.2,1728.9 820.7,1727.4 821.4,1728.2 821.7,1726.2 822.1,1728.9 822.9,1727.9 823.3,1728.7 823.8,1727.6 824.1,1729.0 824.5,1726.5 824.8,1729.3 825.7,1726.5 826.0,1729.4 826.7,1727.5 826.9,1728.7 827.7,1727.3 827.9,1728.9 828.1,1727.7 828.6,1728.2 828.9,1726.8 829.1,1728.1 829.3,1726.7 829.6,1728.3 829.8,1726.5 830.3,1728.5 830.8,1727.6 831.0,1728.6 831.3,1727.2 831.7,1728.5 832.2,1727.1 832.7,1728.3 832.9,1726.4 833.2,1728.5 833.7,1726.8 834.1,1729.0 834.4,1727.8 835.1,1726.8 835.8,1726.8 836.3,1725.7 836.5,1728.1 836.8,1724.5 837.5,1727.1 838.2,1724.2 838.9,1725.0 839.2,1724.4 839.4,1725.6 839.9,1725.7 840.1,1724.4 840.6,1726.6 841.3,1725.0 841.6,1726.8 842.1,1725.0 842.3,1727.1 842.8,1726.7 843.7,1728.1 844.0,1726.8 844.5,1728.4 845.7,1726.3 846.4,1729.2 846.9,1727.4 847.8,1729.0 848.3,1726.3 848.5,1728.7 848.8,1726.5 849.3,1728.9 849.5,1727.4 850.2,1728.1 850.5,1726.5 850.7,1728.1 851.2,1727.4 851.7,1729.3 852.4,1727.6 852.6,1729.3 853.1,1726.6 853.3,1729.3 853.6,1727.5 854.1,1727.2 854.3,1729.0 854.5,1727.5 854.8,1728.9 855.0,1726.7 855.3,1728.4 855.5,1727.4 855.7,1728.3 856.0,1727.5 856.2,1728.7 857.2,1725.9 857.4,1726.8 857.9,1726.5 858.1,1725.3 858.4,1727.3 859.6,1725.7 860.1,1726.9 860.5,1726.2 860.8,1728.6 861.0,1725.6 861.3,1727.4 861.7,1726.9 862.2,1728.4 862.7,1726.3 863.4,1728.1 864.1,1726.5 864.9,1729.3 865.1,1726.7 865.3,1729.0 866.1,1725.3 866.3,1727.7 867.3,1726.8 868.0,1729.5 868.7,1726.7 868.9,1728.9 869.2,1727.7 869.7,1728.5 869.9,1726.5 870.1,1727.7 870.4,1728.0 870.6,1727.2 870.9,1728.4 871.3,1728.3 871.6,1726.2 871.8,1727.5 872.3,1726.8 873.0,1728.9 873.3,1727.1 873.7,1727.7 874.0,1726.3 874.2,1728.7 874.5,1726.7 874.7,1728.1 874.9,1727.8 875.4,1725.4 875.7,1727.4 876.1,1727.1 876.4,1724.1 876.9,1725.2 877.1,1723.7 877.6,1727.2 878.3,1723.8 878.5,1726.9 878.8,1725.6 880.2,1727.9 880.5,1727.5 880.9,1728.0 881.7,1727.1 881.9,1727.8 882.1,1726.1 882.6,1728.5 882.9,1726.9 883.1,1728.3 883.6,1727.0 884.1,1728.1 884.3,1727.1 885.5,1729.2 886.5,1727.3 887.4,1729.0 887.9,1727.5 888.4,1727.5 888.9,1730.1 889.1,1727.2 890.1,1727.1 890.3,1725.8 890.5,1727.7 890.8,1726.7 892.0,1728.8 892.2,1727.5 892.7,1728.9 893.2,1728.9 893.4,1726.6 894.1,1728.9 894.6,1727.0 894.9,1728.1 895.6,1726.1 896.5,1727.9 896.8,1726.0 897.0,1728.6 897.3,1727.6 897.5,1729.0 898.0,1726.9 898.5,1726.8 898.9,1727.4 899.9,1725.3 900.6,1727.3 900.9,1726.3 901.3,1728.2 901.6,1725.6 902.3,1727.8 902.8,1726.5 903.0,1728.1 903.7,1726.1 904.5,1728.1 904.7,1727.1 905.2,1728.2 905.4,1727.4 905.9,1729.2 906.6,1726.8 907.3,1728.5 907.8,1727.7 908.1,1729.3 908.3,1727.5 908.5,1728.5 908.8,1727.4 909.5,1727.1 910.2,1728.8 910.5,1727.2 911.2,1729.6 911.7,1726.2 912.6,1730.2 913.1,1727.2 913.6,1729.7 913.8,1727.0 915.0,1728.8 915.5,1727.3 915.7,1728.7 916.7,1727.2 916.9,1729.8 917.4,1727.1 917.7,1728.4 918.1,1728.0 918.4,1728.8 918.9,1726.6 919.1,1727.4 919.3,1726.5 920.1,1727.5 920.5,1725.8 921.3,1727.6 922.0,1726.2 922.2,1727.9 922.5,1726.0 922.9,1725.5 923.2,1726.0 923.4,1723.3 923.9,1726.3 924.4,1724.3 925.8,1726.6 926.1,1725.4 926.3,1728.5 926.8,1725.5 927.3,1727.9 927.5,1725.5 928.2,1727.9 929.2,1728.3 929.4,1727.4 929.9,1729.3 930.4,1727.9 930.9,1730.0 931.1,1726.8 931.6,1728.4 932.3,1727.0 932.5,1728.6 932.8,1727.7 933.0,1728.6 933.3,1727.8 933.7,1729.5 934.0,1728.0 934.5,1727.5 934.7,1728.6 934.9,1727.0 935.2,1728.0 935.4,1726.9 935.7,1728.4 935.9,1726.9 936.1,1728.2 936.6,1727.4 936.9,1729.5 937.3,1726.7 937.6,1729.3 938.3,1727.0 939.0,1729.0 939.5,1727.3 941.2,1728.9 941.4,1727.6 941.7,1729.1 942.1,1726.5 942.4,1727.0 942.6,1726.3 942.9,1729.0 943.1,1728.0 943.8,1729.5 944.3,1727.5 945.0,1727.2 945.5,1728.8 946.2,1727.1 946.5,1728.4 946.9,1728.5 947.2,1726.9 947.9,1728.7 948.1,1727.8 948.4,1729.4 948.6,1728.3 949.1,1728.5 949.6,1727.7 949.8,1725.6 950.1,1727.9 950.3,1727.5 950.8,1729.3 951.3,1726.3 951.5,1728.7 952.0,1726.9 952.5,1729.6 952.7,1726.7 952.9,1727.6 953.2,1726.8 953.4,1728.1 953.7,1726.5 954.1,1727.6 954.4,1726.5 955.1,1727.4 955.6,1727.2 955.8,1725.6 956.3,1727.7 956.5,1725.6 957.3,1727.1 957.5,1726.6 958.0,1728.2 958.9,1727.0 959.2,1729.1 959.4,1727.6 959.7,1728.5 960.1,1727.6 960.6,1728.5 960.9,1727.4 961.1,1728.1 961.6,1727.1 962.1,1728.9 962.5,1727.4 963.3,1729.4 964.0,1727.6 964.2,1728.1 964.5,1727.4 964.7,1728.2 964.9,1726.8 965.7,1728.4 966.6,1727.1 966.9,1728.6 967.3,1726.8 968.3,1728.5 968.8,1727.0 969.7,1729.0 970.0,1726.3 970.2,1728.5 970.9,1728.0 971.2,1728.4 971.7,1727.0 971.9,1728.7 972.6,1727.5 973.6,1729.5 974.3,1728.9 974.8,1727.2 975.0,1728.9 975.3,1727.7 976.0,1728.6 976.5,1727.4 976.7,1728.0 977.2,1727.6 977.4,1728.5 978.1,1725.8 978.4,1728.2 978.9,1727.0 979.1,1727.5 980.3,1726.7 980.5,1728.4 980.8,1726.7 981.0,1729.0 981.3,1726.0 981.7,1728.0 982.0,1726.8 982.2,1727.8 982.7,1727.2 983.2,1727.9 983.4,1727.5 984.4,1729.5 984.6,1726.9 985.1,1729.2 985.6,1728.0 985.8,1729.8 986.5,1726.9 987.3,1727.9 987.5,1727.4 987.7,1729.1 988.2,1727.6 988.5,1729.2 989.2,1726.7 989.7,1728.7 989.9,1728.3 990.1,1728.6 990.4,1727.3 991.1,1729.4 991.3,1728.1 992.1,1728.8 992.5,1727.2 992.8,1729.2 993.7,1727.3 994.2,1728.0 994.5,1727.1 995.4,1729.1 995.7,1728.1 996.1,1729.1 996.4,1728.4 996.6,1729.5 998.1,1727.0 998.8,1729.6 999.3,1728.9 999.5,1729.8 1000.0,1729.6 1000.7,1727.0 1000.9,1729.1 1001.2,1728.6 1001.7,1729.5 1001.9,1728.4 1002.4,1728.8 1002.6,1727.8 1002.9,1728.6 1003.1,1727.5 1003.3,1728.7 1003.6,1727.7 1003.8,1728.5 1004.3,1727.8 1004.5,1729.3 1005.5,1728.1 1006.0,1729.3 1006.5,1728.0 1006.7,1728.8 1006.9,1727.2 1007.7,1727.4 1007.9,1728.6 1008.1,1726.3 1008.4,1728.4 1008.9,1727.1 1009.6,1728.1 1010.3,1726.3 1010.5,1727.8 1010.8,1726.7 1011.5,1727.8 1011.7,1727.5 1012.0,1728.8 1012.5,1727.3 1012.7,1728.0 1013.2,1727.5 1013.4,1728.4 1013.7,1727.2 1013.9,1728.3 1014.1,1726.1 1014.4,1728.8 1015.3,1727.2 1015.8,1728.5 1016.1,1726.7 1017.0,1729.4 1017.5,1726.9 1017.7,1729.1 1018.2,1728.1 1018.5,1730.1 1018.7,1727.2 1018.9,1729.4 1019.7,1727.4 1020.1,1729.7 1020.6,1728.1 1020.9,1729.9 1021.8,1727.4 1022.1,1730.2 1022.3,1728.0 1023.3,1729.2 1024.2,1727.3 1024.7,1729.0 1024.9,1727.6 1025.2,1730.4 1025.9,1726.7 1026.1,1729.0 1026.4,1728.3 1026.6,1729.2 1026.9,1728.4 1027.3,1728.9 1028.1,1728.0 1028.5,1729.3 1029.0,1727.7 1029.3,1728.9 1029.5,1727.3 1030.0,1728.6 1030.2,1728.3 1030.7,1729.0 1030.9,1727.6 1031.4,1728.7 1032.4,1727.2 1032.6,1728.8 1033.6,1727.2 1034.1,1729.8 1034.3,1728.4 1034.5,1729.5 1034.8,1727.0 1035.0,1728.8 1035.5,1728.0 1036.0,1728.4 1036.5,1727.3 1036.7,1728.2 1036.9,1726.5 1037.4,1729.6 1037.7,1727.0 1037.9,1729.0 1038.4,1725.8 1038.9,1728.3 1039.6,1726.2 1039.8,1727.9 1040.1,1726.5 1040.8,1727.6 1041.0,1726.3 1041.3,1728.8 1041.7,1727.1 1042.2,1728.9 1042.7,1728.9 1042.9,1727.6 1043.2,1728.6 1043.4,1727.1 1043.9,1728.0 1044.6,1727.6 1044.9,1728.3 1045.3,1727.7 1045.6,1728.4 1045.8,1727.6 1046.3,1728.9 1046.8,1727.1 1047.3,1729.6 1047.5,1728.1 1047.7,1728.7 1048.7,1728.8 1049.2,1728.2 1049.7,1729.3 1050.1,1729.2 1050.4,1727.9 1050.6,1729.2 1051.8,1727.6 1052.1,1728.4 1052.5,1727.8 1052.8,1729.5 1053.3,1727.3 1053.7,1728.6 1054.0,1727.0 1054.2,1728.3 1054.5,1727.5 1054.7,1730.2 1054.9,1728.3 1055.2,1728.8 1055.7,1727.5 1056.4,1730.5 1056.6,1727.8 1056.9,1727.4 1057.3,1728.8 1058.3,1726.9 1058.8,1729.4 1059.3,1727.5 1059.5,1728.8 1059.7,1728.4 1060.2,1729.4 1060.5,1729.0 1060.7,1730.0 1061.4,1727.8 1062.1,1729.7 1062.9,1726.3 1063.1,1729.2 1063.6,1727.7 1063.8,1729.0 1064.1,1728.0 1064.5,1728.7 1064.8,1727.8 1065.3,1729.4 1065.5,1727.8 1066.2,1729.0 1066.5,1728.0 1066.7,1729.0 1067.2,1727.7 1067.4,1728.5 1067.7,1727.6 1067.9,1729.5 1068.6,1727.0 1069.6,1729.2 1070.3,1727.8 1070.5,1728.9 1071.7,1727.1 1072.0,1729.1 1072.7,1727.2 1073.7,1729.1 1073.9,1727.1 1074.1,1729.1 1074.6,1726.7 1075.1,1728.7 1076.1,1726.2 1076.5,1728.7 1077.0,1727.1 1077.7,1729.2 1078.5,1727.5 1078.7,1728.6 1079.2,1727.3 1079.4,1729.5 1079.9,1727.2 1080.1,1728.7 1080.6,1727.7 1081.3,1729.7 1081.6,1728.0 1082.3,1730.4 1082.5,1727.7 1083.0,1729.1 1083.3,1727.6 1083.5,1730.3 1083.7,1728.5 1084.0,1729.8 1084.2,1726.5 1084.5,1730.5 1085.2,1727.9 1085.9,1728.7 1086.1,1726.9 1086.4,1729.1 1086.9,1727.2 1087.1,1729.5 1087.6,1727.7 1088.1,1729.5 1088.5,1727.1 1088.8,1728.7 1089.0,1727.9 1089.5,1729.1 1089.7,1727.3 1090.5,1728.7 1091.2,1728.2 1091.7,1728.9 1091.9,1727.6 1092.1,1729.4 1092.6,1728.9 1093.1,1729.5 1093.6,1728.0 1094.1,1729.1 1094.3,1727.3 1094.5,1729.6 1094.8,1727.8 1095.3,1729.6 1096.0,1727.6 1096.9,1729.9 1097.2,1728.7 1097.4,1729.6 1098.4,1727.8 1099.1,1728.7 1099.8,1727.4 1100.5,1729.7 1101.0,1727.7 1101.3,1729.1 1101.5,1727.5 1102.7,1729.8 1102.9,1728.9 1103.2,1729.5 1103.7,1728.6 1103.9,1730.5 1104.4,1728.2 1104.6,1730.3 1104.9,1728.9 1105.3,1730.1 1105.6,1727.8 1106.3,1729.0 1106.5,1727.5 1107.0,1728.6 1107.3,1727.9 1107.7,1728.7 1108.0,1728.0 1108.2,1728.8 1108.5,1728.0 1109.2,1728.7 1109.7,1727.5 1110.1,1728.8 1110.4,1727.6 1110.9,1728.8 1111.3,1727.3 1111.8,1727.5 1112.1,1726.8 1112.5,1728.3 1112.8,1727.4 1113.0,1728.3 1113.5,1727.7 1114.0,1729.4 1114.2,1728.4 1114.7,1728.5 1115.4,1729.7 1115.7,1728.0 1116.4,1728.6 1116.6,1727.1 1117.1,1728.6 1117.3,1728.0 1117.6,1728.6 1117.8,1728.1 1118.8,1728.9 1119.3,1727.8 1119.5,1729.3 1120.0,1729.4 1120.2,1727.9 1120.5,1728.8 1120.7,1727.9 1120.9,1729.2 1121.2,1728.0 1121.4,1729.0 1121.9,1728.2 1122.4,1729.1 1123.3,1726.7 1124.1,1729.7 1124.5,1728.2 1125.3,1728.3 1125.7,1729.9 1126.0,1727.8 1126.2,1728.4 1126.5,1727.8 1126.7,1728.6 1126.9,1728.1 1127.2,1729.0 1128.1,1727.6 1128.6,1730.8 1129.3,1728.0 1129.8,1729.1 1130.5,1729.1 1130.8,1727.6 1131.3,1728.6 1131.7,1727.0 1132.0,1728.8 1132.7,1729.5 1133.9,1728.0 1134.1,1729.2 1134.4,1727.9 1134.6,1729.3 1135.1,1727.7 1135.6,1727.8 1135.8,1727.0 1136.3,1728.8 1136.8,1729.2 1137.0,1728.4 1138.0,1729.8 1138.2,1726.7 1138.7,1730.0 1138.9,1728.1 1139.4,1730.0 1140.4,1727.4 1140.6,1728.8 1141.1,1727.6 1141.8,1727.9 1142.1,1727.0 1142.5,1729.0 1142.8,1726.5 1143.0,1727.5 1143.3,1727.0 1144.0,1728.3 1144.2,1727.9 1144.5,1728.4 1144.9,1728.3 1145.7,1727.1 1145.9,1728.9 1146.4,1727.7 1146.9,1730.3 1147.1,1728.2 1148.1,1729.1 1148.3,1727.7 1148.8,1728.4 1149.3,1727.9 1149.7,1729.3 1150.7,1727.7 1151.4,1729.5 1151.9,1726.9 1152.1,1729.1 1152.9,1727.6 1153.3,1729.4 1154.5,1726.8 1155.5,1729.2 1156.0,1727.7 1156.9,1728.8 1157.9,1728.7 1158.1,1727.9 1158.6,1728.7 1159.3,1727.8 1159.6,1729.2 1159.8,1727.7 1160.3,1729.4 1160.5,1728.7 1161.0,1729.4"/></defs>
<use href="#obsc" fill="none" stroke="#ff9a9a" stroke-width="11" stroke-linejoin="round" stroke-linecap="round"/>
<defs><path id="calcc" d="M203.9,1726.4 220.5,1726.2 222.9,1725.9 224.1,1725.2 225.0,1721.1 226.2,1698.9 227.7,1722.9 228.4,1725.1 230.3,1726.1 262.9,1726.4 268.9,1726.2 271.8,1725.6 273.0,1724.2 273.7,1720.8 275.4,1701.5 277.3,1722.2 278.1,1724.6 279.7,1725.8 285.0,1726.4 299.7,1726.4 304.9,1726.1 307.3,1725.3 308.3,1723.5 308.8,1720.9 310.5,1702.1 312.1,1720.6 312.9,1724.1 313.8,1725.3 316.2,1726.0 320.8,1726.1 326.5,1725.8 330.4,1725.0 332.5,1724.1 334.0,1722.8 336.1,1718.2 337.3,1711.1 338.1,1700.7 338.8,1664.2 340.5,1208.6 342.4,1680.3 342.9,1699.7 343.8,1712.8 345.5,1720.3 346.7,1722.5 348.4,1724.1 352.5,1725.6 359.9,1726.3 400.9,1726.5 411.5,1725.4 414.1,1724.2 415.8,1722.2 417.3,1716.6 418.2,1700.6 420.4,1598.9 423.0,1710.1 423.5,1716.0 424.5,1720.6 425.9,1722.9 428.1,1724.0 430.7,1723.5 432.6,1721.5 433.6,1718.4 434.3,1712.3 435.3,1690.0 437.2,1611.2 439.3,1696.7 440.3,1714.9 441.0,1719.7 442.5,1723.1 444.6,1724.8 448.2,1725.9 461.7,1726.5 466.9,1726.3 469.3,1725.7 470.3,1724.9 471.3,1723.0 474.4,1711.0 475.1,1712.4 477.5,1722.9 478.5,1724.9 479.4,1725.7 483.5,1726.5 492.4,1726.5 496.9,1725.9 499.6,1724.6 501.0,1721.6 502.0,1714.3 504.4,1673.3 506.5,1710.6 507.7,1721.5 508.5,1723.6 509.9,1725.2 512.1,1726.1 515.4,1726.6 543.3,1726.8 548.3,1726.3 550.7,1725.2 551.9,1722.5 552.6,1717.6 554.8,1688.9 556.9,1717.2 557.9,1723.2 558.6,1724.8 559.8,1725.8 564.9,1726.8 583.1,1726.7 587.2,1726.0 589.3,1724.8 590.3,1723.0 591.3,1719.0 593.7,1696.7 594.4,1693.3 595.1,1696.4 597.3,1717.2 598.9,1723.9 600.6,1725.5 603.5,1726.2 608.3,1726.2 611.4,1725.3 612.9,1723.4 614.1,1718.7 616.5,1695.6 617.2,1692.1 617.9,1695.3 620.1,1716.9 621.3,1722.8 622.2,1724.7 623.4,1725.7 629.4,1726.8 644.8,1726.9 648.9,1726.5 651.0,1725.6 652.2,1724.3 653.2,1721.9 656.1,1707.6 656.8,1706.0 657.7,1708.4 660.1,1720.7 661.1,1723.4 662.3,1725.0 664.2,1725.3 665.9,1723.9 667.1,1721.0 669.3,1712.7 670.0,1711.6 670.9,1713.4 673.3,1722.5 674.8,1725.1 676.5,1725.6 679.8,1724.5 683.4,1726.6 687.3,1727.2 705.3,1727.2 707.4,1726.4 710.8,1723.6 714.4,1726.5 717.3,1727.3 727.3,1727.2 729.0,1726.5 732.4,1724.1 735.7,1726.5 737.9,1727.2 742.5,1727.0 746.8,1724.6 751.6,1727.2 760.0,1727.3 761.9,1726.9 763.3,1726.0 767.2,1720.3 767.9,1720.8 770.1,1724.8 771.5,1726.4 773.4,1727.2 777.0,1727.4 783.3,1726.9 787.6,1722.8 792.1,1727.0 798.6,1727.6 809.2,1727.4 814.0,1724.3 818.3,1727.2 824.5,1727.7 834.4,1727.5 839.2,1724.9 843.0,1727.2 846.4,1727.7 854.8,1727.7 859.6,1726.4 864.4,1727.7 871.8,1727.8 874.0,1727.3 877.6,1725.5 881.2,1727.3 883.8,1727.8 895.3,1727.8 900.4,1726.5 905.4,1727.9 916.7,1728.0 920.5,1727.4 924.4,1725.1 928.7,1727.6 934.5,1728.1 950.3,1728.0 955.6,1726.7 959.9,1727.9 964.7,1728.1 974.8,1728.1 979.6,1727.0 983.9,1728.0 988.9,1728.2 1005.5,1728.2 1010.8,1727.3 1017.5,1728.3 1034.1,1728.3 1039.6,1727.4 1045.3,1728.3 1068.1,1728.4 1075.6,1727.5 1083.0,1728.5 1105.8,1728.5 1111.6,1727.8 1117.1,1728.5 1136.1,1728.6 1142.8,1727.9 1147.8,1728.6 1161.0,1728.7"/></defs>
<use href="#calcc" fill="none" stroke="#2020ff" stroke-width="3.6" stroke-linejoin="round"/>
<use href="#obsc" fill="none" stroke="#ff0000" stroke-width="7.5" stroke-linejoin="round" stroke-linecap="round"/>
<path d="M335.7,1133.5h10v4h-10zM335.2,1200.6h10v4h-10zM335.0,1312.9h10v4h-10zM336.4,1424.5h10v4h-10zM334.5,1512.8h10v4h-10zM336.9,1586.6h10v4h-10zM337.1,1635.3h10v4h-10zM337.4,1660.4h10v4h-10zM337.6,1675.7h10v4h-10zM337.9,1691.7h10v4h-10zM338.7,1130.5h4v10h-4zM338.2,1197.6h4v10h-4zM338.0,1309.9h4v10h-4zM339.4,1421.5h4v10h-4zM337.5,1509.8h4v10h-4zM339.9,1583.6h4v10h-4zM340.1,1632.3h4v10h-4zM340.4,1657.4h4v10h-4zM340.6,1672.7h4v10h-4zM340.9,1688.7h4v10h-4z" fill="#ff5a5a" opacity="0.55"/>
<path d="M225.0,1721.1 226.2,1698.9 227.4,1720.7M273.7,1720.8 275.4,1701.5 277.1,1720.5M308.8,1720.9 310.5,1702.1 312.1,1720.6M334.9,1721.4 336.6,1716.1 337.8,1705.2 338.8,1664.2 340.5,1208.6 342.1,1660.1 343.1,1704.6 344.3,1715.9 346.0,1721.4M416.1,1721.7 417.5,1714.2 418.2,1700.6 420.4,1598.9 422.5,1699.2 423.5,1716.0 424.9,1721.7M432.4,1721.9 433.8,1717.0 434.8,1703.9 437.2,1611.2 439.6,1703.2 440.5,1717.0 441.7,1721.9M471.7,1721.5 473.7,1712.6 474.4,1711.0 475.1,1712.4 477.0,1721.4M501.0,1721.6 502.2,1711.2 504.4,1673.3 506.5,1710.6 507.7,1721.5M552.1,1721.2 554.8,1688.9 557.4,1721.0M590.5,1722.3 591.7,1715.8 593.7,1696.7 594.4,1693.3 595.1,1696.4 597.0,1715.4 598.2,1722.1M613.3,1722.1 614.5,1715.4 616.5,1695.6 617.2,1692.1 617.9,1695.3 619.8,1715.1 621.0,1722.0M653.2,1721.9 656.1,1707.6 656.8,1706.0 657.5,1707.4 660.6,1722.3M666.6,1722.4 669.0,1713.5 670.0,1711.6 670.9,1713.4 673.3,1722.5M765.5,1722.6 767.2,1720.3 768.9,1722.5" fill="none" stroke="#2020ff" stroke-width="3.6" stroke-linejoin="round" opacity="0.3"/>
<use href="#diffc" fill="none" stroke="#0e840e" stroke-width="3.7" stroke-linejoin="round"/>
<path d="M340.0,1721.9 340.9,1631.6 342.4,1723.2" fill="none" stroke="#0d4a2a" stroke-width="3.7" stroke-linejoin="round"/>
<path d="M225.1,1761.5h3.74v20.8h-3.74zM273.8,1761.5h3.74v20.8h-3.74zM303.7,1761.5h3.74v20.8h-3.74zM307.4,1761.5h3.74v20.8h-3.74zM314.9,1761.5h3.74v20.8h-3.74zM337.3,1761.5h3.74v20.8h-3.74zM344.8,1761.5h3.74v20.8h-3.74zM367.3,1761.5h3.74v20.8h-3.74zM371.0,1761.5h3.74v20.8h-3.74zM378.5,1761.5h3.74v20.8h-3.74zM400.9,1761.5h3.74v20.8h-3.74zM415.9,1761.5h3.74v20.8h-3.74zM419.6,1761.5h3.74v20.8h-3.74zM434.6,1761.5h3.74v20.8h-3.74zM438.3,1761.5h3.74v20.8h-3.74zM442.1,1761.5h3.74v20.8h-3.74zM449.5,1761.5h3.74v20.8h-3.74zM457.0,1761.5h3.74v20.8h-3.74zM486.9,1761.5h3.74v20.8h-3.74zM498.2,1761.5h3.74v20.8h-3.74zM501.9,1761.5h3.74v20.8h-3.74zM505.6,1761.5h3.74v20.8h-3.74zM520.6,1761.5h3.74v20.8h-3.74zM524.3,1761.5h3.74v20.8h-3.74zM528.1,1761.5h3.74v20.8h-3.74zM539.3,1761.5h3.74v20.8h-3.74zM543.0,1761.5h3.74v20.8h-3.74zM565.5,1761.5h3.74v20.8h-3.74zM569.2,1761.5h3.74v20.8h-3.74zM573.0,1761.5h3.74v20.8h-3.74zM576.7,1761.5h3.74v20.8h-3.74zM602.9,1761.5h3.74v20.8h-3.74zM606.6,1761.5h3.74v20.8h-3.74zM651.5,1761.5h3.74v20.8h-3.74zM673.9,1761.5h3.74v20.8h-3.74zM677.7,1761.5h3.74v20.8h-3.74zM692.6,1761.5h3.74v20.8h-3.74zM696.4,1761.5h3.74v20.8h-3.74zM700.1,1761.5h3.74v20.8h-3.74zM711.3,1761.5h3.74v20.8h-3.74zM726.3,1761.5h3.74v20.8h-3.74zM730.0,1761.5h3.74v20.8h-3.74zM737.5,1761.5h3.74v20.8h-3.74zM745.0,1761.5h3.74v20.8h-3.74zM752.5,1761.5h3.74v20.8h-3.74zM756.2,1761.5h3.74v20.8h-3.74zM767.4,1761.5h3.74v20.8h-3.74zM771.2,1761.5h3.74v20.8h-3.74zM782.4,1761.5h3.74v20.8h-3.74zM789.9,1761.5h3.74v20.8h-3.74zM804.8,1761.5h3.74v20.8h-3.74zM812.3,1761.5h3.74v20.8h-3.74zM834.8,1761.5h3.74v20.8h-3.74zM849.7,1761.5h3.74v20.8h-3.74zM860.9,1761.5h3.74v20.8h-3.74zM894.6,1761.5h3.74v20.8h-3.74zM902.1,1761.5h3.74v20.8h-3.74zM905.8,1761.5h3.74v20.8h-3.74zM924.5,1761.5h3.74v20.8h-3.74zM935.7,1761.5h3.74v20.8h-3.74zM943.2,1761.5h3.74v20.8h-3.74zM950.7,1761.5h3.74v20.8h-3.74zM961.9,1761.5h3.74v20.8h-3.74zM969.4,1761.5h3.74v20.8h-3.74zM999.3,1761.5h3.74v20.8h-3.74zM1018.0,1761.5h3.74v20.8h-3.74zM1036.7,1761.5h3.74v20.8h-3.74zM1051.7,1761.5h3.74v20.8h-3.74zM1059.2,1761.5h3.74v20.8h-3.74zM1148.9,1761.5h3.74v20.8h-3.74zM1160.1,1761.5h3.74v20.8h-3.74z" fill="#000" fill-opacity="0.3"/>
<path d="M322.4,1761.5h3.74v20.8h-3.74zM468.2,1761.5h3.74v20.8h-3.74zM490.7,1761.5h3.74v20.8h-3.74zM516.9,1761.5h3.74v20.8h-3.74zM550.5,1761.5h3.74v20.8h-3.74zM587.9,1761.5h3.74v20.8h-3.74zM610.4,1761.5h3.74v20.8h-3.74zM625.3,1761.5h3.74v20.8h-3.74zM644.0,1761.5h3.74v20.8h-3.74zM670.2,1761.5h3.74v20.8h-3.74zM681.4,1761.5h3.74v20.8h-3.74zM707.6,1761.5h3.74v20.8h-3.74zM715.1,1761.5h3.74v20.8h-3.74zM722.6,1761.5h3.74v20.8h-3.74zM760.0,1761.5h3.74v20.8h-3.74zM778.7,1761.5h3.74v20.8h-3.74zM786.1,1761.5h3.74v20.8h-3.74zM797.4,1761.5h3.74v20.8h-3.74zM808.6,1761.5h3.74v20.8h-3.74zM816.1,1761.5h3.74v20.8h-3.74zM831.0,1761.5h3.74v20.8h-3.74zM838.5,1761.5h3.74v20.8h-3.74zM853.5,1761.5h3.74v20.8h-3.74zM864.7,1761.5h3.74v20.8h-3.74zM872.2,1761.5h3.74v20.8h-3.74zM883.4,1761.5h3.74v20.8h-3.74zM898.3,1761.5h3.74v20.8h-3.74zM909.6,1761.5h3.74v20.8h-3.74zM928.3,1761.5h3.74v20.8h-3.74zM958.2,1761.5h3.74v20.8h-3.74zM973.1,1761.5h3.74v20.8h-3.74zM976.9,1761.5h3.74v20.8h-3.74zM980.6,1761.5h3.74v20.8h-3.74zM988.1,1761.5h3.74v20.8h-3.74zM991.8,1761.5h3.74v20.8h-3.74zM995.6,1761.5h3.74v20.8h-3.74zM1047.9,1761.5h3.74v20.8h-3.74zM1062.9,1761.5h3.74v20.8h-3.74zM1066.6,1761.5h3.74v20.8h-3.74zM1100.3,1761.5h3.74v20.8h-3.74zM1126.5,1761.5h3.74v20.8h-3.74z" fill="#000" fill-opacity="0.51"/>
<path d="M483.2,1761.5h3.74v20.8h-3.74zM599.1,1761.5h3.74v20.8h-3.74zM617.8,1761.5h3.74v20.8h-3.74zM632.8,1761.5h3.74v20.8h-3.74zM662.7,1761.5h3.74v20.8h-3.74zM666.5,1761.5h3.74v20.8h-3.74zM748.7,1761.5h3.74v20.8h-3.74zM763.7,1761.5h3.74v20.8h-3.74zM774.9,1761.5h3.74v20.8h-3.74zM857.2,1761.5h3.74v20.8h-3.74zM868.4,1761.5h3.74v20.8h-3.74zM875.9,1761.5h3.74v20.8h-3.74zM913.3,1761.5h3.74v20.8h-3.74zM917.0,1761.5h3.74v20.8h-3.74zM939.5,1761.5h3.74v20.8h-3.74zM984.4,1761.5h3.74v20.8h-3.74zM1006.8,1761.5h3.74v20.8h-3.74zM1014.3,1761.5h3.74v20.8h-3.74zM1021.8,1761.5h3.74v20.8h-3.74zM1029.2,1761.5h3.74v20.8h-3.74zM1033.0,1761.5h3.74v20.8h-3.74zM1040.5,1761.5h3.74v20.8h-3.74zM1044.2,1761.5h3.74v20.8h-3.74zM1077.9,1761.5h3.74v20.8h-3.74zM1092.8,1761.5h3.74v20.8h-3.74zM1096.6,1761.5h3.74v20.8h-3.74zM1104.0,1761.5h3.74v20.8h-3.74zM1111.5,1761.5h3.74v20.8h-3.74zM1115.3,1761.5h3.74v20.8h-3.74zM1130.2,1761.5h3.74v20.8h-3.74zM1134.0,1761.5h3.74v20.8h-3.74zM1141.4,1761.5h3.74v20.8h-3.74zM1152.7,1761.5h3.74v20.8h-3.74z" fill="#000" fill-opacity="0.66"/>
<path d="M793.6,1761.5h3.74v20.8h-3.74zM823.5,1761.5h3.74v20.8h-3.74zM890.9,1761.5h3.74v20.8h-3.74zM932.0,1761.5h3.74v20.8h-3.74zM1055.4,1761.5h3.74v20.8h-3.74zM1089.1,1761.5h3.74v20.8h-3.74zM1107.8,1761.5h3.74v20.8h-3.74zM1137.7,1761.5h3.74v20.8h-3.74z" fill="#000" fill-opacity="0.76"/>
<path d="M846.0,1761.5h3.74v20.8h-3.74zM920.8,1761.5h3.74v20.8h-3.74zM965.7,1761.5h3.74v20.8h-3.74zM1025.5,1761.5h3.74v20.8h-3.74zM1074.1,1761.5h3.74v20.8h-3.74zM1085.3,1761.5h3.74v20.8h-3.74zM1145.2,1761.5h3.74v20.8h-3.74zM1156.4,1761.5h3.74v20.8h-3.74z" fill="#000" fill-opacity="0.83"/>
<path d="M954.4,1761.5h3.74v20.8h-3.74zM1070.4,1761.5h3.74v20.8h-3.74z" fill="#000" fill-opacity="0.88"/>
<path d="M1122.7,1761.5h3.74v20.8h-3.74z" fill="#000" fill-opacity="0.92"/>
<path d="M210.2,1782.5h3.74v18.7h-3.74zM240.1,1782.5h3.74v18.7h-3.74zM270.0,1782.5h3.74v18.7h-3.74zM296.2,1782.5h3.74v18.7h-3.74zM303.7,1782.5h3.74v18.7h-3.74zM307.4,1782.5h3.74v18.7h-3.74zM311.2,1782.5h3.74v18.7h-3.74zM322.4,1782.5h3.74v18.7h-3.74zM326.1,1782.5h3.74v18.7h-3.74zM337.3,1782.5h3.74v18.7h-3.74zM352.3,1782.5h3.74v18.7h-3.74zM356.0,1782.5h3.74v18.7h-3.74zM371.0,1782.5h3.74v18.7h-3.74zM382.2,1782.5h3.74v18.7h-3.74zM393.4,1782.5h3.74v18.7h-3.74zM412.1,1782.5h3.74v18.7h-3.74zM415.9,1782.5h3.74v18.7h-3.74zM442.1,1782.5h3.74v18.7h-3.74zM445.8,1782.5h3.74v18.7h-3.74zM453.3,1782.5h3.74v18.7h-3.74zM468.2,1782.5h3.74v18.7h-3.74zM479.5,1782.5h3.74v18.7h-3.74zM490.7,1782.5h3.74v18.7h-3.74zM494.4,1782.5h3.74v18.7h-3.74zM498.2,1782.5h3.74v18.7h-3.74zM501.9,1782.5h3.74v18.7h-3.74zM513.1,1782.5h3.74v18.7h-3.74zM520.6,1782.5h3.74v18.7h-3.74zM535.6,1782.5h3.74v18.7h-3.74zM539.3,1782.5h3.74v18.7h-3.74zM546.8,1782.5h3.74v18.7h-3.74zM550.5,1782.5h3.74v18.7h-3.74zM554.3,1782.5h3.74v18.7h-3.74zM587.9,1782.5h3.74v18.7h-3.74zM591.7,1782.5h3.74v18.7h-3.74zM606.6,1782.5h3.74v18.7h-3.74zM614.1,1782.5h3.74v18.7h-3.74zM617.8,1782.5h3.74v18.7h-3.74zM629.1,1782.5h3.74v18.7h-3.74zM632.8,1782.5h3.74v18.7h-3.74zM640.3,1782.5h3.74v18.7h-3.74zM651.5,1782.5h3.74v18.7h-3.74zM655.2,1782.5h3.74v18.7h-3.74zM677.7,1782.5h3.74v18.7h-3.74zM685.2,1782.5h3.74v18.7h-3.74zM688.9,1782.5h3.74v18.7h-3.74zM696.4,1782.5h3.74v18.7h-3.74zM703.9,1782.5h3.74v18.7h-3.74zM707.6,1782.5h3.74v18.7h-3.74zM722.6,1782.5h3.74v18.7h-3.74zM726.3,1782.5h3.74v18.7h-3.74zM733.8,1782.5h3.74v18.7h-3.74zM745.0,1782.5h3.74v18.7h-3.74zM752.5,1782.5h3.74v18.7h-3.74zM760.0,1782.5h3.74v18.7h-3.74zM767.4,1782.5h3.74v18.7h-3.74zM786.1,1782.5h3.74v18.7h-3.74zM801.1,1782.5h3.74v18.7h-3.74zM808.6,1782.5h3.74v18.7h-3.74zM838.5,1782.5h3.74v18.7h-3.74zM842.2,1782.5h3.74v18.7h-3.74zM849.7,1782.5h3.74v18.7h-3.74zM857.2,1782.5h3.74v18.7h-3.74zM864.7,1782.5h3.74v18.7h-3.74zM872.2,1782.5h3.74v18.7h-3.74zM879.6,1782.5h3.74v18.7h-3.74zM887.1,1782.5h3.74v18.7h-3.74zM894.6,1782.5h3.74v18.7h-3.74zM909.6,1782.5h3.74v18.7h-3.74zM928.3,1782.5h3.74v18.7h-3.74zM932.0,1782.5h3.74v18.7h-3.74zM943.2,1782.5h3.74v18.7h-3.74zM947.0,1782.5h3.74v18.7h-3.74zM950.7,1782.5h3.74v18.7h-3.74zM973.1,1782.5h3.74v18.7h-3.74zM1003.1,1782.5h3.74v18.7h-3.74zM1006.8,1782.5h3.74v18.7h-3.74zM1021.8,1782.5h3.74v18.7h-3.74zM1047.9,1782.5h3.74v18.7h-3.74zM1130.2,1782.5h3.74v18.7h-3.74zM1160.1,1782.5h3.74v18.7h-3.74z" fill="#8000ff" fill-opacity="0.35"/>
<path d="M434.6,1782.5h3.74v18.7h-3.74zM438.3,1782.5h3.74v18.7h-3.74zM464.5,1782.5h3.74v18.7h-3.74zM483.2,1782.5h3.74v18.7h-3.74zM486.9,1782.5h3.74v18.7h-3.74zM509.4,1782.5h3.74v18.7h-3.74zM528.1,1782.5h3.74v18.7h-3.74zM584.2,1782.5h3.74v18.7h-3.74zM599.1,1782.5h3.74v18.7h-3.74zM602.9,1782.5h3.74v18.7h-3.74zM610.4,1782.5h3.74v18.7h-3.74zM621.6,1782.5h3.74v18.7h-3.74zM666.5,1782.5h3.74v18.7h-3.74zM670.2,1782.5h3.74v18.7h-3.74zM673.9,1782.5h3.74v18.7h-3.74zM681.4,1782.5h3.74v18.7h-3.74zM711.3,1782.5h3.74v18.7h-3.74zM763.7,1782.5h3.74v18.7h-3.74zM771.2,1782.5h3.74v18.7h-3.74zM774.9,1782.5h3.74v18.7h-3.74zM797.4,1782.5h3.74v18.7h-3.74zM816.1,1782.5h3.74v18.7h-3.74zM823.5,1782.5h3.74v18.7h-3.74zM834.8,1782.5h3.74v18.7h-3.74zM868.4,1782.5h3.74v18.7h-3.74zM883.4,1782.5h3.74v18.7h-3.74zM890.9,1782.5h3.74v18.7h-3.74zM898.3,1782.5h3.74v18.7h-3.74zM902.1,1782.5h3.74v18.7h-3.74zM917.0,1782.5h3.74v18.7h-3.74zM988.1,1782.5h3.74v18.7h-3.74zM1029.2,1782.5h3.74v18.7h-3.74zM1033.0,1782.5h3.74v18.7h-3.74zM1051.7,1782.5h3.74v18.7h-3.74zM1059.2,1782.5h3.74v18.7h-3.74zM1066.6,1782.5h3.74v18.7h-3.74zM1100.3,1782.5h3.74v18.7h-3.74z" fill="#8000ff" fill-opacity="0.58"/>
<path d="M565.5,1782.5h3.74v18.7h-3.74zM644.0,1782.5h3.74v18.7h-3.74zM662.7,1782.5h3.74v18.7h-3.74zM700.1,1782.5h3.74v18.7h-3.74zM782.4,1782.5h3.74v18.7h-3.74zM789.9,1782.5h3.74v18.7h-3.74zM804.8,1782.5h3.74v18.7h-3.74zM812.3,1782.5h3.74v18.7h-3.74zM831.0,1782.5h3.74v18.7h-3.74zM860.9,1782.5h3.74v18.7h-3.74zM905.8,1782.5h3.74v18.7h-3.74zM913.3,1782.5h3.74v18.7h-3.74zM920.8,1782.5h3.74v18.7h-3.74zM924.5,1782.5h3.74v18.7h-3.74zM935.7,1782.5h3.74v18.7h-3.74zM961.9,1782.5h3.74v18.7h-3.74zM965.7,1782.5h3.74v18.7h-3.74zM976.9,1782.5h3.74v18.7h-3.74zM1018.0,1782.5h3.74v18.7h-3.74zM1040.5,1782.5h3.74v18.7h-3.74zM1062.9,1782.5h3.74v18.7h-3.74zM1077.9,1782.5h3.74v18.7h-3.74zM1081.6,1782.5h3.74v18.7h-3.74zM1092.8,1782.5h3.74v18.7h-3.74zM1104.0,1782.5h3.74v18.7h-3.74zM1111.5,1782.5h3.74v18.7h-3.74zM1115.3,1782.5h3.74v18.7h-3.74zM1137.7,1782.5h3.74v18.7h-3.74zM1145.2,1782.5h3.74v18.7h-3.74zM1152.7,1782.5h3.74v18.7h-3.74z" fill="#8000ff" fill-opacity="0.73"/>
<path d="M730.0,1782.5h3.74v18.7h-3.74zM748.7,1782.5h3.74v18.7h-3.74zM756.2,1782.5h3.74v18.7h-3.74zM778.7,1782.5h3.74v18.7h-3.74zM853.5,1782.5h3.74v18.7h-3.74zM875.9,1782.5h3.74v18.7h-3.74zM954.4,1782.5h3.74v18.7h-3.74zM958.2,1782.5h3.74v18.7h-3.74zM969.4,1782.5h3.74v18.7h-3.74zM984.4,1782.5h3.74v18.7h-3.74zM995.6,1782.5h3.74v18.7h-3.74zM999.3,1782.5h3.74v18.7h-3.74zM1014.3,1782.5h3.74v18.7h-3.74zM1025.5,1782.5h3.74v18.7h-3.74zM1036.7,1782.5h3.74v18.7h-3.74zM1044.2,1782.5h3.74v18.7h-3.74zM1055.4,1782.5h3.74v18.7h-3.74zM1074.1,1782.5h3.74v18.7h-3.74zM1085.3,1782.5h3.74v18.7h-3.74zM1096.6,1782.5h3.74v18.7h-3.74zM1122.7,1782.5h3.74v18.7h-3.74zM1126.5,1782.5h3.74v18.7h-3.74zM1141.4,1782.5h3.74v18.7h-3.74zM1148.9,1782.5h3.74v18.7h-3.74zM1156.4,1782.5h3.74v18.7h-3.74z" fill="#8000ff" fill-opacity="0.82"/>
<path d="M846.0,1782.5h3.74v18.7h-3.74zM939.5,1782.5h3.74v18.7h-3.74zM1070.4,1782.5h3.74v18.7h-3.74zM1107.8,1782.5h3.74v18.7h-3.74z" fill="#8000ff" fill-opacity="0.88"/>
<path d="M1089.1,1782.5h3.74v18.7h-3.74zM1134.0,1782.5h3.74v18.7h-3.74z" fill="#8000ff" fill-opacity="0.92"/>
</g>
<rect x="199" y="30.2" width="7" height="784.8" fill="#888"/>
<rect x="1166" y="30.2" width="7" height="784.8" fill="#8a8a8a"/>
<rect x="199" y="30.2" width="974" height="3.8" fill="#444"/>
<rect x="199" y="807.3" width="974" height="7.3" fill="#888"/>
<rect x="206" y="708.3" width="11.5" height="4" fill="#4a4a4a"/>
<rect x="1154.5" y="708.3" width="11.5" height="4" fill="#4a4a4a"/>
<rect x="206" y="607.7" width="11.5" height="4" fill="#4a4a4a"/>
<rect x="1154.5" y="607.7" width="11.5" height="4" fill="#4a4a4a"/>
<rect x="206" y="507.1" width="11.5" height="4" fill="#4a4a4a"/>
<rect x="1154.5" y="507.1" width="11.5" height="4" fill="#4a4a4a"/>
<rect x="206" y="406.5" width="11.5" height="4" fill="#4a4a4a"/>
<rect x="1154.5" y="406.5" width="11.5" height="4" fill="#4a4a4a"/>
<rect x="206" y="305.9" width="11.5" height="4" fill="#4a4a4a"/>
<rect x="1154.5" y="305.9" width="11.5" height="4" fill="#4a4a4a"/>
<rect x="206" y="205.3" width="11.5" height="4" fill="#4a4a4a"/>
<rect x="1154.5" y="205.3" width="11.5" height="4" fill="#4a4a4a"/>
<rect x="206" y="104.7" width="11.5" height="4" fill="#4a4a4a"/>
<rect x="1154.5" y="104.7" width="11.5" height="4" fill="#4a4a4a"/>
<rect x="206" y="758.6" width="5" height="4" fill="#4a4a4a"/>
<rect x="1161" y="758.6" width="5" height="4" fill="#4a4a4a"/>
<rect x="206" y="658" width="5" height="4" fill="#4a4a4a"/>
<rect x="1161" y="658" width="5" height="4" fill="#4a4a4a"/>
<rect x="206" y="557.4" width="5" height="4" fill="#4a4a4a"/>
<rect x="1161" y="557.4" width="5" height="4" fill="#4a4a4a"/>
<rect x="206" y="456.8" width="5" height="4" fill="#4a4a4a"/>
<rect x="1161" y="456.8" width="5" height="4" fill="#4a4a4a"/>
<rect x="206" y="356.2" width="5" height="4" fill="#4a4a4a"/>
<rect x="1161" y="356.2" width="5" height="4" fill="#4a4a4a"/>
<rect x="206" y="255.6" width="5" height="4" fill="#4a4a4a"/>
<rect x="1161" y="255.6" width="5" height="4" fill="#4a4a4a"/>
<rect x="206" y="155" width="5" height="4" fill="#4a4a4a"/>
<rect x="1161" y="155" width="5" height="4" fill="#4a4a4a"/>
<rect x="206" y="54.4" width="5" height="4" fill="#4a4a4a"/>
<rect x="1161" y="54.4" width="5" height="4" fill="#4a4a4a"/>
<rect x="247.75" y="795.3" width="6.5" height="12" fill="#707070"/>
<rect x="247.75" y="34" width="6.5" height="13" fill="#707070"/>
<rect x="367.75" y="795.3" width="6.5" height="12" fill="#707070"/>
<rect x="367.75" y="34" width="6.5" height="13" fill="#707070"/>
<rect x="487.75" y="795.3" width="6.5" height="12" fill="#707070"/>
<rect x="487.75" y="34" width="6.5" height="13" fill="#707070"/>
<rect x="607.75" y="795.3" width="6.5" height="12" fill="#707070"/>
<rect x="607.75" y="34" width="6.5" height="13" fill="#707070"/>
<rect x="727.75" y="795.3" width="6.5" height="12" fill="#707070"/>
<rect x="727.75" y="34" width="6.5" height="13" fill="#707070"/>
<rect x="847.75" y="795.3" width="6.5" height="12" fill="#707070"/>
<rect x="847.75" y="34" width="6.5" height="13" fill="#707070"/>
<rect x="967.75" y="795.3" width="6.5" height="12" fill="#707070"/>
<rect x="967.75" y="34" width="6.5" height="13" fill="#707070"/>
<rect x="1087.75" y="795.3" width="6.5" height="12" fill="#707070"/>
<rect x="1087.75" y="34" width="6.5" height="13" fill="#707070"/>
<text transform="matrix(0.9350,0,0,1,161.94,723.74)" font-size="46.20" fill="#141414">0</text>
<text transform="matrix(0.9350,0,0,1,137.97,623.14)" font-size="46.20" fill="#141414">20</text>
<text transform="matrix(0.9350,0,0,1,137.97,522.54)" font-size="46.20" fill="#141414">40</text>
<text transform="matrix(0.9350,0,0,1,137.97,421.94)" font-size="46.20" fill="#141414">60</text>
<text transform="matrix(0.9350,0,0,1,137.97,321.34)" font-size="46.20" fill="#141414">80</text>
<text transform="matrix(0.9350,0,0,1,113.99,220.74)" font-size="46.20" fill="#141414">100</text>
<text transform="matrix(0.9350,0,0,1,113.99,120.14)" font-size="46.20" fill="#141414">120</text>
<text transform="matrix(0.9350,0,0,1,237.66,862.82)" font-size="47.57" fill="#141414">5</text>
<text transform="matrix(0.9350,0,0,1,344.78,862.83)" font-size="46.90" fill="#141414">10</text>
<text transform="matrix(0.9350,0,0,1,464.54,862.82)" font-size="47.57" fill="#141414">15</text>
<text transform="matrix(0.9350,0,0,1,585.33,862.83)" font-size="46.90" fill="#141414">20</text>
<text transform="matrix(0.9350,0,0,1,705.44,862.83)" font-size="46.90" fill="#141414">25</text>
<text transform="matrix(0.9350,0,0,1,825.66,862.83)" font-size="46.90" fill="#141414">30</text>
<text transform="matrix(0.9350,0,0,1,945.77,862.83)" font-size="46.90" fill="#141414">35</text>
<text transform="matrix(0.9350,0,0,1,1065.99,862.83)" font-size="46.90" fill="#141414">40</text>
<text transform="matrix(0.9088,0,0,1,232.94,121.48)" font-size="63.42" fill="#141414" stroke="#fff" stroke-width="1.5">(a)</text>
<text transform="matrix(0.9255,0,0,1,562.03,968.55)" font-size="66.42" fill="#141414" stroke="#fff" stroke-width="1.5">2ϑ (deg.)</text>
<g transform="rotate(-90)"><text transform="matrix(1.0000,0,0,1,-492.67,60.5)" font-size="64.35" font-style="italic" fill="#141414" stroke="#fff" stroke-width="2">I</text><text transform="matrix(0.9683,0,0,1,-459.22,58.55)" font-size="64.06" fill="#141414" stroke="#fff" stroke-width="1.5">(a.u.)</text></g>
<rect x="1491" y="30.2" width="3.6" height="784.5" fill="#333"/>
<rect x="2458.1" y="30.2" width="3.5" height="784.5" fill="#444"/>
<rect x="1491" y="30.2" width="970.6" height="3.5" fill="#333"/>
<rect x="1491" y="807.3" width="970.6" height="7.4" fill="#888"/>
<rect x="1494.6" y="712.6" width="11.5" height="4" fill="#3a3a3a"/>
<rect x="2446.6" y="712.6" width="11.5" height="4" fill="#3a3a3a"/>
<rect x="1494.6" y="576" width="11.5" height="4" fill="#3a3a3a"/>
<rect x="2446.6" y="576" width="11.5" height="4" fill="#3a3a3a"/>
<rect x="1494.6" y="439.4" width="11.5" height="4" fill="#3a3a3a"/>
<rect x="2446.6" y="439.4" width="11.5" height="4" fill="#3a3a3a"/>
<rect x="1494.6" y="302.8" width="11.5" height="4" fill="#3a3a3a"/>
<rect x="2446.6" y="302.8" width="11.5" height="4" fill="#3a3a3a"/>
<rect x="1494.6" y="166.2" width="11.5" height="4" fill="#3a3a3a"/>
<rect x="2446.6" y="166.2" width="11.5" height="4" fill="#3a3a3a"/>
<rect x="1494.6" y="29.6" width="11.5" height="4" fill="#3a3a3a"/>
<rect x="2446.6" y="29.6" width="11.5" height="4" fill="#3a3a3a"/>
<rect x="1494.6" y="780.9" width="5" height="4" fill="#3a3a3a"/>
<rect x="2453.1" y="780.9" width="5" height="4" fill="#3a3a3a"/>
<rect x="1494.6" y="644.3" width="5" height="4" fill="#3a3a3a"/>
<rect x="2453.1" y="644.3" width="5" height="4" fill="#3a3a3a"/>
<rect x="1494.6" y="507.7" width="5" height="4" fill="#3a3a3a"/>
<rect x="2453.1" y="507.7" width="5" height="4" fill="#3a3a3a"/>
<rect x="1494.6" y="371.1" width="5" height="4" fill="#3a3a3a"/>
<rect x="2453.1" y="371.1" width="5" height="4" fill="#3a3a3a"/>
<rect x="1494.6" y="234.5" width="5" height="4" fill="#3a3a3a"/>
<rect x="2453.1" y="234.5" width="5" height="4" fill="#3a3a3a"/>
<rect x="1494.6" y="97.9" width="5" height="4" fill="#3a3a3a"/>
<rect x="2453.1" y="97.9" width="5" height="4" fill="#3a3a3a"/>
<rect x="1539.2" y="795.3" width="3.6" height="12" fill="#333"/>
<rect x="1539.2" y="33.7" width="3.6" height="13" fill="#333"/>
<rect x="1659.2" y="795.3" width="3.6" height="12" fill="#333"/>
<rect x="1659.2" y="33.7" width="3.6" height="13" fill="#333"/>
<rect x="1779.2" y="795.3" width="3.6" height="12" fill="#333"/>
<rect x="1779.2" y="33.7" width="3.6" height="13" fill="#333"/>
<rect x="1899.2" y="795.3" width="3.6" height="12" fill="#333"/>
<rect x="1899.2" y="33.7" width="3.6" height="13" fill="#333"/>
<rect x="2019.2" y="795.3" width="3.6" height="12" fill="#333"/>
<rect x="2019.2" y="33.7" width="3.6" height="13" fill="#333"/>
<rect x="2139.2" y="795.3" width="3.6" height="12" fill="#333"/>
<rect x="2139.2" y="33.7" width="3.6" height="13" fill="#333"/>
<rect x="2259.2" y="795.3" width="3.6" height="12" fill="#333"/>
<rect x="2259.2" y="33.7" width="3.6" height="13" fill="#333"/>
<rect x="2379.2" y="795.3" width="3.6" height="12" fill="#333"/>
<rect x="2379.2" y="33.7" width="3.6" height="13" fill="#333"/>
<text transform="matrix(0.9350,0,0,1,1453.34,728.04)" font-size="46.20" fill="#141414">0</text>
<text transform="matrix(0.9350,0,0,1,1429.37,591.44)" font-size="46.20" fill="#141414">10</text>
<text transform="matrix(0.9350,0,0,1,1429.37,454.84)" font-size="46.20" fill="#141414">20</text>
<text transform="matrix(0.9350,0,0,1,1429.37,318.24)" font-size="46.20" fill="#141414">30</text>
<text transform="matrix(0.9350,0,0,1,1429.37,181.64)" font-size="46.20" fill="#141414">40</text>
<text transform="matrix(0.9350,0,0,1,1429.37,45.04)" font-size="46.20" fill="#141414">50</text>
<text transform="matrix(0.9350,0,0,1,1527.66,862.82)" font-size="47.57" fill="#141414">5</text>
<text transform="matrix(0.9350,0,0,1,1634.78,862.83)" font-size="46.90" fill="#141414">10</text>
<text transform="matrix(0.9350,0,0,1,1754.54,862.82)" font-size="47.57" fill="#141414">15</text>
<text transform="matrix(0.9350,0,0,1,1875.33,862.83)" font-size="46.90" fill="#141414">20</text>
<text transform="matrix(0.9350,0,0,1,1995.44,862.83)" font-size="46.90" fill="#141414">25</text>
<text transform="matrix(0.9350,0,0,1,2115.66,862.83)" font-size="46.90" fill="#141414">30</text>
<text transform="matrix(0.9350,0,0,1,2235.77,862.83)" font-size="46.90" fill="#141414">35</text>
<text transform="matrix(0.9350,0,0,1,2355.99,862.83)" font-size="46.90" fill="#141414">40</text>
<text transform="matrix(1.0247,0,0,1,1517.42,121.76)" font-size="58.29" fill="#141414" stroke="#fff" stroke-width="1.5">(b)</text>
<text transform="matrix(0.9270,0,0,1,1852.83,969.07)" font-size="66.31" fill="#141414" stroke="#fff" stroke-width="1.5">2ϑ (deg.)</text>
<g transform="rotate(-90)"><text transform="matrix(1.0000,0,0,1,-492.67,1375.4)" font-size="64.35" font-style="italic" fill="#141414" stroke="#fff" stroke-width="2">I</text><text transform="matrix(0.9683,0,0,1,-459.22,1373.45)" font-size="64.06" fill="#141414" stroke="#fff" stroke-width="1.5">(a.u.)</text></g>
<rect x="195.3" y="1039.4" width="7.4" height="784.1" fill="#777"/>
<rect x="1162.4" y="1039.4" width="7.2" height="784.1" fill="#777"/>
<rect x="195.3" y="1039.4" width="974.3" height="3.8" fill="#444"/>
<rect x="195.3" y="1816.3" width="974.3" height="7.2" fill="#808080"/>
<rect x="202.7" y="1737.2" width="11.5" height="4" fill="#3a3a3a"/>
<rect x="1150.9" y="1737.2" width="11.5" height="4" fill="#3a3a3a"/>
<rect x="202.7" y="1654.9" width="11.5" height="4" fill="#3a3a3a"/>
<rect x="1150.9" y="1654.9" width="11.5" height="4" fill="#3a3a3a"/>
<rect x="202.7" y="1572.6" width="11.5" height="4" fill="#3a3a3a"/>
<rect x="1150.9" y="1572.6" width="11.5" height="4" fill="#3a3a3a"/>
<rect x="202.7" y="1490.3" width="11.5" height="4" fill="#3a3a3a"/>
<rect x="1150.9" y="1490.3" width="11.5" height="4" fill="#3a3a3a"/>
<rect x="202.7" y="1408" width="11.5" height="4" fill="#3a3a3a"/>
<rect x="1150.9" y="1408" width="11.5" height="4" fill="#3a3a3a"/>
<rect x="202.7" y="1325.7" width="11.5" height="4" fill="#3a3a3a"/>
<rect x="1150.9" y="1325.7" width="11.5" height="4" fill="#3a3a3a"/>
<rect x="202.7" y="1243.4" width="11.5" height="4" fill="#3a3a3a"/>
<rect x="1150.9" y="1243.4" width="11.5" height="4" fill="#3a3a3a"/>
<rect x="202.7" y="1161.1" width="11.5" height="4" fill="#3a3a3a"/>
<rect x="1150.9" y="1161.1" width="11.5" height="4" fill="#3a3a3a"/>
<rect x="202.7" y="1078.8" width="11.5" height="4" fill="#3a3a3a"/>
<rect x="1150.9" y="1078.8" width="11.5" height="4" fill="#3a3a3a"/>
<rect x="202.7" y="1778.35" width="5" height="4" fill="#3a3a3a"/>
<rect x="1157.4" y="1778.35" width="5" height="4" fill="#3a3a3a"/>
<rect x="202.7" y="1696.05" width="5" height="4" fill="#3a3a3a"/>
<rect x="1157.4" y="1696.05" width="5" height="4" fill="#3a3a3a"/>
<rect x="202.7" y="1613.75" width="5" height="4" fill="#3a3a3a"/>
<rect x="1157.4" y="1613.75" width="5" height="4" fill="#3a3a3a"/>
<rect x="202.7" y="1531.45" width="5" height="4" fill="#3a3a3a"/>
<rect x="1157.4" y="1531.45" width="5" height="4" fill="#3a3a3a"/>
<rect x="202.7" y="1449.15" width="5" height="4" fill="#3a3a3a"/>
<rect x="1157.4" y="1449.15" width="5" height="4" fill="#3a3a3a"/>
<rect x="202.7" y="1366.85" width="5" height="4" fill="#3a3a3a"/>
<rect x="1157.4" y="1366.85" width="5" height="4" fill="#3a3a3a"/>
<rect x="202.7" y="1284.55" width="5" height="4" fill="#3a3a3a"/>
<rect x="1157.4" y="1284.55" width="5" height="4" fill="#3a3a3a"/>
<rect x="202.7" y="1202.25" width="5" height="4" fill="#3a3a3a"/>
<rect x="1157.4" y="1202.25" width="5" height="4" fill="#3a3a3a"/>
<rect x="202.7" y="1119.95" width="5" height="4" fill="#3a3a3a"/>
<rect x="1157.4" y="1119.95" width="5" height="4" fill="#3a3a3a"/>
<rect x="244.35" y="1804.3" width="6.5" height="12" fill="#606060"/>
<rect x="244.35" y="1043.2" width="6.5" height="13" fill="#606060"/>
<rect x="364.35" y="1804.3" width="6.5" height="12" fill="#606060"/>
<rect x="364.35" y="1043.2" width="6.5" height="13" fill="#606060"/>
<rect x="484.35" y="1804.3" width="6.5" height="12" fill="#606060"/>
<rect x="484.35" y="1043.2" width="6.5" height="13" fill="#606060"/>
<rect x="604.35" y="1804.3" width="6.5" height="12" fill="#606060"/>
<rect x="604.35" y="1043.2" width="6.5" height="13" fill="#606060"/>
<rect x="724.35" y="1804.3" width="6.5" height="12" fill="#606060"/>
<rect x="724.35" y="1043.2" width="6.5" height="13" fill="#606060"/>
<rect x="844.35" y="1804.3" width="6.5" height="12" fill="#606060"/>
<rect x="844.35" y="1043.2" width="6.5" height="13" fill="#606060"/>
<rect x="964.35" y="1804.3" width="6.5" height="12" fill="#606060"/>
<rect x="964.35" y="1043.2" width="6.5" height="13" fill="#606060"/>
<rect x="1084.35" y="1804.3" width="6.5" height="12" fill="#606060"/>
<rect x="1084.35" y="1043.2" width="6.5" height="13" fill="#606060"/>
<text transform="matrix(0.9350,0,0,1,159.04,1752.64)" font-size="46.20" fill="#141414">0</text>
<text transform="matrix(0.9350,0,0,1,135.07,1670.34)" font-size="46.20" fill="#141414">10</text>
<text transform="matrix(0.9350,0,0,1,135.07,1588.04)" font-size="46.20" fill="#141414">20</text>
<text transform="matrix(0.9350,0,0,1,135.07,1505.74)" font-size="46.20" fill="#141414">30</text>
<text transform="matrix(0.9350,0,0,1,135.07,1423.44)" font-size="46.20" fill="#141414">40</text>
<text transform="matrix(0.9350,0,0,1,135.07,1341.14)" font-size="46.20" fill="#141414">50</text>
<text transform="matrix(0.9350,0,0,1,135.07,1258.84)" font-size="46.20" fill="#141414">60</text>
<text transform="matrix(0.9350,0,0,1,135.07,1176.54)" font-size="46.20" fill="#141414">70</text>
<text transform="matrix(0.9350,0,0,1,135.07,1094.24)" font-size="46.20" fill="#141414">80</text>
<text transform="matrix(0.9350,0,0,1,234.18,1872.22)" font-size="47.86" fill="#141414">5</text>
<text transform="matrix(0.9350,0,0,1,341.23,1872.23)" font-size="47.18" fill="#141414">10</text>
<text transform="matrix(0.9350,0,0,1,460.98,1872.22)" font-size="47.86" fill="#141414">15</text>
<text transform="matrix(0.9350,0,0,1,581.78,1872.23)" font-size="47.18" fill="#141414">20</text>
<text transform="matrix(0.9350,0,0,1,701.89,1872.23)" font-size="47.18" fill="#141414">25</text>
<text transform="matrix(0.9350,0,0,1,822.12,1872.23)" font-size="47.18" fill="#141414">30</text>
<text transform="matrix(0.9350,0,0,1,942.23,1872.23)" font-size="47.18" fill="#141414">35</text>
<text transform="matrix(0.9350,0,0,1,1062.45,1872.23)" font-size="47.18" fill="#141414">40</text>
<text transform="matrix(0.9355,0,0,1,232.98,1134.9)" font-size="60.96" fill="#141414" stroke="#fff" stroke-width="1.5">(c)</text>
<text transform="matrix(0.9270,0,0,1,558.93,1986.57)" font-size="66.31" fill="#141414" stroke="#fff" stroke-width="1.5">2ϑ (deg.)</text>
<g transform="rotate(-90)"><text transform="matrix(1.0000,0,0,1,-1500.57,79.4)" font-size="64.35" font-style="italic" fill="#141414" stroke="#fff" stroke-width="2">I</text><text transform="matrix(0.9683,0,0,1,-1467.12,77.45)" font-size="64.06" fill="#141414" stroke="#fff" stroke-width="1.5">(a.u.)</text></g>
<g transform="translate(0,0)">
<rect x="568.5" y="138.8" width="12" height="4.4" fill="#ff7c7c" opacity="0.85"/>
<rect x="572.3" y="135.5" width="4.4" height="11" fill="#ff7c7c" opacity="0.85"/>
<text transform="matrix(1.0000,0,0,1,637.8,156.9)" font-size="42.61" font-style="italic" fill="#141414">I</text>
<text transform="matrix(0.9981,0,0,1,649.34,167.51)" font-size="28.98" fill="#141414">obs</text>
<rect x="519.5" y="205.4" width="112.2" height="7.6" fill="#7d7dff"/>
<text transform="matrix(1.0000,0,0,1,637.8,224.3)" font-size="42.61" font-style="italic" fill="#141414">I</text>
<text transform="matrix(0.9581,0,0,1,649.36,234.9)" font-size="29.80" fill="#141414">cal</text>
<rect x="519.5" y="273.2" width="112.2" height="3.2" fill="#a8d8a8"/>
<rect x="519.5" y="276.4" width="112.2" height="3.7" fill="#3ea03e"/>
<text transform="matrix(1.0000,0,0,1,637.8,291.7)" font-size="42.61" font-style="italic" fill="#141414">I</text>
<text transform="matrix(0.9981,0,0,1,649.34,302.31)" font-size="28.98" fill="#141414">obs</text>
<rect x="703.5" y="280.4" width="14" height="3.4" fill="#2a2a2a"/>
<text transform="matrix(1.0000,0,0,1,724.3,291.7)" font-size="42.61" font-style="italic" fill="#141414">I</text>
<text transform="matrix(0.9523,0,0,1,735.66,302.3)" font-size="29.80" fill="#141414">cal</text>
<rect x="572.1" y="336.7" width="7.5" height="17.9" fill="#c4c4c4"/>
<text transform="matrix(0.9609,0,0,1,636.8,362.6)" font-size="43.20" fill="#141414">peak position</text>
<rect x="572.1" y="396" width="7.5" height="18.5" fill="#d6adff"/>
<text transform="matrix(0.9363,0,0,1,636.87,421.6)" font-size="43.20" fill="#141414">peak position (PbBi</text>
<text transform="matrix(1.0701,0,0,1,983.35,429.5)" font-size="25.65" fill="#141414">4</text>
<text transform="matrix(1.0120,0,0,1,997.43,421.6)" font-size="43.20" fill="#141414">Te</text>
<text transform="matrix(1.1823,0,0,1,1042.08,429.5)" font-size="25.65" fill="#141414">7</text>
<text transform="matrix(0.6551,0,0,1,1061.16,421.6)" font-size="43.20" fill="#141414">)</text>
<rect x="572.1" y="463.4" width="7.5" height="18.5" fill="#ffadff"/>
<text transform="matrix(0.9401,0,0,1,636.86,488.8)" font-size="43.20" fill="#141414">peak position (PbTe)</text>
</g>
<g transform="translate(1358.5,3.3)">
<rect x="568.5" y="138.8" width="12" height="4.4" fill="#ff7c7c" opacity="0.85"/>
<rect x="572.3" y="135.5" width="4.4" height="11" fill="#ff7c7c" opacity="0.85"/>
<text transform="matrix(1.0000,0,0,1,637.8,156.9)" font-size="42.61" font-style="italic" fill="#141414">I</text>
<text transform="matrix(0.9981,0,0,1,649.34,167.51)" font-size="28.98" fill="#141414">obs</text>
<rect x="519.5" y="205.4" width="112.2" height="7.6" fill="#7d7dff"/>
<text transform="matrix(1.0000,0,0,1,637.8,224.3)" font-size="42.61" font-style="italic" fill="#141414">I</text>
<text transform="matrix(0.9581,0,0,1,649.36,234.9)" font-size="29.80" fill="#141414">cal</text>
<rect x="519.5" y="273.2" width="112.2" height="3.2" fill="#a8d8a8"/>
<rect x="519.5" y="276.4" width="112.2" height="3.7" fill="#3ea03e"/>
<text transform="matrix(1.0000,0,0,1,637.8,291.7)" font-size="42.61" font-style="italic" fill="#141414">I</text>
<text transform="matrix(0.9981,0,0,1,649.34,302.31)" font-size="28.98" fill="#141414">obs</text>
<rect x="703.5" y="280.4" width="14" height="3.4" fill="#2a2a2a"/>
<text transform="matrix(1.0000,0,0,1,724.3,291.7)" font-size="42.61" font-style="italic" fill="#141414">I</text>
<text transform="matrix(0.9523,0,0,1,735.66,302.3)" font-size="29.80" fill="#141414">cal</text>
<rect x="572.1" y="336.7" width="3.8" height="17.9" fill="#a0a0a0"/>
<text transform="matrix(0.9609,0,0,1,636.8,362.6)" font-size="43.20" fill="#141414">peak position</text>
<rect x="572.1" y="396" width="3.8" height="18.5" fill="#cc9cff"/>
<text transform="matrix(0.9363,0,0,1,636.87,421.6)" font-size="43.20" fill="#141414">peak position (PbBi</text>
<text transform="matrix(1.0701,0,0,1,983.35,429.5)" font-size="25.65" fill="#141414">4</text>
<text transform="matrix(1.0120,0,0,1,997.43,421.6)" font-size="43.20" fill="#141414">Te</text>
<text transform="matrix(1.1823,0,0,1,1042.08,429.5)" font-size="25.65" fill="#141414">7</text>
<text transform="matrix(0.6551,0,0,1,1061.16,421.6)" font-size="43.20" fill="#141414">)</text>
</g>
<g transform="translate(-3.2,1009)">
<rect x="568.5" y="138.8" width="12" height="4.4" fill="#ff7c7c" opacity="0.85"/>
<rect x="572.3" y="135.5" width="4.4" height="11" fill="#ff7c7c" opacity="0.85"/>
<text transform="matrix(1.0000,0,0,1,637.8,156.9)" font-size="42.61" font-style="italic" fill="#141414">I</text>
<text transform="matrix(0.9981,0,0,1,649.34,167.51)" font-size="28.98" fill="#141414">obs</text>
<rect x="519.5" y="205.4" width="112.2" height="7.6" fill="#7d7dff"/>
<text transform="matrix(1.0000,0,0,1,637.8,224.3)" font-size="42.61" font-style="italic" fill="#141414">I</text>
<text transform="matrix(0.9581,0,0,1,649.36,234.9)" font-size="29.80" fill="#141414">cal</text>
<rect x="519.5" y="273.2" width="112.2" height="3.2" fill="#a8d8a8"/>
<rect x="519.5" y="276.4" width="112.2" height="3.7" fill="#3ea03e"/>
<text transform="matrix(1.0000,0,0,1,637.8,291.7)" font-size="42.61" font-style="italic" fill="#141414">I</text>
<text transform="matrix(0.9981,0,0,1,649.34,302.31)" font-size="28.98" fill="#141414">obs</text>
<rect x="703.5" y="280.4" width="14" height="3.4" fill="#2a2a2a"/>
<text transform="matrix(1.0000,0,0,1,724.3,291.7)" font-size="42.61" font-style="italic" fill="#141414">I</text>
<text transform="matrix(0.9523,0,0,1,735.66,302.3)" font-size="29.80" fill="#141414">cal</text>
<rect x="572.1" y="336.7" width="7.5" height="17.9" fill="#c4c4c4"/>
<text transform="matrix(0.9609,0,0,1,636.8,362.6)" font-size="43.20" fill="#141414">peak position</text>
<rect x="572.1" y="396" width="7.5" height="18.5" fill="#d6adff"/>
<text transform="matrix(0.9363,0,0,1,636.87,421.6)" font-size="43.20" fill="#141414">peak position (PbBi</text>
<text transform="matrix(1.0701,0,0,1,983.35,429.5)" font-size="25.65" fill="#141414">4</text>
<text transform="matrix(1.0120,0,0,1,997.43,421.6)" font-size="43.20" fill="#141414">Te</text>
<text transform="matrix(1.1823,0,0,1,1042.08,429.5)" font-size="25.65" fill="#141414">7</text>
<text transform="matrix(0.6551,0,0,1,1061.16,421.6)" font-size="43.20" fill="#141414">)</text>
</g>
<rect x="1580.2" y="1005.3" width="787.7" height="803.5" fill="#373737"/>
<rect x="1580.2" y="1005.3" width="3.8" height="803.5" fill="#4e4e4e"/>
<rect x="1580.2" y="1005.3" width="787.7" height="3.8" fill="#464646"/>
<rect x="2364.3" y="1005.3" width="3.6" height="803.5" fill="#555"/>
<rect x="1580.2" y="1808.8" width="787.7" height="3.5" fill="#dedede"/>
<clipPath id="xtal"><polygon points="1708.4,1128.7 1708.4,1121.5 1727.1,1098.7 1739.5,1090.4 1764.4,1091.4 1781.0,1096.6 1797.6,1102.8 1808.0,1117.3 1837.0,1146.4 1847.4,1148.4 1859.8,1146.4 1870.2,1152.6 1874.3,1133.9 1893.0,1116.3 1901.3,1117.3 1930.3,1129.8 1961.4,1146.4 1971.8,1144.3 2003.0,1154.7 2039.4,1154.7 2079.7,1164.8 2144.2,1199.0 2184.5,1219.2 2224.8,1229.3 2243.0,1239.4 2261.1,1259.5 2271.2,1263.5 2289.4,1295.8 2313.5,1332.1 2311.3,1345.2 2296.8,1369.4 2292.0,1398.4 2277.4,1405.7 2258.0,1429.9 2243.6,1437.1 2233.9,1422.6 2224.2,1425.0 2212.1,1446.8 2207.3,1461.3 2190.3,1473.4 2187.9,1500.0 2187.9,1524.2 2175.8,1533.9 2154.0,1562.9 2132.3,1584.7 2112.9,1577.4 2122.6,1589.6 2132.3,1620.0 2134.1,1634.5 2122.0,1654.7 2120.0,1682.9 2114.0,1715.2 2099.8,1747.4 2075.6,1719.2 2039.4,1691.0 2023.2,1674.8 1970.8,1622.4 1918.4,1570.0 1857.9,1517.6 1809.5,1457.1 1785.2,1434.0 1764.4,1411.8 1733.3,1374.5 1702.2,1335.0 1667.0,1287.4 1652.4,1266.6 1646.2,1250.0 1646.2,1237.6 1660.7,1221.0 1677.3,1206.5 1687.7,1198.2 1696.0,1183.7 1697.0,1175.0 1683.0,1170.0 1680.0,1159.0 1688.0,1154.0 1698.0,1157.0 1702.2,1165.0 1708.4,1150.5 1716.7,1146.4 1711.5,1140.1"/></clipPath>
<polygon points="1708.4,1128.7 1708.4,1121.5 1727.1,1098.7 1739.5,1090.4 1764.4,1091.4 1781.0,1096.6 1797.6,1102.8 1808.0,1117.3 1837.0,1146.4 1847.4,1148.4 1859.8,1146.4 1870.2,1152.6 1874.3,1133.9 1893.0,1116.3 1901.3,1117.3 1930.3,1129.8 1961.4,1146.4 1971.8,1144.3 2003.0,1154.7 2039.4,1154.7 2079.7,1164.8 2144.2,1199.0 2184.5,1219.2 2224.8,1229.3 2243.0,1239.4 2261.1,1259.5 2271.2,1263.5 2289.4,1295.8 2313.5,1332.1 2311.3,1345.2 2296.8,1369.4 2292.0,1398.4 2277.4,1405.7 2258.0,1429.9 2243.6,1437.1 2233.9,1422.6 2224.2,1425.0 2212.1,1446.8 2207.3,1461.3 2190.3,1473.4 2187.9,1500.0 2187.9,1524.2 2175.8,1533.9 2154.0,1562.9 2132.3,1584.7 2112.9,1577.4 2122.6,1589.6 2132.3,1620.0 2134.1,1634.5 2122.0,1654.7 2120.0,1682.9 2114.0,1715.2 2099.8,1747.4 2075.6,1719.2 2039.4,1691.0 2023.2,1674.8 1970.8,1622.4 1918.4,1570.0 1857.9,1517.6 1809.5,1457.1 1785.2,1434.0 1764.4,1411.8 1733.3,1374.5 1702.2,1335.0 1667.0,1287.4 1652.4,1266.6 1646.2,1250.0 1646.2,1237.6 1660.7,1221.0 1677.3,1206.5 1687.7,1198.2 1696.0,1183.7 1697.0,1175.0 1683.0,1170.0 1680.0,1159.0 1688.0,1154.0 1698.0,1157.0 1702.2,1165.0 1708.4,1150.5 1716.7,1146.4 1711.5,1140.1" fill="#d4d4d4" stroke="#2c2c2c" stroke-width="2.5" stroke-linejoin="round"/>
<g clip-path="url(#xtal)"><path d="M1646.2,1237.6 1646.2,1250.0 1652.4,1266.6 1667.0,1287.4 1702.2,1335.0 1733.3,1374.5 1764.4,1411.8 1785.2,1434.0 1809.5,1457.1 1857.9,1517.6 1918.4,1570.0 1970.8,1622.4 2023.2,1674.8 2039.4,1691.0 2075.6,1719.2 2099.8,1747.4" fill="none" stroke="#a8a8a8" stroke-width="18" stroke-linejoin="round"/><path d="M1646.2,1237.6 1646.2,1250.0 1652.4,1266.6 1667.0,1287.4 1702.2,1335.0 1733.3,1374.5 1764.4,1411.8 1785.2,1434.0 1809.5,1457.1 1857.9,1517.6 1918.4,1570.0 1970.8,1622.4 2023.2,1674.8 2039.4,1691.0 2075.6,1719.2 2099.8,1747.4" fill="none" stroke="#8c8c8c" stroke-width="8" stroke-linejoin="round"/><polygon points="1961.4,1146.4 1971.8,1144.3 2003.0,1154.7 2039.4,1154.7 2079.7,1164.8 2110.0,1182.0 2070.0,1186.0 2020.0,1182.0 1975.0,1178.0 1963.0,1165.0" fill="#b8b8b8" opacity="0.75"/><polygon points="2271.2,1263.5 2289.4,1295.8 2313.5,1332.1 2311.3,1345.2 2300.0,1345.0 2282.0,1310.0 2266.0,1275.0" fill="#bcbcbc" opacity="0.85"/><path d="M1772.7,1111.1 1837.0,1169.2" fill="none" stroke="#8e8e8e" stroke-width="2.6" stroke-linejoin="round" stroke-linecap="round" opacity="0.9"/><path d="M1783.0,1106.0 1839.0,1156.7" fill="none" stroke="#a0a0a0" stroke-width="2.2" stroke-linejoin="round" stroke-linecap="round" opacity="0.8"/><path d="M1712.6,1148.4 1743.7,1177.5" fill="none" stroke="#a0a0a0" stroke-width="2.2" stroke-linejoin="round" stroke-linecap="round" opacity="0.8"/><path d="M1681.5,1204.4 1664.9,1260.4" fill="none" stroke="#a8a8a8" stroke-width="2.2" stroke-linejoin="round" stroke-linecap="round" opacity="0.8"/><path d="M2095.8,1195.0 2030.0,1210.0 1967.7,1233.5 1936.3,1267.7 1924.2,1301.6" fill="none" stroke="#a0a0a0" stroke-width="2.2" stroke-linejoin="round" stroke-linecap="round" opacity="0.85"/><path d="M1924.2,1301.6 1960.5,1345.2 2004.0,1408.0" fill="none" stroke="#9a9a9a" stroke-width="2.2" stroke-linejoin="round" stroke-linecap="round" opacity="0.85"/><path d="M2006.5,1429.9 1979.8,1466.2 1960.5,1502.4 1943.6,1538.7 1931.5,1562.9 1915.0,1600.0" fill="none" stroke="#909090" stroke-width="2.6" stroke-linejoin="round" stroke-linecap="round" opacity="0.9"/><path d="M2243.6,1255.7 2214.5,1292.0 2190.3,1325.8 2178.2,1357.3 2166.2,1383.9 2142.0,1400.8 2117.8,1429.9 2093.6,1454.0 2074.2,1490.3 2064.5,1514.5 2059.7,1550.8 2050.0,1587.0 2040.3,1620.0 2030.0,1660.0" fill="none" stroke="#8c8c8c" stroke-width="2.8" stroke-linejoin="round" stroke-linecap="round" opacity="0.9"/><path d="M2230.0,1262.0 2203.0,1300.0 2182.0,1340.0 2161.3,1393.6 2129.9,1442.0 2105.7,1490.3 2088.7,1538.7 2079.0,1587.0 2069.4,1620.0 2060.0,1665.0" fill="none" stroke="#9a9a9a" stroke-width="2.4" stroke-linejoin="round" stroke-linecap="round" opacity="0.85"/><path d="M2140.0,1412.0 2110.0,1448.0 2090.0,1488.0 2078.0,1530.0 2072.0,1570.0 2062.0,1610.0 2050.0,1655.0" fill="none" stroke="#a4a4a4" stroke-width="2.0" stroke-linejoin="round" stroke-linecap="round" opacity="0.7"/><path d="M2098.4,1200.0 2150.0,1240.0 2214.5,1292.0" fill="none" stroke="#a8a8a8" stroke-width="2.0" stroke-linejoin="round" stroke-linecap="round" opacity="0.7"/><path d="M2142.0,1241.0 2190.0,1262.0 2243.6,1255.7" fill="none" stroke="#aaaaaa" stroke-width="2.0" stroke-linejoin="round" stroke-linecap="round" opacity="0.6"/><path d="M1922.0,1304.0 1900.0,1330.0 1878.5,1355.8 1862.0,1360.0" fill="none" stroke="#a4a4a4" stroke-width="2.0" stroke-linejoin="round" stroke-linecap="round" opacity="0.7"/><ellipse cx="1857.7" cy="1305" rx="46" ry="40" fill="none" stroke="#a8a8a8" stroke-width="2" opacity="0.6" transform="rotate(-20 1857.7 1305)"/><path d="M1700.0,1215.0 1740.0,1250.0 1790.0,1300.0" fill="none" stroke="#b0b0b0" stroke-width="2.0" stroke-linejoin="round" stroke-linecap="round" opacity="0.6"/><path d="M1760.0,1380.0 1790.0,1350.0 1830.0,1340.0" fill="none" stroke="#b0b0b0" stroke-width="2.0" stroke-linejoin="round" stroke-linecap="round" opacity="0.6"/><path d="M2000.0,1540.0 2020.0,1530.0 2035.0,1545.0 2040.0,1580.0" fill="none" stroke="#acacac" stroke-width="2.0" stroke-linejoin="round" stroke-linecap="round" opacity="0.6"/><path d="M2140.0,1545.0 2160.0,1520.0 2175.0,1480.0" fill="none" stroke="#a0a0a0" stroke-width="2.2" stroke-linejoin="round" stroke-linecap="round" opacity="0.8"/><path d="M2110.0,1690.0 2080.0,1660.0 2060.0,1640.0" fill="none" stroke="#a0a0a0" stroke-width="2.2" stroke-linejoin="round" stroke-linecap="round" opacity="0.7"/></g>
<polygon points="2007.0,1412.0 2020.0,1410.5 2035.0,1413.0 2045.0,1420.0 2051.0,1428.0 2046.0,1437.0 2035.0,1439.5 2022.0,1434.0 2008.0,1431.0" fill="#4a4a4a"/>
<circle cx="2029.4" cy="1287.1" r="2.2" fill="#555"/>
<circle cx="2001.6" cy="1541.2" r="3.2" fill="#555"/>
<circle cx="1980.0" cy="1638.0" r="2" fill="#555"/>
<path d="M1729.1,1426.6h3v3h-3zM1758.6,1418.0h3v3h-3zM1748.2,1450.2h3v3h-3zM1706.3,1420.0h3v3h-3zM1751.9,1453.6h3v3h-3zM1787.9,1415.1h3v3h-3zM1777.3,1441.9h3v3h-3zM1713.0,1423.0h3v3h-3zM1757.5,1451.0h3v3h-3zM1749.3,1416.9h3v3h-3zM1761.2,1457.0h3v3h-3zM1740.8,1443.0h3v3h-3zM1771.5,1486.9h3v3h-3zM1765.7,1441.7h3v3h-3zM1788.2,1423.0h3v3h-3zM1768.8,1473.0h3v3h-3zM1778.8,1444.5h3v3h-3zM1762.6,1475.4h3v3h-3zM1752.2,1460.2h3v3h-3zM1775.6,1513.9h3v3h-3zM1774.0,1441.3h3v3h-3z" fill="#4c4c4c" opacity="0.8"/>
<text transform="matrix(1.0766,0,0,1,1587.84,1078.64)" font-size="59.79" fill="#e0e0e0" stroke="#373737" stroke-width="1.6">(d)</text>
<text transform="matrix(0.8924,0,0,1,1897.13,1082.6)" font-size="62.60" fill="#f4f4f4" stroke="#373737" stroke-width="1.2">HEA-type</text>
<text transform="matrix(0.8591,0,0,1,2151.69,1082.6)" font-size="62.61" font-style="italic" fill="#f4f4f4" stroke="#373737" stroke-width="1.2">M</text>
<text transform="matrix(1.1549,0,0,1,2193.12,1082.6)" font-size="62.60" fill="#f4f4f4" stroke="#373737" stroke-width="1.2">Bi</text>
<text transform="matrix(1.0126,0,0,1,2253.91,1096)" font-size="39.29" fill="#f4f4f4" stroke="#373737" stroke-width="1.2">2</text>
<text transform="matrix(0.8798,0,0,1,2274.1,1082.6)" font-size="62.60" fill="#f4f4f4" stroke="#373737" stroke-width="1.2">Te</text>
<text transform="matrix(1.0586,0,0,1,2331.4,1095.2)" font-size="37.97" fill="#f4f4f4" stroke="#373737" stroke-width="1.2">4</text>
<rect x="1601.5" y="1831" width="749" height="3.9" fill="#dcdcdc"/>
<rect x="1603" y="1834.9" width="746.3" height="10.9" fill="#000"/>
<rect x="1603" y="1845.8" width="746.3" height="4" fill="#4d4d4d"/>
<rect x="1600.8" y="1831" width="4.4" height="3.9" fill="#777"/>
<rect x="1675.43" y="1831" width="4.4" height="3.9" fill="#777"/>
<rect x="1750.06" y="1831" width="4.4" height="3.9" fill="#777"/>
<rect x="1824.69" y="1831" width="4.4" height="3.9" fill="#777"/>
<rect x="1899.32" y="1831" width="4.4" height="3.9" fill="#777"/>
<rect x="1973.95" y="1831" width="4.4" height="3.9" fill="#777"/>
<rect x="2048.58" y="1831" width="4.4" height="3.9" fill="#777"/>
<rect x="2123.21" y="1831" width="4.4" height="3.9" fill="#777"/>
<rect x="2197.84" y="1831" width="4.4" height="3.9" fill="#777"/>
<rect x="2272.47" y="1831" width="4.4" height="3.9" fill="#777"/>
<rect x="2347.1" y="1831" width="4.4" height="3.9" fill="#777"/>
<text transform="matrix(0.8195,0,0,1,2226.99,1890.5)" font-size="52.17" fill="#141414">1</text>
<text transform="matrix(1.0299,0,0,1,2267.74,1890.5)" font-size="47.22" fill="#141414">mm</text>
</svg></body></html>
